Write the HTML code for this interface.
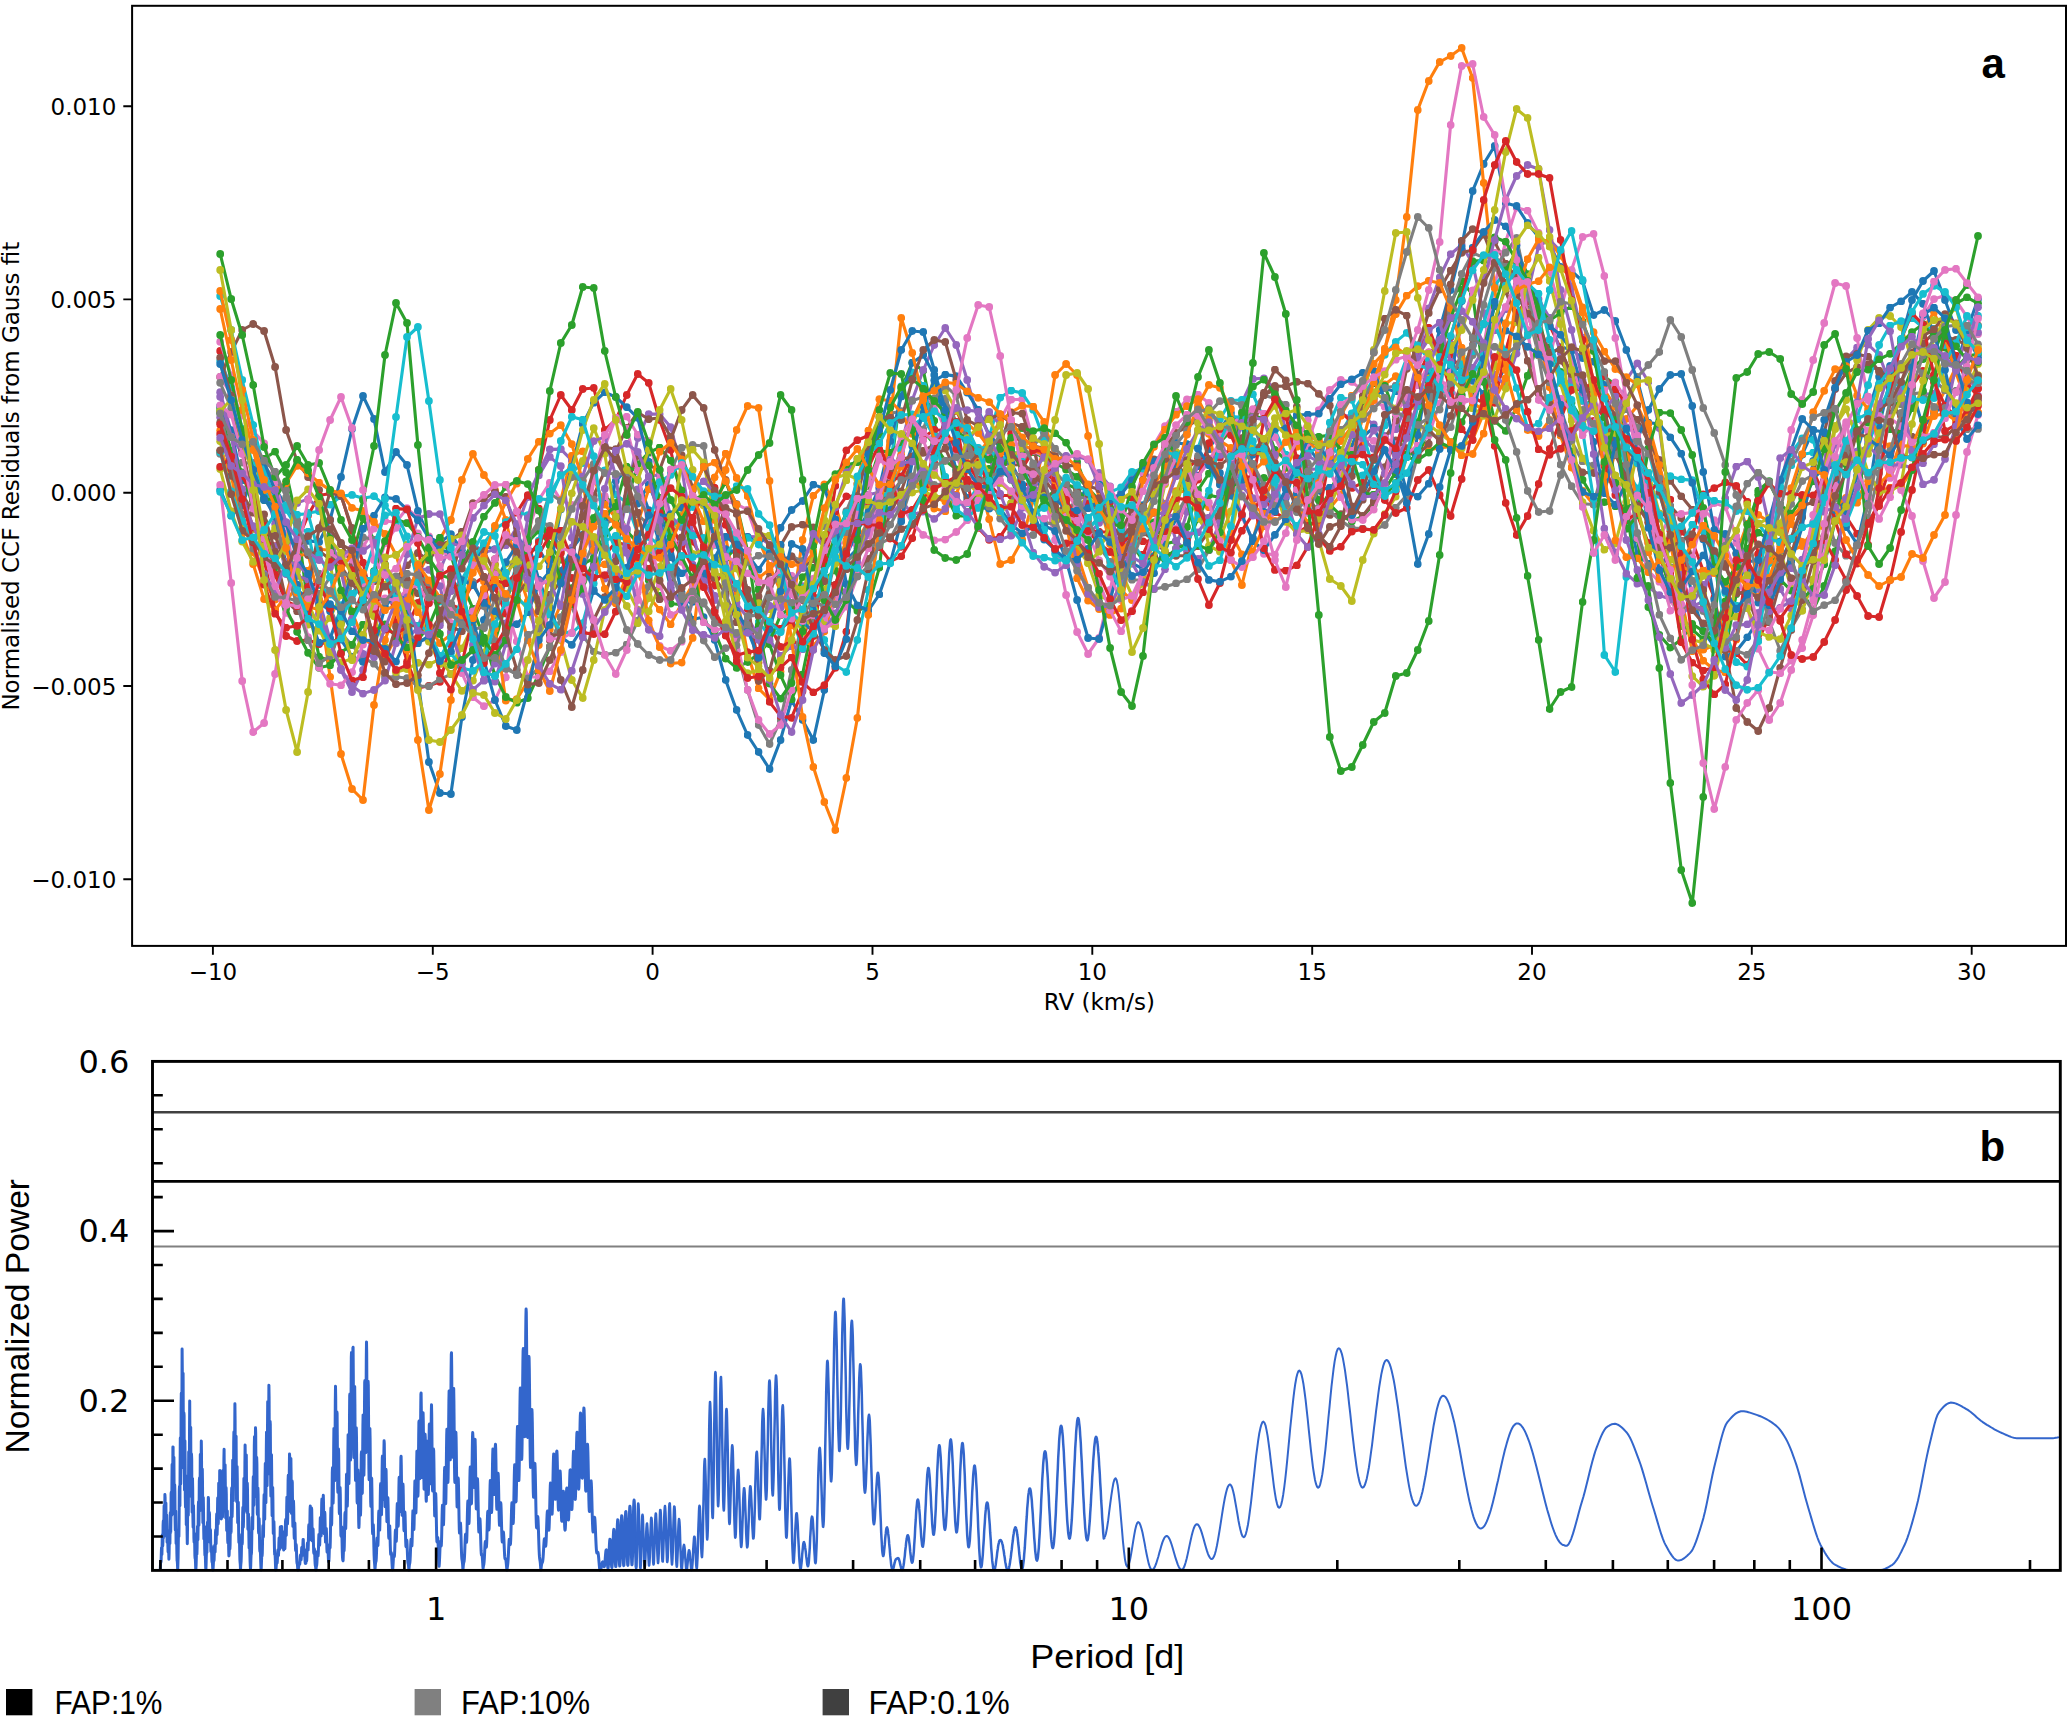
<!DOCTYPE html>
<html lang="en"><head><meta charset="utf-8"><title>CCF residuals and periodogram</title>
<style>html,body{margin:0;padding:0;background:#fff;}body{width:2069px;height:1719px;overflow:hidden;}svg{display:block;}.dj{font-family:"DejaVu Sans","Liberation Sans",sans-serif;font-size:23px;fill:#000;}  .tb{font-family:"Liberation Sans","DejaVu Sans",sans-serif;font-size:33.5px;fill:#000;}.bd{font-family:"Liberation Sans","DejaVu Sans",sans-serif;font-weight:bold;font-size:42px;fill:#000;}</style></head><body>
<svg width="2069" height="1719" viewBox="0 0 2069 1719">
<rect x="0" y="0" width="2069" height="1719" fill="#ffffff"/>
<defs>
<marker id="m0" markerUnits="userSpaceOnUse" markerWidth="8" markerHeight="8" refX="4" refY="4"><circle cx="4" cy="4" r="3.9" fill="#1f77b4"/></marker>
<marker id="m1" markerUnits="userSpaceOnUse" markerWidth="8" markerHeight="8" refX="4" refY="4"><circle cx="4" cy="4" r="3.9" fill="#ff7f0e"/></marker>
<marker id="m2" markerUnits="userSpaceOnUse" markerWidth="8" markerHeight="8" refX="4" refY="4"><circle cx="4" cy="4" r="3.9" fill="#2ca02c"/></marker>
<marker id="m3" markerUnits="userSpaceOnUse" markerWidth="8" markerHeight="8" refX="4" refY="4"><circle cx="4" cy="4" r="3.9" fill="#d62728"/></marker>
<marker id="m4" markerUnits="userSpaceOnUse" markerWidth="8" markerHeight="8" refX="4" refY="4"><circle cx="4" cy="4" r="3.9" fill="#9467bd"/></marker>
<marker id="m5" markerUnits="userSpaceOnUse" markerWidth="8" markerHeight="8" refX="4" refY="4"><circle cx="4" cy="4" r="3.9" fill="#8c564b"/></marker>
<marker id="m6" markerUnits="userSpaceOnUse" markerWidth="8" markerHeight="8" refX="4" refY="4"><circle cx="4" cy="4" r="3.9" fill="#e377c2"/></marker>
<marker id="m7" markerUnits="userSpaceOnUse" markerWidth="8" markerHeight="8" refX="4" refY="4"><circle cx="4" cy="4" r="3.9" fill="#7f7f7f"/></marker>
<marker id="m8" markerUnits="userSpaceOnUse" markerWidth="8" markerHeight="8" refX="4" refY="4"><circle cx="4" cy="4" r="3.9" fill="#bcbd22"/></marker>
<marker id="m9" markerUnits="userSpaceOnUse" markerWidth="8" markerHeight="8" refX="4" refY="4"><circle cx="4" cy="4" r="3.9" fill="#17becf"/></marker>
</defs>
<g fill="none" stroke-width="3.1" stroke-linejoin="round" stroke-linecap="round">
<polyline points="220.2,412.0 231.2,431.5 242.2,480.4 253.2,485.2 264.1,497.4 275.1,488.0 286.1,506.2 297.1,529.3 308.1,540.9 319.1,542.0 330.1,520.0 341.0,477.0 352.0,429.0 363.0,396.0 374.0,419.0 385.0,472.0 396.0,452.0 407.0,465.0 417.9,511.0 428.9,537.4 439.9,542.7 450.9,534.1 461.9,550.3 472.9,564.4 483.9,546.1 494.9,549.2 505.8,543.3 516.8,536.0 527.8,550.4 538.8,549.1 549.8,567.3 560.8,570.9 571.8,549.0 582.7,534.8 593.7,522.7 604.7,523.1 615.7,518.8 626.7,503.7 637.7,503.5 648.7,484.5 659.6,511.2 670.6,544.0 681.6,592.9 692.6,619.5 703.6,617.1 714.6,640.0 725.6,680.0 736.5,710.0 747.5,735.0 758.5,752.0 769.5,769.0 780.5,740.0 791.5,700.0 802.5,720.0 813.4,740.0 824.4,690.0 835.4,620.0 846.4,560.0 857.4,548.7 868.4,526.5 879.4,516.6 890.3,509.9 901.3,477.6 912.3,446.0 923.3,412.9 934.3,400.1 945.3,403.3 956.3,427.5 967.2,447.4 978.2,466.7 989.2,478.6 1000.2,467.4 1011.2,449.0 1022.2,461.8 1033.2,476.5 1044.2,493.0 1055.1,512.7 1066.1,523.6 1077.1,504.3 1088.1,484.9 1099.1,478.7 1110.1,491.9 1121.1,507.8 1132.0,507.9 1143.0,505.2 1154.0,494.3 1165.0,474.9 1176.0,466.6 1187.0,475.7 1198.0,466.2 1208.9,449.4 1219.9,430.4 1230.9,413.0 1241.9,426.4 1252.9,466.2 1263.9,495.5 1274.9,506.2 1285.8,497.7 1296.8,462.1 1307.8,446.4 1318.8,461.7 1329.8,460.7 1340.8,456.5 1351.8,446.7 1362.7,415.1 1373.7,398.2 1384.7,388.4 1395.7,391.4 1406.7,393.1 1417.7,405.6 1428.7,396.8 1439.6,376.5 1450.6,367.1 1461.6,369.1 1472.6,380.9 1483.6,393.9 1494.6,388.6 1505.6,365.7 1516.5,347.9 1527.5,335.6 1538.5,325.0 1549.5,355.1 1560.5,347.1 1571.5,349.4 1582.5,358.1 1593.5,361.7 1604.4,385.0 1615.4,439.7 1626.4,505.8 1637.4,555.1 1648.4,563.6 1659.4,573.8 1670.4,546.2 1681.3,545.1 1692.3,595.9 1703.3,631.0 1714.3,646.6 1725.3,625.7 1736.3,587.1 1747.3,562.0 1758.2,560.0 1769.2,562.6 1780.2,562.9 1791.2,538.9 1802.2,508.5 1813.2,478.5 1824.2,468.1 1835.1,467.0 1846.1,472.4 1857.1,451.7 1868.1,412.3 1879.1,376.8 1890.1,365.9 1901.1,383.4 1912.0,388.4 1923.0,427.9 1934.0,412.8 1945.0,405.2 1956.0,366.5 1967.0,330.6 1978.0,299.0" stroke="#1f77b4" marker-start="url(#m0)" marker-mid="url(#m0)" marker-end="url(#m0)"/>
<polyline points="220.2,430.5 231.2,466.1 242.2,514.9 253.2,552.2 264.1,581.0 275.1,599.6 286.1,601.0 297.1,586.2 308.1,570.5 319.1,549.3 330.1,550.3 341.0,561.6 352.0,612.3 363.0,638.7 374.0,645.8 385.0,657.6 396.0,637.2 407.0,621.8 417.9,574.9 428.9,553.4 439.9,539.1 450.9,520.0 461.9,480.0 472.9,454.0 483.9,475.0 494.9,490.0 505.8,520.0 516.8,568.1 527.8,601.4 538.8,620.5 549.8,629.5 560.8,604.5 571.8,600.4 582.7,580.7 593.7,567.1 604.7,564.3 615.7,571.8 626.7,587.1 637.7,573.2 648.7,596.7 659.6,609.5 670.6,624.4 681.6,603.5 692.6,584.7 703.6,561.8 714.6,530.7 725.6,536.9 736.5,594.5 747.5,653.2 758.5,688.3 769.5,699.4 780.5,671.6 791.5,612.4 802.5,539.9 813.4,495.7 824.4,484.4 835.4,505.6 846.4,540.1 857.4,539.2 868.4,522.3 879.4,498.6 890.3,488.3 901.3,466.6 912.3,480.3 923.3,487.1 934.3,508.5 945.3,511.4 956.3,494.5 967.2,462.7 978.2,478.6 989.2,519.2 1000.2,564.0 1011.2,560.0 1022.2,540.0 1033.2,500.0 1044.2,440.0 1055.1,375.0 1066.1,364.0 1077.1,375.0 1088.1,436.0 1099.1,500.0 1110.1,544.1 1121.1,590.4 1132.0,600.1 1143.0,577.5 1154.0,539.0 1165.0,511.9 1176.0,491.1 1187.0,491.7 1198.0,499.1 1208.9,507.3 1219.9,520.0 1230.9,560.0 1241.9,585.0 1252.9,540.0 1263.9,500.0 1274.9,476.1 1285.8,484.7 1296.8,503.2 1307.8,523.0 1318.8,525.7 1329.8,508.3 1340.8,494.7 1351.8,458.5 1362.7,417.3 1373.7,395.9 1384.7,384.4 1395.7,376.2 1406.7,406.6 1417.7,435.3 1428.7,450.1 1439.6,447.7 1450.6,446.8 1461.6,446.7 1472.6,439.7 1483.6,413.4 1494.6,379.7 1505.6,351.3 1516.5,317.7 1527.5,311.3 1538.5,333.2 1549.5,387.2 1560.5,435.7 1571.5,467.6 1582.5,490.7 1593.5,504.7 1604.4,491.6 1615.4,451.4 1626.4,418.9 1637.4,405.7 1648.4,429.2 1659.4,474.2 1670.4,543.2 1681.3,597.7 1692.3,651.3 1703.3,649.7 1714.3,645.2 1725.3,611.1 1736.3,553.8 1747.3,523.8 1758.2,514.9 1769.2,521.7 1780.2,530.3 1791.2,550.6 1802.2,546.0 1813.2,529.9 1824.2,526.8 1835.1,520.8 1846.1,498.8 1857.1,502.7 1868.1,487.8 1879.1,490.9 1890.1,487.6 1901.1,487.0 1912.0,469.7 1923.0,443.6 1934.0,411.2 1945.0,390.4 1956.0,366.8 1967.0,373.7 1978.0,377.8" stroke="#ff7f0e" marker-start="url(#m1)" marker-mid="url(#m1)" marker-end="url(#m1)"/>
<polyline points="220.2,408.8 231.2,470.8 242.2,515.3 253.2,501.6 264.1,458.7 275.1,451.6 286.1,472.3 297.1,521.6 308.1,606.9 319.1,656.7 330.1,660.9 341.0,623.2 352.0,557.0 363.0,517.8 374.0,540.2 385.0,564.4 396.0,586.0 407.0,610.2 417.9,571.1 428.9,548.2 439.9,537.6 450.9,554.7 461.9,591.9 472.9,632.5 483.9,643.0 494.9,641.6 505.8,604.3 516.8,566.6 527.8,542.3 538.8,530.7 549.8,544.9 560.8,559.6 571.8,567.1 582.7,550.8 593.7,518.0 604.7,497.8 615.7,503.0 626.7,531.0 637.7,542.9 648.7,580.1 659.6,595.6 670.6,603.5 681.6,604.8 692.6,593.3 703.6,572.9 714.6,563.0 725.6,558.2 736.5,547.8 747.5,557.7 758.5,589.4 769.5,644.2 780.5,675.1 791.5,699.4 802.5,674.5 813.4,621.8 824.4,578.8 835.4,570.6 846.4,601.4 857.4,610.8 868.4,605.9 879.4,567.6 890.3,471.7 901.3,388.8 912.3,362.5 923.3,370.7 934.3,420.8 945.3,494.2 956.3,515.7 967.2,516.3 978.2,489.1 989.2,468.8 1000.2,468.4 1011.2,479.7 1022.2,504.7 1033.2,515.1 1044.2,500.8 1055.1,489.7 1066.1,483.9 1077.1,489.0 1088.1,502.8 1099.1,507.4 1110.1,519.2 1121.1,516.0 1132.0,513.4 1143.0,521.1 1154.0,522.3 1165.0,544.0 1176.0,541.3 1187.0,527.0 1198.0,490.1 1208.9,473.5 1219.9,442.5 1230.9,430.8 1241.9,419.5 1252.9,415.1 1263.9,419.3 1274.9,450.0 1285.8,460.2 1296.8,487.1 1307.8,499.0 1318.8,511.0 1329.8,491.8 1340.8,469.3 1351.8,435.0 1362.7,403.9 1373.7,383.3 1384.7,385.8 1395.7,415.4 1406.7,450.9 1417.7,457.4 1428.7,428.6 1439.6,368.3 1450.6,303.2 1461.6,281.1 1472.6,294.6 1483.6,374.7 1494.6,420.8 1505.6,430.9 1516.5,406.9 1527.5,375.8 1538.5,340.5 1549.5,347.1 1560.5,372.0 1571.5,402.7 1582.5,420.4 1593.5,388.7 1604.4,376.7 1615.4,384.6 1626.4,453.6 1637.4,538.7 1648.4,607.0 1659.4,634.9 1670.4,647.5 1681.3,639.5 1692.3,624.0 1703.3,631.1 1714.3,642.9 1725.3,648.9 1736.3,594.1 1747.3,535.6 1758.2,490.7 1769.2,481.2 1780.2,504.7 1791.2,559.1 1802.2,592.2 1813.2,610.0 1824.2,586.0 1835.1,551.3 1846.1,510.9 1857.1,470.4 1868.1,445.3 1879.1,439.5 1890.1,413.9 1901.1,397.5 1912.0,367.9 1923.0,359.0 1934.0,352.3 1945.0,347.6 1956.0,368.0 1967.0,356.3 1978.0,353.9" stroke="#2ca02c" marker-start="url(#m2)" marker-mid="url(#m2)" marker-end="url(#m2)"/>
<polyline points="220.2,351.0 231.2,400.0 242.2,450.0 253.2,500.0 264.1,560.0 275.1,610.0 286.1,636.0 297.1,641.0 308.1,640.0 319.1,644.0 330.1,642.0 341.0,639.0 352.0,620.0 363.0,590.0 374.0,573.4 385.0,570.6 396.0,622.6 407.0,661.7 417.9,688.1 428.9,685.8 439.9,681.8 450.9,643.9 461.9,601.6 472.9,584.5 483.9,576.8 494.9,587.8 505.8,613.5 516.8,601.4 527.8,543.2 538.8,470.0 549.8,420.0 560.8,395.0 571.8,410.0 582.7,389.0 593.7,388.0 604.7,430.0 615.7,420.0 626.7,395.0 637.7,374.0 648.7,383.0 659.6,420.0 670.6,450.0 681.6,498.0 692.6,541.5 703.6,560.4 714.6,585.5 725.6,568.0 736.5,588.3 747.5,595.9 758.5,609.6 769.5,624.5 780.5,646.9 791.5,641.3 802.5,645.2 813.4,596.6 824.4,564.6 835.4,511.6 846.4,496.4 857.4,496.4 868.4,503.1 879.4,547.3 890.3,561.3 901.3,556.3 912.3,538.2 923.3,502.7 934.3,463.0 945.3,427.7 956.3,410.7 967.2,433.4 978.2,463.1 989.2,484.6 1000.2,495.5 1011.2,495.5 1022.2,486.0 1033.2,481.7 1044.2,472.2 1055.1,480.4 1066.1,488.2 1077.1,501.7 1088.1,530.9 1099.1,543.4 1110.1,552.0 1121.1,559.8 1132.0,549.7 1143.0,554.5 1154.0,530.5 1165.0,520.4 1176.0,500.5 1187.0,469.3 1198.0,458.3 1208.9,458.5 1219.9,457.7 1230.9,448.6 1241.9,477.3 1252.9,476.7 1263.9,499.1 1274.9,512.4 1285.8,518.8 1296.8,533.6 1307.8,526.0 1318.8,519.6 1329.8,492.3 1340.8,479.9 1351.8,487.9 1362.7,482.8 1373.7,485.3 1384.7,483.6 1395.7,460.8 1406.7,417.7 1417.7,377.9 1428.7,352.3 1439.6,346.3 1450.6,355.6 1461.6,369.4 1472.6,396.8 1483.6,403.2 1494.6,402.8 1505.6,351.3 1516.5,312.4 1527.5,301.4 1538.5,312.5 1549.5,325.2 1560.5,348.2 1571.5,377.4 1582.5,376.0 1593.5,404.2 1604.4,417.2 1615.4,451.5 1626.4,473.2 1637.4,515.1 1648.4,543.0 1659.4,557.4 1670.4,531.3 1681.3,531.8 1692.3,541.5 1703.3,570.9 1714.3,597.7 1725.3,650.1 1736.3,653.2 1747.3,664.9 1758.2,640.7 1769.2,616.8 1780.2,556.3 1791.2,517.5 1802.2,509.9 1813.2,471.1 1824.2,494.9 1835.1,489.5 1846.1,516.5 1857.1,533.7 1868.1,523.9 1879.1,502.2 1890.1,465.4 1901.1,416.0 1912.0,385.5 1923.0,371.0 1934.0,382.2 1945.0,405.6 1956.0,416.9 1967.0,415.5 1978.0,388.4" stroke="#d62728" marker-start="url(#m3)" marker-mid="url(#m3)" marker-end="url(#m3)"/>
<polyline points="220.2,417.2 231.2,435.8 242.2,453.6 253.2,462.8 264.1,487.8 275.1,523.7 286.1,574.1 297.1,575.9 308.1,579.8 319.1,600.0 330.1,640.0 341.0,670.0 352.0,692.0 363.0,670.0 374.0,630.0 385.0,599.9 396.0,604.2 407.0,639.6 417.9,626.9 428.9,598.4 439.9,570.3 450.9,543.9 461.9,545.8 472.9,543.4 483.9,552.6 494.9,549.6 505.8,545.3 516.8,527.3 527.8,497.0 538.8,472.1 549.8,449.4 560.8,449.1 571.8,460.3 582.7,507.2 593.7,564.3 604.7,578.6 615.7,556.2 626.7,497.5 637.7,437.9 648.7,414.1 659.6,414.1 670.6,427.1 681.6,467.5 692.6,534.0 703.6,572.4 714.6,595.8 725.6,595.5 736.5,549.4 747.5,536.8 758.5,536.5 769.5,544.4 780.5,562.2 791.5,607.0 802.5,586.1 813.4,584.2 824.4,540.6 835.4,507.5 846.4,472.3 857.4,459.0 868.4,461.2 879.4,488.9 890.3,486.8 901.3,445.7 912.3,400.0 923.3,370.0 934.3,345.0 945.3,328.0 956.3,345.0 967.2,380.0 978.2,420.0 989.2,455.6 1000.2,493.7 1011.2,522.0 1022.2,506.2 1033.2,486.4 1044.2,474.7 1055.1,486.7 1066.1,500.2 1077.1,519.5 1088.1,535.3 1099.1,522.8 1110.1,499.9 1121.1,493.0 1132.0,475.6 1143.0,466.2 1154.0,486.6 1165.0,503.9 1176.0,540.8 1187.0,551.6 1198.0,559.0 1208.9,549.9 1219.9,521.7 1230.9,465.8 1241.9,402.6 1252.9,378.9 1263.9,378.3 1274.9,389.1 1285.8,430.2 1296.8,460.7 1307.8,476.7 1318.8,476.8 1329.8,441.2 1340.8,415.2 1351.8,416.3 1362.7,416.9 1373.7,424.3 1384.7,436.0 1395.7,429.3 1406.7,404.7 1417.7,358.5 1428.7,308.4 1439.6,277.5 1450.6,254.2 1461.6,244.8 1472.6,263.3 1483.6,313.0 1494.6,374.6 1505.6,385.9 1516.5,353.6 1527.5,294.1 1538.5,246.5 1549.5,239.5 1560.5,251.2 1571.5,286.6 1582.5,337.5 1593.5,401.6 1604.4,439.6 1615.4,425.6 1626.4,379.9 1637.4,363.3 1648.4,382.0 1659.4,428.0 1670.4,507.7 1681.3,575.7 1692.3,606.2 1703.3,601.6 1714.3,536.7 1725.3,498.3 1736.3,466.6 1747.3,461.5 1758.2,477.1 1769.2,525.7 1780.2,589.0 1791.2,608.3 1802.2,587.0 1813.2,537.7 1824.2,464.4 1835.1,388.9 1846.1,359.3 1857.1,347.5 1868.1,344.5 1879.1,355.0 1890.1,384.0 1901.1,393.2 1912.0,404.6 1923.0,394.2 1934.0,393.5 1945.0,364.0 1956.0,367.4 1967.0,372.2 1978.0,395.6" stroke="#9467bd" marker-start="url(#m4)" marker-mid="url(#m4)" marker-end="url(#m4)"/>
<polyline points="220.2,377.0 231.2,352.0 242.2,330.0 253.2,324.0 264.1,331.0 275.1,367.0 286.1,430.0 297.1,461.0 308.1,477.0 319.1,490.0 330.1,520.0 341.0,543.0 352.0,565.5 363.0,578.0 374.0,581.4 385.0,584.6 396.0,578.6 407.0,565.4 417.9,552.9 428.9,560.3 439.9,544.9 450.9,540.7 461.9,531.6 472.9,547.1 483.9,551.2 494.9,573.2 505.8,582.1 516.8,595.2 527.8,580.8 538.8,607.6 549.8,594.6 560.8,581.6 571.8,556.3 582.7,516.4 593.7,495.5 604.7,471.1 615.7,451.7 626.7,427.9 637.7,412.4 648.7,419.2 659.6,417.9 670.6,436.8 681.6,455.1 692.6,487.5 703.6,546.2 714.6,577.9 725.6,593.2 736.5,622.3 747.5,620.8 758.5,596.4 769.5,572.7 780.5,545.8 791.5,526.9 802.5,524.7 813.4,527.4 824.4,543.1 835.4,560.8 846.4,569.4 857.4,571.5 868.4,559.0 879.4,542.7 890.3,513.5 901.3,491.3 912.3,459.0 923.3,450.7 934.3,444.8 945.3,441.5 956.3,446.9 967.2,453.6 978.2,465.4 989.2,456.9 1000.2,464.2 1011.2,464.5 1022.2,465.2 1033.2,480.6 1044.2,479.0 1055.1,493.8 1066.1,506.3 1077.1,517.6 1088.1,508.1 1099.1,514.3 1110.1,518.9 1121.1,528.4 1132.0,530.9 1143.0,532.5 1154.0,540.0 1165.0,552.1 1176.0,555.8 1187.0,555.6 1198.0,546.3 1208.9,531.3 1219.9,508.5 1230.9,468.8 1241.9,438.2 1252.9,410.6 1263.9,394.6 1274.9,390.0 1285.8,412.9 1296.8,433.0 1307.8,464.8 1318.8,489.6 1329.8,514.9 1340.8,514.1 1351.8,520.1 1362.7,499.7 1373.7,482.2 1384.7,438.0 1395.7,420.6 1406.7,368.8 1417.7,345.3 1428.7,312.9 1439.6,289.5 1450.6,270.5 1461.6,252.8 1472.6,250.1 1483.6,234.7 1494.6,241.6 1505.6,263.6 1516.5,277.3 1527.5,309.2 1538.5,334.3 1549.5,358.1 1560.5,360.5 1571.5,377.9 1582.5,383.4 1593.5,391.2 1604.4,396.2 1615.4,415.6 1626.4,408.6 1637.4,419.5 1648.4,442.0 1659.4,459.9 1670.4,480.9 1681.3,496.3 1692.3,509.6 1703.3,528.9 1714.3,556.6 1725.3,566.9 1736.3,591.4 1747.3,596.2 1758.2,625.2 1769.2,622.4 1780.2,581.9 1791.2,554.7 1802.2,517.0 1813.2,472.5 1824.2,432.6 1835.1,388.8 1846.1,373.1 1857.1,366.9 1868.1,364.3 1879.1,370.6 1890.1,393.8 1901.1,421.4 1912.0,436.7 1923.0,441.2 1934.0,436.4 1945.0,437.5 1956.0,426.6 1967.0,417.5 1978.0,400.6" stroke="#8c564b" marker-start="url(#m5)" marker-mid="url(#m5)" marker-end="url(#m5)"/>
<polyline points="220.2,341.7 231.2,375.4 242.2,430.0 253.2,484.6 264.1,550.4 275.1,592.4 286.1,612.8 297.1,626.7 308.1,618.8 319.1,614.0 330.1,590.8 341.0,560.9 352.0,548.3 363.0,546.9 374.0,528.6 385.0,521.0 396.0,522.3 407.0,508.2 417.9,518.2 428.9,536.4 439.9,566.1 450.9,623.2 461.9,673.2 472.9,697.2 483.9,706.2 494.9,700.1 505.8,677.3 516.8,586.6 527.8,531.2 538.8,499.8 549.8,482.8 560.8,500.4 571.8,505.0 582.7,502.0 593.7,502.0 604.7,496.0 615.7,512.5 626.7,528.5 637.7,592.3 648.7,624.0 659.6,646.0 670.6,650.8 681.6,641.7 692.6,601.4 703.6,554.9 714.6,511.7 725.6,501.0 736.5,504.0 747.5,509.8 758.5,541.9 769.5,555.7 780.5,573.6 791.5,575.7 802.5,597.0 813.4,578.7 824.4,553.2 835.4,543.3 846.4,542.6 857.4,546.2 868.4,535.1 879.4,521.6 890.3,481.0 901.3,450.1 912.3,421.9 923.3,398.0 934.3,403.9 945.3,429.8 956.3,456.1 967.2,480.0 978.2,477.7 989.2,450.5 1000.2,420.2 1011.2,399.6 1022.2,399.4 1033.2,442.0 1044.2,494.6 1055.1,540.0 1066.1,595.0 1077.1,632.0 1088.1,654.0 1099.1,638.0 1110.1,590.0 1121.1,540.0 1132.0,510.5 1143.0,472.9 1154.0,444.7 1165.0,426.2 1176.0,411.7 1187.0,399.3 1198.0,394.6 1208.9,403.0 1219.9,434.0 1230.9,471.7 1241.9,517.1 1252.9,540.2 1263.9,553.8 1274.9,554.6 1285.8,533.1 1296.8,492.8 1307.8,442.8 1318.8,410.2 1329.8,390.0 1340.8,380.0 1351.8,381.9 1362.7,390.4 1373.7,400.8 1384.7,406.9 1395.7,414.0 1406.7,397.1 1417.7,385.2 1428.7,364.7 1439.6,380.0 1450.6,387.0 1461.6,403.4 1472.6,399.5 1483.6,346.6 1494.6,284.8 1505.6,241.9 1516.5,207.6 1527.5,210.7 1538.5,232.9 1549.5,271.3 1560.5,310.3 1571.5,359.8 1582.5,401.4 1593.5,426.7 1604.4,454.3 1615.4,478.6 1626.4,502.2 1637.4,538.2 1648.4,571.0 1659.4,581.7 1670.4,600.1 1681.3,619.4 1692.3,590.4 1703.3,573.2 1714.3,556.3 1725.3,549.2 1736.3,542.8 1747.3,579.7 1758.2,568.4 1769.2,552.6 1780.2,493.7 1791.2,430.0 1802.2,400.0 1813.2,360.0 1824.2,323.0 1835.1,283.0 1846.1,286.0 1857.1,338.0 1868.1,400.0 1879.1,450.0 1890.1,477.9 1901.1,455.3 1912.0,369.8 1923.0,317.0 1934.0,299.1 1945.0,295.6 1956.0,300.4 1967.0,316.9 1978.0,334.1" stroke="#e377c2" marker-start="url(#m6)" marker-mid="url(#m6)" marker-end="url(#m6)"/>
<polyline points="220.2,453.8 231.2,469.2 242.2,462.5 253.2,463.5 264.1,464.7 275.1,481.8 286.1,490.2 297.1,520.0 308.1,552.5 319.1,573.6 330.1,608.2 341.0,633.0 352.0,645.3 363.0,657.6 374.0,663.7 385.0,677.0 396.0,676.7 407.0,678.2 417.9,686.2 428.9,686.3 439.9,679.1 450.9,674.3 461.9,661.1 472.9,650.5 483.9,628.2 494.9,615.5 505.8,580.0 516.8,549.8 527.8,538.8 538.8,521.0 549.8,526.0 560.8,550.5 571.8,606.4 582.7,635.0 593.7,651.5 604.7,654.5 615.7,652.7 626.7,644.5 637.7,620.8 648.7,586.5 659.6,523.1 670.6,471.4 681.6,447.7 692.6,445.0 703.6,446.0 714.6,515.0 725.6,587.9 736.5,650.0 747.5,690.0 758.5,725.0 769.5,744.0 780.5,720.0 791.5,670.0 802.5,620.0 813.4,623.0 824.4,606.3 835.4,559.0 846.4,511.1 857.4,484.0 868.4,449.6 879.4,423.6 890.3,413.6 901.3,411.1 912.3,400.9 923.3,396.8 934.3,399.2 945.3,398.8 956.3,422.0 967.2,437.7 978.2,470.6 989.2,495.2 1000.2,518.5 1011.2,532.6 1022.2,533.5 1033.2,535.0 1044.2,522.6 1055.1,524.1 1066.1,516.2 1077.1,496.4 1088.1,499.0 1099.1,512.9 1110.1,530.7 1121.1,562.2 1132.0,579.7 1143.0,580.3 1154.0,589.3 1165.0,586.8 1176.0,583.4 1187.0,579.4 1198.0,569.4 1208.9,550.3 1219.9,533.6 1230.9,484.9 1241.9,448.3 1252.9,410.1 1263.9,395.3 1274.9,398.4 1285.8,404.7 1296.8,438.5 1307.8,463.4 1318.8,508.0 1329.8,511.3 1340.8,520.6 1351.8,528.1 1362.7,528.5 1373.7,530.2 1384.7,525.0 1395.7,507.5 1406.7,495.4 1417.7,455.3 1428.7,411.6 1439.6,346.8 1450.6,307.1 1461.6,274.0 1472.6,252.9 1483.6,257.5 1494.6,256.8 1505.6,266.7 1516.5,282.5 1527.5,310.9 1538.5,354.8 1549.5,382.4 1560.5,408.4 1571.5,441.0 1582.5,461.4 1593.5,465.3 1604.4,440.7 1615.4,420.0 1626.4,400.0 1637.4,377.0 1648.4,365.0 1659.4,352.0 1670.4,320.0 1681.3,337.0 1692.3,370.0 1703.3,408.0 1714.3,433.0 1725.3,465.0 1736.3,495.0 1747.3,530.0 1758.2,583.6 1769.2,621.2 1780.2,650.7 1791.2,628.1 1802.2,609.5 1813.2,581.2 1824.2,541.6 1835.1,498.8 1846.1,443.5 1857.1,436.9 1868.1,416.7 1879.1,407.2 1890.1,390.6 1901.1,404.3 1912.0,393.9 1923.0,392.5 1934.0,406.9 1945.0,408.0 1956.0,419.0 1967.0,429.4 1978.0,428.9" stroke="#7f7f7f" marker-start="url(#m7)" marker-mid="url(#m7)" marker-end="url(#m7)"/>
<polyline points="220.2,441.2 231.2,491.4 242.2,528.2 253.2,529.3 264.1,539.3 275.1,528.1 286.1,570.3 297.1,598.4 308.1,624.6 319.1,630.7 330.1,617.9 341.0,595.2 352.0,575.3 363.0,576.0 374.0,616.2 385.0,646.8 396.0,672.2 407.0,669.1 417.9,662.8 428.9,664.5 439.9,659.1 450.9,673.9 461.9,690.8 472.9,680.5 483.9,652.9 494.9,613.0 505.8,563.6 516.8,560.0 527.8,588.4 538.8,608.1 549.8,610.0 560.8,640.0 571.8,680.0 582.7,698.0 593.7,660.0 604.7,610.0 615.7,588.3 626.7,606.0 637.7,623.3 648.7,598.1 659.6,566.8 670.6,532.3 681.6,514.9 692.6,553.9 703.6,549.9 714.6,572.8 725.6,577.3 736.5,568.5 747.5,597.2 758.5,603.2 769.5,609.4 780.5,601.5 791.5,609.8 802.5,632.9 813.4,613.1 824.4,589.5 835.4,563.7 846.4,542.5 857.4,503.0 868.4,508.5 879.4,494.9 890.3,478.2 901.3,450.6 912.3,423.7 923.3,401.2 934.3,385.5 945.3,390.5 956.3,410.6 967.2,427.1 978.2,454.9 989.2,472.7 1000.2,483.1 1011.2,492.4 1022.2,491.4 1033.2,492.0 1044.2,497.9 1055.1,520.5 1066.1,513.9 1077.1,506.8 1088.1,497.5 1099.1,506.6 1110.1,528.4 1121.1,571.5 1132.0,595.7 1143.0,583.9 1154.0,533.4 1165.0,484.2 1176.0,452.0 1187.0,451.1 1198.0,499.7 1208.9,545.9 1219.9,551.5 1230.9,534.3 1241.9,486.1 1252.9,448.6 1263.9,441.2 1274.9,490.2 1285.8,521.9 1296.8,532.1 1307.8,530.2 1318.8,540.0 1329.8,579.0 1340.8,586.0 1351.8,601.0 1362.7,560.0 1373.7,533.5 1384.7,514.2 1395.7,496.6 1406.7,456.7 1417.7,429.0 1428.7,424.7 1439.6,432.9 1450.6,441.7 1461.6,448.6 1472.6,427.0 1483.6,398.2 1494.6,366.2 1505.6,323.2 1516.5,322.3 1527.5,312.4 1538.5,347.6 1549.5,352.2 1560.5,383.2 1571.5,420.2 1582.5,458.4 1593.5,472.2 1604.4,481.6 1615.4,480.1 1626.4,488.5 1637.4,507.8 1648.4,519.2 1659.4,552.6 1670.4,559.8 1681.3,567.4 1692.3,580.6 1703.3,594.4 1714.3,634.0 1725.3,637.2 1736.3,583.0 1747.3,558.6 1758.2,523.6 1769.2,518.2 1780.2,550.5 1791.2,588.5 1802.2,610.9 1813.2,579.4 1824.2,485.0 1835.1,429.1 1846.1,400.0 1857.1,360.0 1868.1,330.0 1879.1,318.0 1890.1,316.0 1901.1,327.0 1912.0,360.0 1923.0,348.8 1934.0,350.6 1945.0,381.1 1956.0,408.2 1967.0,388.2 1978.0,363.9" stroke="#bcbd22" marker-start="url(#m8)" marker-mid="url(#m8)" marker-end="url(#m8)"/>
<polyline points="220.2,360.7 231.2,388.2 242.2,428.6 253.2,465.7 264.1,489.4 275.1,513.9 286.1,534.0 297.1,531.9 308.1,513.0 319.1,511.2 330.1,504.5 341.0,496.4 352.0,494.9 363.0,498.3 374.0,496.2 385.0,505.6 396.0,519.9 407.0,548.1 417.9,565.7 428.9,589.0 439.9,601.5 450.9,590.1 461.9,579.6 472.9,559.4 483.9,543.2 494.9,529.0 505.8,522.1 516.8,511.6 527.8,515.2 538.8,498.9 549.8,499.7 560.8,474.4 571.8,472.5 582.7,463.1 593.7,467.0 604.7,470.4 615.7,494.7 626.7,502.5 637.7,533.4 648.7,537.0 659.6,544.9 670.6,527.4 681.6,517.0 692.6,507.0 703.6,500.2 714.6,503.4 725.6,514.6 736.5,546.8 747.5,591.8 758.5,622.3 769.5,635.5 780.5,630.8 791.5,602.9 802.5,587.7 813.4,610.0 824.4,640.0 835.4,665.0 846.4,672.0 857.4,640.0 868.4,590.0 879.4,537.5 890.3,465.7 901.3,386.4 912.3,372.4 923.3,385.7 934.3,429.5 945.3,476.8 956.3,504.6 967.2,503.3 978.2,486.1 989.2,437.4 1000.2,397.5 1011.2,390.5 1022.2,393.0 1033.2,409.7 1044.2,440.1 1055.1,474.8 1066.1,506.3 1077.1,535.1 1088.1,529.2 1099.1,518.0 1110.1,492.1 1121.1,487.4 1132.0,471.9 1143.0,468.5 1154.0,462.0 1165.0,463.7 1176.0,457.7 1187.0,444.2 1198.0,448.3 1208.9,416.3 1219.9,419.2 1230.9,400.8 1241.9,399.8 1252.9,394.4 1263.9,418.9 1274.9,430.0 1285.8,454.6 1296.8,479.1 1307.8,475.3 1318.8,477.4 1329.8,452.4 1340.8,434.3 1351.8,413.4 1362.7,396.5 1373.7,378.8 1384.7,354.8 1395.7,341.9 1406.7,332.9 1417.7,345.4 1428.7,359.3 1439.6,366.7 1450.6,375.9 1461.6,372.5 1472.6,345.3 1483.6,324.0 1494.6,286.2 1505.6,271.0 1516.5,264.2 1527.5,291.5 1538.5,330.2 1549.5,356.4 1560.5,376.2 1571.5,385.4 1582.5,400.8 1593.5,406.3 1604.4,427.5 1615.4,429.7 1626.4,470.0 1637.4,488.4 1648.4,489.0 1659.4,481.9 1670.4,476.2 1681.3,479.4 1692.3,480.1 1703.3,512.0 1714.3,551.9 1725.3,592.9 1736.3,605.6 1747.3,604.2 1758.2,575.8 1769.2,526.4 1780.2,487.3 1791.2,465.3 1802.2,454.5 1813.2,452.5 1824.2,466.9 1835.1,461.9 1846.1,449.4 1857.1,417.3 1868.1,385.2 1879.1,345.0 1890.1,325.5 1901.1,321.1 1912.0,318.4 1923.0,327.6 1934.0,328.8 1945.0,345.0 1956.0,345.4 1967.0,327.4 1978.0,315.7" stroke="#17becf" marker-start="url(#m9)" marker-mid="url(#m9)" marker-end="url(#m9)"/>
<polyline points="220.2,489.7 231.2,515.7 242.2,505.3 253.2,475.0 264.1,498.0 275.1,516.5 286.1,563.9 297.1,590.4 308.1,597.5 319.1,601.8 330.1,611.2 341.0,639.6 352.0,656.5 363.0,661.8 374.0,647.7 385.0,607.1 396.0,592.3 407.0,600.0 417.9,680.0 428.9,762.0 439.9,793.0 450.9,794.0 461.9,717.0 472.9,660.0 483.9,620.0 494.9,583.6 505.8,562.2 516.8,545.1 527.8,541.4 538.8,579.7 549.8,607.8 560.8,636.8 571.8,644.8 582.7,627.3 593.7,589.7 604.7,530.6 615.7,481.0 626.7,469.9 637.7,479.4 648.7,510.1 659.6,542.6 670.6,587.7 681.6,602.2 692.6,601.8 703.6,577.3 714.6,559.3 725.6,549.1 736.5,552.4 747.5,536.9 758.5,542.9 769.5,536.0 780.5,544.6 791.5,581.4 802.5,621.7 813.4,631.9 824.4,616.6 835.4,589.6 846.4,555.5 857.4,530.8 868.4,512.2 879.4,487.6 890.3,441.1 901.3,396.7 912.3,362.7 923.3,354.9 934.3,374.9 945.3,427.8 956.3,470.5 967.2,497.8 978.2,507.5 989.2,508.6 1000.2,508.2 1011.2,524.5 1022.2,533.3 1033.2,525.9 1044.2,525.7 1055.1,531.0 1066.1,560.0 1077.1,600.0 1088.1,638.0 1099.1,639.0 1110.1,600.0 1121.1,560.0 1132.0,563.5 1143.0,568.6 1154.0,573.2 1165.0,545.0 1176.0,518.7 1187.0,497.8 1198.0,475.5 1208.9,459.4 1219.9,472.9 1230.9,495.5 1241.9,514.9 1252.9,541.3 1263.9,550.2 1274.9,534.8 1285.8,519.4 1296.8,493.8 1307.8,497.8 1318.8,490.6 1329.8,487.5 1340.8,482.3 1351.8,462.3 1362.7,436.8 1373.7,427.7 1384.7,450.4 1395.7,474.3 1406.7,492.0 1417.7,434.9 1428.7,370.9 1439.6,330.0 1450.6,290.0 1461.6,247.0 1472.6,191.0 1483.6,164.0 1494.6,146.0 1505.6,203.0 1516.5,206.0 1527.5,223.0 1538.5,237.0 1549.5,244.0 1560.5,267.0 1571.5,271.0 1582.5,281.0 1593.5,315.0 1604.4,310.0 1615.4,321.0 1626.4,350.0 1637.4,380.0 1648.4,422.6 1659.4,424.0 1670.4,437.4 1681.3,453.7 1692.3,482.8 1703.3,539.4 1714.3,599.8 1725.3,656.5 1736.3,651.3 1747.3,637.3 1758.2,619.9 1769.2,589.6 1780.2,541.5 1791.2,492.7 1802.2,454.5 1813.2,430.1 1824.2,432.2 1835.1,465.9 1846.1,527.0 1857.1,544.1 1868.1,495.9 1879.1,426.5 1890.1,380.0 1901.1,340.0 1912.0,300.0 1923.0,281.0 1934.0,271.0 1945.0,300.0 1956.0,330.0 1967.0,335.3 1978.0,357.5" stroke="#1f77b4" marker-start="url(#m0)" marker-mid="url(#m0)" marker-end="url(#m0)"/>
<polyline points="220.2,451.4 231.2,474.4 242.2,533.0 253.2,564.2 264.1,599.1 275.1,610.3 286.1,595.9 297.1,555.8 308.1,554.0 319.1,600.0 330.1,677.0 341.0,754.0 352.0,789.0 363.0,800.0 374.0,705.0 385.0,640.0 396.0,610.0 407.0,650.0 417.9,740.0 428.9,810.0 439.9,774.0 450.9,700.0 461.9,620.0 472.9,560.0 483.9,581.4 494.9,629.0 505.8,700.5 516.8,699.1 527.8,681.4 538.8,645.1 549.8,559.6 560.8,500.1 571.8,455.8 582.7,451.4 593.7,478.2 604.7,504.5 615.7,517.7 626.7,542.5 637.7,559.8 648.7,620.3 659.6,647.2 670.6,663.5 681.6,662.5 692.6,637.9 703.6,553.1 714.6,477.3 725.6,453.6 736.5,478.0 747.5,496.2 758.5,539.4 769.5,565.5 780.5,591.1 791.5,625.3 802.5,639.8 813.4,646.1 824.4,631.5 835.4,594.6 846.4,533.7 857.4,483.7 868.4,430.5 879.4,399.2 890.3,400.7 901.3,412.5 912.3,433.8 923.3,468.5 934.3,497.5 945.3,501.4 956.3,482.1 967.2,470.3 978.2,454.5 989.2,439.1 1000.2,420.9 1011.2,412.2 1022.2,405.8 1033.2,406.5 1044.2,421.9 1055.1,458.6 1066.1,523.5 1077.1,578.4 1088.1,600.6 1099.1,609.0 1110.1,606.5 1121.1,583.7 1132.0,540.2 1143.0,508.5 1154.0,485.1 1165.0,467.7 1176.0,434.6 1187.0,419.8 1198.0,408.0 1208.9,433.7 1219.9,483.8 1230.9,533.1 1241.9,554.4 1252.9,551.5 1263.9,526.4 1274.9,505.2 1285.8,467.7 1296.8,446.7 1307.8,439.5 1318.8,453.0 1329.8,461.4 1340.8,474.1 1351.8,471.8 1362.7,441.6 1373.7,400.0 1384.7,350.0 1395.7,300.0 1406.7,217.0 1417.7,110.0 1428.7,81.0 1439.6,62.0 1450.6,56.0 1461.6,48.0 1472.6,78.0 1483.6,183.0 1494.6,288.0 1505.6,370.0 1516.5,410.0 1527.5,430.0 1538.5,436.0 1549.5,420.0 1560.5,426.8 1571.5,433.9 1582.5,424.8 1593.5,395.2 1604.4,390.0 1615.4,406.5 1626.4,441.1 1637.4,508.2 1648.4,552.3 1659.4,579.1 1670.4,589.9 1681.3,622.1 1692.3,637.4 1703.3,660.7 1714.3,669.7 1725.3,672.4 1736.3,639.6 1747.3,594.8 1758.2,554.6 1769.2,530.7 1780.2,525.1 1791.2,524.0 1802.2,542.0 1813.2,554.5 1824.2,539.1 1835.1,506.5 1846.1,497.8 1857.1,498.2 1868.1,481.3 1879.1,483.9 1890.1,473.0 1901.1,440.5 1912.0,362.8 1923.0,328.7 1934.0,312.3 1945.0,337.7 1956.0,372.7 1967.0,404.6 1978.0,412.3" stroke="#ff7f0e" marker-start="url(#m1)" marker-mid="url(#m1)" marker-end="url(#m1)"/>
<polyline points="220.2,412.8 231.2,450.9 242.2,472.4 253.2,507.1 264.1,521.9 275.1,566.5 286.1,608.5 297.1,631.8 308.1,652.8 319.1,667.8 330.1,665.3 341.0,652.6 352.0,644.6 363.0,624.5 374.0,631.2 385.0,624.3 396.0,637.0 407.0,647.4 417.9,639.7 428.9,626.2 439.9,599.8 450.9,590.7 461.9,582.9 472.9,608.7 483.9,637.5 494.9,675.4 505.8,697.0 516.8,702.7 527.8,698.1 538.8,674.0 549.8,647.0 560.8,617.7 571.8,588.2 582.7,564.3 593.7,558.1 604.7,534.6 615.7,523.8 626.7,502.1 637.7,464.1 648.7,452.7 659.6,447.5 670.6,460.5 681.6,490.4 692.6,566.1 703.6,621.5 714.6,631.2 725.6,658.6 736.5,667.9 747.5,662.0 758.5,653.9 769.5,641.5 780.5,615.3 791.5,607.1 802.5,577.1 813.4,567.7 824.4,565.9 835.4,535.8 846.4,513.1 857.4,502.1 868.4,485.8 879.4,450.4 890.3,452.5 901.3,442.8 912.3,427.7 923.3,430.6 934.3,444.6 945.3,460.8 956.3,469.3 967.2,482.5 978.2,490.2 989.2,485.3 1000.2,471.7 1011.2,453.8 1022.2,452.2 1033.2,452.0 1044.2,457.7 1055.1,463.0 1066.1,469.5 1077.1,476.8 1088.1,488.3 1099.1,500.1 1110.1,501.5 1121.1,527.7 1132.0,543.8 1143.0,560.7 1154.0,558.7 1165.0,559.2 1176.0,548.6 1187.0,544.1 1198.0,518.7 1208.9,495.2 1219.9,497.5 1230.9,487.1 1241.9,480.1 1252.9,480.1 1263.9,478.0 1274.9,481.0 1285.8,467.6 1296.8,478.3 1307.8,477.1 1318.8,500.0 1329.8,504.6 1340.8,515.5 1351.8,521.4 1362.7,516.1 1373.7,504.5 1384.7,490.0 1395.7,472.1 1406.7,457.2 1417.7,459.9 1428.7,452.6 1439.6,442.7 1450.6,447.2 1461.6,422.1 1472.6,402.0 1483.6,349.5 1494.6,306.4 1505.6,270.4 1516.5,251.1 1527.5,274.1 1538.5,315.1 1549.5,364.0 1560.5,419.4 1571.5,451.8 1582.5,479.8 1593.5,498.2 1604.4,502.1 1615.4,506.3 1626.4,506.3 1637.4,504.4 1648.4,519.5 1659.4,555.2 1670.4,589.0 1681.3,626.2 1692.3,629.6 1703.3,639.1 1714.3,628.5 1725.3,601.3 1736.3,567.5 1747.3,548.6 1758.2,532.7 1769.2,539.1 1780.2,579.7 1791.2,590.6 1802.2,598.6 1813.2,588.9 1824.2,564.4 1835.1,521.8 1846.1,464.3 1857.1,431.9 1868.1,422.6 1879.1,413.4 1890.1,429.3 1901.1,433.3 1912.0,408.4 1923.0,391.0 1934.0,354.0 1945.0,323.3 1956.0,303.4 1967.0,297.3 1978.0,303.3" stroke="#2ca02c" marker-start="url(#m2)" marker-mid="url(#m2)" marker-end="url(#m2)"/>
<polyline points="220.2,434.1 231.2,469.0 242.2,494.5 253.2,527.7 264.1,539.2 275.1,546.2 286.1,544.1 297.1,541.2 308.1,515.3 319.1,495.4 330.1,493.4 341.0,494.5 352.0,530.7 363.0,562.6 374.0,608.7 385.0,629.5 396.0,633.6 407.0,626.9 417.9,602.9 428.9,584.6 439.9,599.6 450.9,604.5 461.9,609.4 472.9,620.8 483.9,599.4 494.9,564.4 505.8,524.9 516.8,512.6 527.8,495.1 538.8,508.5 549.8,552.3 560.8,577.3 571.8,578.0 582.7,577.1 593.7,566.9 604.7,555.3 615.7,542.3 626.7,545.1 637.7,557.1 648.7,568.9 659.6,552.4 670.6,548.9 681.6,540.3 692.6,517.6 703.6,493.5 714.6,487.7 725.6,524.9 736.5,552.4 747.5,608.9 758.5,662.6 769.5,701.9 780.5,716.1 791.5,717.9 802.5,691.0 813.4,636.1 824.4,559.4 835.4,485.9 846.4,450.3 857.4,440.2 868.4,435.5 879.4,442.5 890.3,481.4 901.3,476.4 912.3,456.5 923.3,437.6 934.3,429.8 945.3,430.5 956.3,449.1 967.2,463.9 978.2,479.9 989.2,485.1 1000.2,458.8 1011.2,433.5 1022.2,442.5 1033.2,443.3 1044.2,456.3 1055.1,485.8 1066.1,499.1 1077.1,519.9 1088.1,503.7 1099.1,505.9 1110.1,501.6 1121.1,496.4 1132.0,497.7 1143.0,507.7 1154.0,512.2 1165.0,526.5 1176.0,529.7 1187.0,500.1 1198.0,479.5 1208.9,443.1 1219.9,428.9 1230.9,435.0 1241.9,460.7 1252.9,499.0 1263.9,548.3 1274.9,569.9 1285.8,570.5 1296.8,565.4 1307.8,546.8 1318.8,514.0 1329.8,456.8 1340.8,411.4 1351.8,422.6 1362.7,449.4 1373.7,480.0 1384.7,500.0 1395.7,513.0 1406.7,508.0 1417.7,480.0 1428.7,470.0 1439.6,495.0 1450.6,516.0 1461.6,479.0 1472.6,430.0 1483.6,400.0 1494.6,446.0 1505.6,503.0 1516.5,535.0 1527.5,516.0 1538.5,484.0 1549.5,449.0 1560.5,420.0 1571.5,390.0 1582.5,389.1 1593.5,382.2 1604.4,376.3 1615.4,389.6 1626.4,403.8 1637.4,451.2 1648.4,522.4 1659.4,568.8 1670.4,596.3 1681.3,587.8 1692.3,535.8 1703.3,494.3 1714.3,488.1 1725.3,482.4 1736.3,485.9 1747.3,501.8 1758.2,553.9 1769.2,604.2 1780.2,618.5 1791.2,603.0 1802.2,568.6 1813.2,544.0 1824.2,540.0 1835.1,560.0 1846.1,580.0 1857.1,596.0 1868.1,616.0 1879.1,617.0 1890.1,580.0 1901.1,532.0 1912.0,490.0 1923.0,438.4 1934.0,374.8 1945.0,337.3 1956.0,355.5 1967.0,383.0 1978.0,396.8" stroke="#d62728" marker-start="url(#m3)" marker-mid="url(#m3)" marker-end="url(#m3)"/>
<polyline points="220.2,392.2 231.2,431.9 242.2,499.0 253.2,526.1 264.1,551.3 275.1,546.3 286.1,534.3 297.1,502.9 308.1,499.1 319.1,507.7 330.1,535.3 341.0,571.5 352.0,619.1 363.0,653.9 374.0,657.1 385.0,628.6 396.0,599.8 407.0,554.1 417.9,518.7 428.9,514.0 439.9,514.1 450.9,542.0 461.9,597.5 472.9,644.7 483.9,680.7 494.9,681.5 505.8,643.7 516.8,583.8 527.8,518.2 538.8,475.4 549.8,456.9 560.8,466.1 571.8,537.6 582.7,594.1 593.7,628.0 604.7,612.0 615.7,596.4 626.7,528.8 637.7,489.4 648.7,476.7 659.6,474.6 670.6,515.9 681.6,527.1 692.6,564.6 703.6,581.1 714.6,600.0 725.6,608.6 736.5,603.0 747.5,617.9 758.5,635.7 769.5,639.9 780.5,655.7 791.5,646.3 802.5,649.4 813.4,627.6 824.4,614.3 835.4,593.1 846.4,553.9 857.4,517.6 868.4,494.8 879.4,492.3 890.3,488.5 901.3,499.8 912.3,514.6 923.3,511.7 934.3,518.9 945.3,508.8 956.3,481.8 967.2,442.5 978.2,426.2 989.2,411.9 1000.2,425.3 1011.2,469.9 1022.2,516.1 1033.2,552.6 1044.2,566.8 1055.1,572.5 1066.1,565.3 1077.1,524.7 1088.1,490.4 1099.1,472.9 1110.1,486.4 1121.1,527.0 1132.0,563.1 1143.0,581.9 1154.0,588.6 1165.0,569.3 1176.0,548.8 1187.0,511.7 1198.0,462.2 1208.9,458.9 1219.9,454.9 1230.9,457.4 1241.9,486.1 1252.9,498.1 1263.9,504.5 1274.9,491.1 1285.8,477.0 1296.8,481.6 1307.8,469.5 1318.8,468.9 1329.8,462.5 1340.8,450.6 1351.8,456.1 1362.7,449.2 1373.7,430.5 1384.7,425.1 1395.7,386.0 1406.7,366.5 1417.7,356.2 1428.7,339.2 1439.6,350.4 1450.6,344.0 1461.6,361.5 1472.6,367.6 1483.6,349.4 1494.6,330.4 1505.6,309.3 1516.5,281.5 1527.5,284.6 1538.5,299.1 1549.5,317.7 1560.5,352.4 1571.5,379.9 1582.5,392.1 1593.5,404.3 1604.4,409.3 1615.4,396.5 1626.4,427.2 1637.4,434.3 1648.4,488.1 1659.4,551.0 1670.4,583.8 1681.3,614.6 1692.3,604.6 1703.3,584.5 1714.3,571.9 1725.3,539.1 1736.3,537.9 1747.3,561.2 1758.2,588.9 1769.2,611.1 1780.2,607.8 1791.2,601.1 1802.2,559.6 1813.2,522.4 1824.2,483.8 1835.1,444.5 1846.1,446.9 1857.1,451.6 1868.1,445.9 1879.1,456.9 1890.1,465.4 1901.1,464.5 1912.0,467.9 1923.0,463.3 1934.0,444.3 1945.0,415.5 1956.0,366.3 1967.0,337.5 1978.0,332.4" stroke="#9467bd" marker-start="url(#m4)" marker-mid="url(#m4)" marker-end="url(#m4)"/>
<polyline points="220.2,422.4 231.2,475.8 242.2,493.7 253.2,512.7 264.1,514.4 275.1,551.8 286.1,600.7 297.1,611.3 308.1,591.0 319.1,527.9 330.1,492.2 341.0,495.9 352.0,527.9 363.0,600.6 374.0,651.1 385.0,661.5 396.0,626.8 407.0,625.4 417.9,626.0 428.9,634.6 439.9,616.5 450.9,581.6 461.9,535.4 472.9,503.1 483.9,499.3 494.9,491.4 505.8,496.8 516.8,533.6 527.8,570.3 538.8,600.0 549.8,640.0 560.8,680.0 571.8,707.0 582.7,670.0 593.7,620.0 604.7,597.1 615.7,561.3 626.7,483.4 637.7,455.9 648.7,465.3 659.6,470.0 670.6,440.0 681.6,410.0 692.6,395.0 703.6,408.0 714.6,450.0 725.6,480.0 736.5,513.9 747.5,598.6 758.5,681.0 769.5,670.6 780.5,630.6 791.5,613.2 802.5,600.0 813.4,630.0 824.4,650.0 835.4,660.0 846.4,656.0 857.4,620.0 868.4,570.0 879.4,510.9 890.3,473.9 901.3,459.8 912.3,456.3 923.3,452.9 934.3,456.4 945.3,448.5 956.3,472.4 967.2,501.4 978.2,503.5 989.2,483.9 1000.2,443.7 1011.2,412.7 1022.2,413.6 1033.2,446.5 1044.2,491.0 1055.1,514.5 1066.1,502.4 1077.1,489.7 1088.1,486.2 1099.1,489.3 1110.1,509.9 1121.1,531.6 1132.0,508.9 1143.0,480.0 1154.0,459.3 1165.0,458.9 1176.0,461.6 1187.0,477.9 1198.0,505.1 1208.9,522.9 1219.9,515.6 1230.9,490.7 1241.9,452.3 1252.9,426.3 1263.9,395.3 1274.9,386.0 1285.8,386.3 1296.8,381.8 1307.8,383.6 1318.8,393.9 1329.8,405.5 1340.8,456.3 1351.8,506.3 1362.7,516.0 1373.7,501.5 1384.7,467.1 1395.7,440.4 1406.7,448.1 1417.7,454.9 1428.7,443.8 1439.6,350.9 1450.6,284.3 1461.6,240.8 1472.6,229.1 1483.6,233.4 1494.6,262.7 1505.6,291.3 1516.5,318.4 1527.5,360.9 1538.5,393.7 1549.5,404.0 1560.5,433.5 1571.5,457.4 1582.5,472.4 1593.5,473.0 1604.4,474.8 1615.4,447.3 1626.4,447.9 1637.4,463.1 1648.4,514.0 1659.4,518.7 1670.4,506.4 1681.3,517.9 1692.3,560.0 1703.3,590.0 1714.3,620.0 1725.3,650.0 1736.3,708.0 1747.3,722.0 1758.2,731.0 1769.2,708.0 1780.2,668.0 1791.2,630.0 1802.2,600.0 1813.2,560.8 1824.2,481.8 1835.1,380.9 1846.1,356.4 1857.1,354.0 1868.1,356.7 1879.1,371.7 1890.1,377.7 1901.1,369.6 1912.0,362.3 1923.0,343.6 1934.0,332.7 1945.0,336.2 1956.0,340.0 1967.0,344.9 1978.0,325.5" stroke="#8c564b" marker-start="url(#m5)" marker-mid="url(#m5)" marker-end="url(#m5)"/>
<polyline points="220.2,376.8 231.2,394.6 242.2,415.6 253.2,431.2 264.1,443.4 275.1,480.9 286.1,523.7 297.1,594.0 308.1,637.1 319.1,667.5 330.1,683.8 341.0,685.3 352.0,672.2 363.0,644.6 374.0,578.0 385.0,543.2 396.0,527.8 407.0,522.6 417.9,533.3 428.9,545.0 439.9,552.5 450.9,554.2 461.9,555.3 472.9,565.1 483.9,566.2 494.9,574.2 505.8,605.3 516.8,641.3 527.8,676.8 538.8,677.2 549.8,671.3 560.8,652.1 571.8,601.3 582.7,552.9 593.7,481.2 604.7,446.6 615.7,418.2 626.7,416.7 637.7,434.5 648.7,441.1 659.6,479.4 670.6,526.7 681.6,561.9 692.6,590.7 703.6,622.4 714.6,629.6 725.6,628.7 736.5,640.0 747.5,690.0 758.5,720.0 769.5,734.0 780.5,725.0 791.5,690.0 802.5,640.0 813.4,632.5 824.4,621.2 835.4,604.2 846.4,560.8 857.4,510.9 868.4,482.9 879.4,456.3 890.3,476.3 901.3,504.2 912.3,523.1 923.3,534.9 934.3,540.4 945.3,539.5 956.3,532.0 967.2,520.4 978.2,500.3 989.2,489.7 1000.2,474.7 1011.2,465.3 1022.2,456.1 1033.2,450.8 1044.2,456.5 1055.1,478.4 1066.1,492.0 1077.1,508.0 1088.1,533.2 1099.1,560.3 1110.1,576.6 1121.1,599.9 1132.0,595.8 1143.0,572.5 1154.0,555.6 1165.0,536.9 1176.0,528.5 1187.0,499.5 1198.0,476.5 1208.9,461.3 1219.9,441.4 1230.9,425.3 1241.9,414.9 1252.9,409.2 1263.9,413.5 1274.9,437.3 1285.8,458.9 1296.8,489.4 1307.8,513.1 1318.8,509.1 1329.8,497.1 1340.8,474.8 1351.8,450.7 1362.7,437.3 1373.7,440.9 1384.7,437.6 1395.7,444.1 1406.7,453.8 1417.7,445.5 1428.7,435.4 1439.6,403.3 1450.6,372.7 1461.6,326.2 1472.6,290.4 1483.6,276.7 1494.6,252.5 1505.6,251.3 1516.5,244.1 1527.5,315.2 1538.5,344.8 1549.5,360.0 1560.5,310.0 1571.5,270.0 1582.5,237.0 1593.5,234.0 1604.4,276.0 1615.4,338.0 1626.4,400.0 1637.4,461.0 1648.4,504.8 1659.4,537.5 1670.4,515.7 1681.3,514.0 1692.3,512.4 1703.3,509.5 1714.3,520.2 1725.3,545.1 1736.3,572.8 1747.3,606.8 1758.2,648.7 1769.2,671.7 1780.2,673.3 1791.2,660.5 1802.2,648.2 1813.2,615.2 1824.2,556.3 1835.1,485.8 1846.1,425.5 1857.1,418.9 1868.1,430.9 1879.1,450.0 1890.1,470.0 1901.1,490.0 1912.0,516.0 1923.0,561.0 1934.0,598.0 1945.0,582.0 1956.0,515.0 1967.0,452.0 1978.0,415.0" stroke="#e377c2" marker-start="url(#m6)" marker-mid="url(#m6)" marker-end="url(#m6)"/>
<polyline points="220.2,382.8 231.2,408.2 242.2,440.1 253.2,448.4 264.1,476.0 275.1,510.8 286.1,571.2 297.1,604.4 308.1,640.3 319.1,663.4 330.1,656.0 341.0,630.6 352.0,581.8 363.0,537.3 374.0,539.6 385.0,568.5 396.0,586.6 407.0,633.5 417.9,640.6 428.9,639.2 439.9,622.1 450.9,604.1 461.9,580.1 472.9,582.0 483.9,606.1 494.9,641.1 505.8,666.3 516.8,675.2 527.8,678.4 538.8,668.0 549.8,646.8 560.8,617.2 571.8,596.7 582.7,567.6 593.7,542.6 604.7,525.1 615.7,517.1 626.7,509.2 637.7,514.7 648.7,524.8 659.6,531.7 670.6,572.9 681.6,594.7 692.6,623.4 703.6,640.5 714.6,657.2 725.6,648.1 736.5,645.3 747.5,616.1 758.5,615.1 769.5,586.9 780.5,576.6 791.5,556.4 802.5,560.9 813.4,538.5 824.4,526.0 835.4,534.4 846.4,532.3 857.4,540.6 868.4,546.9 879.4,543.8 890.3,538.3 901.3,518.2 912.3,483.5 923.3,429.3 934.3,398.3 945.3,385.7 956.3,395.8 967.2,442.9 978.2,481.1 989.2,506.7 1000.2,511.1 1011.2,503.1 1022.2,467.7 1033.2,446.3 1044.2,433.2 1055.1,448.5 1066.1,459.6 1077.1,493.6 1088.1,521.4 1099.1,542.0 1110.1,538.2 1121.1,546.7 1132.0,524.5 1143.0,531.7 1154.0,527.2 1165.0,531.3 1176.0,515.4 1187.0,496.0 1198.0,455.7 1208.9,413.6 1219.9,401.1 1230.9,401.5 1241.9,405.0 1252.9,423.4 1263.9,454.3 1274.9,496.8 1285.8,510.8 1296.8,509.1 1307.8,510.7 1318.8,489.4 1329.8,462.3 1340.8,430.0 1351.8,418.9 1362.7,399.8 1373.7,381.1 1384.7,388.0 1395.7,385.9 1406.7,408.6 1417.7,422.8 1428.7,432.9 1439.6,438.5 1450.6,427.1 1461.6,394.4 1472.6,355.0 1483.6,304.9 1494.6,267.8 1505.6,252.7 1516.5,238.0 1527.5,288.1 1538.5,355.4 1549.5,420.7 1560.5,464.7 1571.5,486.2 1582.5,503.7 1593.5,504.5 1604.4,464.4 1615.4,420.4 1626.4,409.3 1637.4,427.8 1648.4,480.4 1659.4,532.7 1670.4,567.4 1681.3,607.0 1692.3,606.9 1703.3,611.1 1714.3,634.9 1725.3,647.8 1736.3,650.7 1747.3,654.7 1758.2,639.7 1769.2,602.4 1780.2,550.5 1791.2,504.1 1802.2,481.1 1813.2,475.0 1824.2,510.5 1835.1,543.0 1846.1,555.7 1857.1,545.2 1868.1,517.8 1879.1,473.1 1890.1,416.0 1901.1,382.2 1912.0,361.2 1923.0,373.4 1934.0,379.9 1945.0,390.3 1956.0,390.7 1967.0,381.3 1978.0,382.4" stroke="#7f7f7f" marker-start="url(#m7)" marker-mid="url(#m7)" marker-end="url(#m7)"/>
<polyline points="220.2,469.1 231.2,511.2 242.2,541.5 253.2,561.8 264.1,546.1 275.1,560.3 286.1,550.9 297.1,570.6 308.1,602.9 319.1,628.3 330.1,652.3 341.0,662.4 352.0,658.8 363.0,635.0 374.0,601.9 385.0,584.7 396.0,578.0 407.0,590.2 417.9,608.3 428.9,641.5 439.9,663.9 450.9,663.6 461.9,648.3 472.9,625.2 483.9,590.6 494.9,565.2 505.8,580.7 516.8,596.1 527.8,609.5 538.8,636.8 549.8,611.6 560.8,551.7 571.8,493.3 582.7,461.0 593.7,428.1 604.7,453.7 615.7,516.7 626.7,588.2 637.7,609.7 648.7,611.4 659.6,586.2 670.6,529.5 681.6,462.8 692.6,449.5 703.6,462.4 714.6,516.6 725.6,605.6 736.5,660.0 747.5,673.2 758.5,669.9 769.5,620.7 780.5,581.3 791.5,584.2 802.5,589.3 813.4,602.1 824.4,625.2 835.4,626.2 846.4,602.5 857.4,564.4 868.4,518.4 879.4,493.9 890.3,493.6 901.3,494.5 912.3,492.5 923.3,489.8 934.3,489.5 945.3,482.8 956.3,485.5 967.2,482.7 978.2,493.1 989.2,503.2 1000.2,512.4 1011.2,503.1 1022.2,500.6 1033.2,495.4 1044.2,495.8 1055.1,507.0 1066.1,515.2 1077.1,548.0 1088.1,562.9 1099.1,595.3 1110.1,601.2 1121.1,597.5 1132.0,559.0 1143.0,524.6 1154.0,494.7 1165.0,473.4 1176.0,473.1 1187.0,485.5 1198.0,518.1 1208.9,533.8 1219.9,538.1 1230.9,511.3 1241.9,472.1 1252.9,431.8 1263.9,420.2 1274.9,405.8 1285.8,435.0 1296.8,466.0 1307.8,509.9 1318.8,518.8 1329.8,505.5 1340.8,482.2 1351.8,434.1 1362.7,409.1 1373.7,392.1 1384.7,399.8 1395.7,408.4 1406.7,410.2 1417.7,406.3 1428.7,378.4 1439.6,364.1 1450.6,345.6 1461.6,355.2 1472.6,408.3 1483.6,415.8 1494.6,418.8 1505.6,388.5 1516.5,341.1 1527.5,277.1 1538.5,257.5 1549.5,280.9 1560.5,324.1 1571.5,433.4 1582.5,502.1 1593.5,530.6 1604.4,549.7 1615.4,543.6 1626.4,501.7 1637.4,452.2 1648.4,472.5 1659.4,513.3 1670.4,568.3 1681.3,611.8 1692.3,639.7 1703.3,642.8 1714.3,649.7 1725.3,621.0 1736.3,616.7 1747.3,608.3 1758.2,632.3 1769.2,636.9 1780.2,639.1 1791.2,615.5 1802.2,590.6 1813.2,530.3 1824.2,470.3 1835.1,426.0 1846.1,409.1 1857.1,438.5 1868.1,472.6 1879.1,491.9 1890.1,491.9 1901.1,483.6 1912.0,424.1 1923.0,380.5 1934.0,338.1 1945.0,319.8 1956.0,307.5 1967.0,346.3 1978.0,375.2" stroke="#bcbd22" marker-start="url(#m8)" marker-mid="url(#m8)" marker-end="url(#m8)"/>
<polyline points="220.2,296.0 231.2,330.0 242.2,380.0 253.2,425.0 264.1,470.0 275.1,499.5 286.1,509.9 297.1,528.0 308.1,531.6 319.1,585.1 330.1,594.6 341.0,605.1 352.0,593.8 363.0,578.2 374.0,578.9 385.0,575.0 396.0,599.0 407.0,618.9 417.9,625.9 428.9,630.0 439.9,655.6 450.9,653.3 461.9,667.9 472.9,670.8 483.9,660.9 494.9,624.2 505.8,602.6 516.8,563.1 527.8,558.7 538.8,584.1 549.8,614.7 560.8,631.4 571.8,633.1 582.7,623.1 593.7,583.5 604.7,541.1 615.7,535.8 626.7,540.4 637.7,547.9 648.7,553.3 659.6,545.6 670.6,537.8 681.6,521.6 692.6,535.7 703.6,537.9 714.6,544.9 725.6,555.5 736.5,538.4 747.5,537.9 758.5,544.5 769.5,552.1 780.5,572.4 791.5,613.2 802.5,622.6 813.4,610.5 824.4,577.1 835.4,541.2 846.4,512.7 857.4,506.8 868.4,519.9 879.4,498.8 890.3,490.5 901.3,449.7 912.3,425.1 923.3,418.4 934.3,436.3 945.3,479.8 956.3,509.4 967.2,517.6 978.2,507.8 989.2,489.8 1000.2,462.2 1011.2,450.4 1022.2,461.7 1033.2,498.2 1044.2,529.8 1055.1,553.7 1066.1,560.5 1077.1,540.4 1088.1,528.8 1099.1,517.1 1110.1,510.7 1121.1,529.1 1132.0,542.3 1143.0,557.8 1154.0,566.5 1165.0,565.0 1176.0,553.3 1187.0,546.6 1198.0,513.9 1208.9,490.6 1219.9,441.9 1230.9,416.5 1241.9,417.4 1252.9,441.2 1263.9,461.0 1274.9,475.7 1285.8,487.7 1296.8,472.5 1307.8,453.4 1318.8,446.7 1329.8,443.2 1340.8,457.3 1351.8,472.2 1362.7,475.3 1373.7,460.4 1384.7,425.4 1395.7,387.5 1406.7,358.0 1417.7,365.3 1428.7,368.6 1439.6,390.4 1450.6,393.0 1461.6,364.3 1472.6,351.3 1483.6,323.8 1494.6,323.6 1505.6,352.2 1516.5,388.1 1527.5,427.6 1538.5,423.5 1549.5,397.6 1560.5,380.0 1571.5,400.0 1582.5,430.0 1593.5,499.0 1604.4,655.0 1615.4,672.0 1626.4,577.0 1637.4,494.0 1648.4,450.0 1659.4,494.9 1670.4,525.5 1681.3,544.4 1692.3,524.5 1703.3,530.9 1714.3,562.1 1725.3,631.0 1736.3,662.2 1747.3,666.6 1758.2,641.3 1769.2,563.2 1780.2,487.2 1791.2,453.0 1802.2,438.4 1813.2,439.8 1824.2,481.2 1835.1,517.8 1846.1,523.1 1857.1,495.4 1868.1,444.6 1879.1,415.4 1890.1,383.8 1901.1,386.0 1912.0,398.9 1923.0,400.0 1934.0,398.0 1945.0,361.9 1956.0,343.2 1967.0,315.9 1978.0,326.3" stroke="#17becf" marker-start="url(#m9)" marker-mid="url(#m9)" marker-end="url(#m9)"/>
<polyline points="220.2,405.9 231.2,430.2 242.2,444.9 253.2,445.6 264.1,461.7 275.1,491.1 286.1,541.5 297.1,584.7 308.1,615.3 319.1,642.6 330.1,638.4 341.0,608.4 352.0,573.5 363.0,528.7 374.0,515.6 385.0,497.4 396.0,498.9 407.0,509.6 417.9,520.2 428.9,538.1 439.9,549.9 450.9,552.6 461.9,580.4 472.9,585.0 483.9,602.9 494.9,611.2 505.8,625.6 516.8,624.2 527.8,612.4 538.8,584.1 549.8,571.6 560.8,509.4 571.8,466.6 582.7,424.1 593.7,402.7 604.7,392.3 615.7,397.0 626.7,407.2 637.7,417.9 648.7,461.7 659.6,519.4 670.6,557.3 681.6,573.3 692.6,567.1 703.6,571.2 714.6,558.1 725.6,536.8 736.5,544.4 747.5,554.3 758.5,569.7 769.5,553.7 780.5,527.8 791.5,510.0 802.5,501.0 813.4,484.6 824.4,488.5 835.4,519.4 846.4,584.2 857.4,605.3 868.4,610.5 879.4,594.3 890.3,562.7 901.3,521.4 912.3,461.4 923.3,405.6 934.3,380.4 945.3,374.6 956.3,376.1 967.2,392.5 978.2,409.8 989.2,435.4 1000.2,446.7 1011.2,463.0 1022.2,484.4 1033.2,498.3 1044.2,497.3 1055.1,499.2 1066.1,508.9 1077.1,510.4 1088.1,508.1 1099.1,501.6 1110.1,499.8 1121.1,494.5 1132.0,480.4 1143.0,465.7 1154.0,461.3 1165.0,452.1 1176.0,442.8 1187.0,444.4 1198.0,448.6 1208.9,465.3 1219.9,484.6 1230.9,482.1 1241.9,479.7 1252.9,454.6 1263.9,448.4 1274.9,428.9 1285.8,428.4 1296.8,414.8 1307.8,414.5 1318.8,413.6 1329.8,398.6 1340.8,384.3 1351.8,379.4 1362.7,372.8 1373.7,370.8 1384.7,399.1 1395.7,452.5 1406.7,491.3 1417.7,496.6 1428.7,483.7 1439.6,449.1 1450.6,387.5 1461.6,301.2 1472.6,247.7 1483.6,231.9 1494.6,220.0 1505.6,226.4 1516.5,245.5 1527.5,283.8 1538.5,302.4 1549.5,326.2 1560.5,334.8 1571.5,350.4 1582.5,389.9 1593.5,441.8 1604.4,493.2 1615.4,504.8 1626.4,482.8 1637.4,440.0 1648.4,410.0 1659.4,389.0 1670.4,375.0 1681.3,374.0 1692.3,406.0 1703.3,472.0 1714.3,530.0 1725.3,534.0 1736.3,553.4 1747.3,568.3 1758.2,602.5 1769.2,605.3 1780.2,579.4 1791.2,561.4 1802.2,527.1 1813.2,460.9 1824.2,419.7 1835.1,387.6 1846.1,362.0 1857.1,355.0 1868.1,330.5 1879.1,323.4 1890.1,307.5 1901.1,301.4 1912.0,291.9 1923.0,303.8 1934.0,334.3 1945.0,369.7 1956.0,418.7 1967.0,439.0 1978.0,425.4" stroke="#1f77b4" marker-start="url(#m0)" marker-mid="url(#m0)" marker-end="url(#m0)"/>
<polyline points="220.2,309.0 231.2,360.0 242.2,410.0 253.2,450.0 264.1,490.0 275.1,489.8 286.1,483.3 297.1,465.8 308.1,473.2 319.1,482.6 330.1,490.1 341.0,493.4 352.0,507.9 363.0,511.0 374.0,522.0 385.0,534.0 396.0,554.8 407.0,591.5 417.9,612.4 428.9,627.0 439.9,643.1 450.9,634.5 461.9,616.0 472.9,572.8 483.9,556.7 494.9,525.8 505.8,502.0 516.8,483.5 527.8,458.9 538.8,441.7 549.8,433.6 560.8,425.2 571.8,444.2 582.7,480.6 593.7,550.3 604.7,588.8 615.7,603.5 626.7,575.8 637.7,522.9 648.7,489.3 659.6,451.7 670.6,442.8 681.6,459.4 692.6,496.1 703.6,521.3 714.6,520.0 725.6,470.0 736.5,430.0 747.5,406.0 758.5,408.0 769.5,481.0 780.5,560.0 791.5,640.0 802.5,717.0 813.4,767.0 824.4,802.0 835.4,830.0 846.4,778.0 857.4,718.0 868.4,615.0 879.4,520.0 890.3,420.0 901.3,318.0 912.3,353.0 923.3,400.0 934.3,440.0 945.3,440.2 956.3,437.8 967.2,423.6 978.2,433.1 989.2,447.5 1000.2,453.2 1011.2,444.5 1022.2,444.6 1033.2,450.0 1044.2,454.8 1055.1,480.4 1066.1,513.2 1077.1,553.5 1088.1,587.6 1099.1,606.0 1110.1,614.9 1121.1,608.6 1132.0,543.1 1143.0,480.3 1154.0,446.8 1165.0,429.5 1176.0,414.7 1187.0,406.2 1198.0,399.1 1208.9,420.0 1219.9,440.7 1230.9,447.9 1241.9,460.1 1252.9,471.3 1263.9,461.5 1274.9,456.2 1285.8,442.1 1296.8,431.4 1307.8,437.6 1318.8,439.3 1329.8,448.1 1340.8,441.1 1351.8,426.5 1362.7,417.4 1373.7,382.4 1384.7,348.7 1395.7,314.2 1406.7,295.6 1417.7,286.2 1428.7,280.8 1439.6,282.9 1450.6,308.5 1461.6,347.6 1472.6,402.6 1483.6,410.5 1494.6,399.8 1505.6,378.3 1516.5,293.6 1527.5,259.2 1538.5,239.5 1549.5,241.2 1560.5,255.6 1571.5,276.0 1582.5,307.4 1593.5,332.2 1604.4,351.5 1615.4,369.1 1626.4,377.2 1637.4,384.4 1648.4,423.8 1659.4,464.9 1670.4,508.5 1681.3,566.5 1692.3,571.6 1703.3,570.5 1714.3,573.1 1725.3,586.8 1736.3,565.3 1747.3,590.9 1758.2,597.0 1769.2,577.8 1780.2,546.5 1791.2,488.1 1802.2,454.1 1813.2,412.2 1824.2,390.8 1835.1,369.2 1846.1,366.2 1857.1,395.6 1868.1,409.1 1879.1,439.9 1890.1,446.1 1901.1,445.9 1912.0,446.0 1923.0,419.7 1934.0,416.1 1945.0,413.3 1956.0,420.8 1967.0,416.2 1978.0,412.4" stroke="#ff7f0e" marker-start="url(#m1)" marker-mid="url(#m1)" marker-end="url(#m1)"/>
<polyline points="220.2,335.0 231.2,380.0 242.2,430.0 253.2,470.0 264.1,500.0 275.1,498.5 286.1,481.3 297.1,459.7 308.1,470.3 319.1,497.0 330.1,538.4 341.0,590.4 352.0,611.4 363.0,605.3 374.0,571.1 385.0,541.1 396.0,519.2 407.0,523.1 417.9,536.9 428.9,557.8 439.9,574.9 450.9,578.5 461.9,562.5 472.9,542.0 483.9,516.5 494.9,502.9 505.8,486.9 516.8,480.9 527.8,484.1 538.8,510.6 549.8,545.0 560.8,580.3 571.8,604.3 582.7,588.7 593.7,559.9 604.7,515.1 615.7,506.5 626.7,466.6 637.7,471.1 648.7,465.3 659.6,497.7 670.6,537.4 681.6,556.8 692.6,578.2 703.6,551.7 714.6,501.1 725.6,482.2 736.5,504.4 747.5,550.5 758.5,626.0 769.5,683.6 780.5,698.5 791.5,683.0 802.5,631.3 813.4,540.6 824.4,486.9 835.4,474.1 846.4,464.9 857.4,462.2 868.4,457.0 879.4,434.6 890.3,407.6 901.3,387.1 912.3,378.9 923.3,388.7 934.3,401.0 945.3,413.1 956.3,431.2 967.2,439.0 978.2,451.0 989.2,459.6 1000.2,448.9 1011.2,437.6 1022.2,428.0 1033.2,431.2 1044.2,428.2 1055.1,433.3 1066.1,442.6 1077.1,461.7 1088.1,491.8 1099.1,503.7 1110.1,525.3 1121.1,525.3 1132.0,486.7 1143.0,462.7 1154.0,444.4 1165.0,437.7 1176.0,455.1 1187.0,498.9 1198.0,545.2 1208.9,549.7 1219.9,532.3 1230.9,471.4 1241.9,412.5 1252.9,386.5 1263.9,379.6 1274.9,394.2 1285.8,410.6 1296.8,425.3 1307.8,433.7 1318.8,436.8 1329.8,435.1 1340.8,450.2 1351.8,454.7 1362.7,492.8 1373.7,494.5 1384.7,495.4 1395.7,482.9 1406.7,454.3 1417.7,422.3 1428.7,381.2 1439.6,355.7 1450.6,318.3 1461.6,289.6 1472.6,261.1 1483.6,260.6 1494.6,237.3 1505.6,241.7 1516.5,260.7 1527.5,281.0 1538.5,307.1 1549.5,320.6 1560.5,312.9 1571.5,306.4 1582.5,321.5 1593.5,351.1 1604.4,417.3 1615.4,482.8 1626.4,528.9 1637.4,515.3 1648.4,448.4 1659.4,412.5 1670.4,413.1 1681.3,430.0 1692.3,455.0 1703.3,507.9 1714.3,567.1 1725.3,581.9 1736.3,566.9 1747.3,524.6 1758.2,494.5 1769.2,482.8 1780.2,504.5 1791.2,513.8 1802.2,498.4 1813.2,481.4 1824.2,449.2 1835.1,411.2 1846.1,392.9 1857.1,372.0 1868.1,369.5 1879.1,359.4 1890.1,353.8 1901.1,343.3 1912.0,332.1 1923.0,324.2 1934.0,336.5 1945.0,335.5 1956.0,346.3 1967.0,359.9 1978.0,362.0" stroke="#2ca02c" marker-start="url(#m2)" marker-mid="url(#m2)" marker-end="url(#m2)"/>
<polyline points="220.2,466.8 231.2,457.5 242.2,476.4 253.2,494.9 264.1,525.8 275.1,574.6 286.1,601.2 297.1,606.2 308.1,587.0 319.1,582.5 330.1,608.4 341.0,653.7 352.0,680.3 363.0,677.3 374.0,630.5 385.0,565.3 396.0,508.6 407.0,509.4 417.9,543.1 428.9,624.6 439.9,673.0 450.9,689.5 461.9,663.5 472.9,617.4 483.9,594.0 494.9,580.2 505.8,583.4 516.8,572.9 527.8,562.4 538.8,554.3 549.8,535.5 560.8,553.2 571.8,598.4 582.7,632.6 593.7,634.1 604.7,634.2 615.7,611.6 626.7,582.0 637.7,540.4 648.7,512.9 659.6,512.9 670.6,523.7 681.6,545.8 692.6,567.7 703.6,587.2 714.6,610.2 725.6,631.4 736.5,661.2 747.5,678.0 758.5,676.5 769.5,673.1 780.5,667.4 791.5,657.5 802.5,682.1 813.4,692.4 824.4,685.2 835.4,667.9 846.4,631.6 857.4,538.1 868.4,467.7 879.4,443.2 890.3,475.6 901.3,514.3 912.3,509.8 923.3,491.8 934.3,450.9 945.3,420.0 956.3,422.0 967.2,482.4 978.2,527.9 989.2,539.8 1000.2,536.5 1011.2,520.5 1022.2,468.9 1033.2,450.1 1044.2,451.7 1055.1,478.6 1066.1,499.8 1077.1,533.3 1088.1,531.0 1099.1,531.7 1110.1,532.3 1121.1,542.9 1132.0,535.5 1143.0,541.4 1154.0,540.9 1165.0,531.1 1176.0,530.1 1187.0,540.0 1198.0,579.0 1208.9,605.0 1219.9,583.0 1230.9,540.0 1241.9,514.4 1252.9,482.1 1263.9,418.7 1274.9,399.3 1285.8,416.5 1296.8,458.1 1307.8,502.3 1318.8,537.5 1329.8,550.9 1340.8,546.7 1351.8,531.5 1362.7,529.2 1373.7,529.9 1384.7,515.0 1395.7,491.3 1406.7,432.8 1417.7,361.2 1428.7,327.8 1439.6,356.4 1450.6,388.7 1461.6,429.4 1472.6,440.0 1483.6,397.9 1494.6,357.0 1505.6,357.2 1516.5,370.1 1527.5,411.7 1538.5,449.3 1549.5,454.8 1560.5,448.8 1571.5,430.9 1582.5,416.7 1593.5,421.0 1604.4,465.8 1615.4,494.9 1626.4,520.0 1637.4,513.2 1648.4,493.0 1659.4,481.8 1670.4,499.7 1681.3,554.8 1692.3,639.6 1703.3,679.2 1714.3,694.4 1725.3,684.3 1736.3,638.0 1747.3,565.6 1758.2,500.8 1769.2,483.5 1780.2,493.7 1791.2,493.9 1802.2,495.0 1813.2,495.4 1824.2,481.1 1835.1,520.5 1846.1,554.2 1857.1,563.6 1868.1,544.8 1879.1,488.1 1890.1,401.1 1901.1,339.3 1912.0,313.1 1923.0,324.8 1934.0,375.3 1945.0,431.0 1956.0,424.5 1967.0,409.9 1978.0,388.6" stroke="#d62728" marker-start="url(#m3)" marker-mid="url(#m3)" marker-end="url(#m3)"/>
<polyline points="220.2,396.8 231.2,436.5 242.2,489.2 253.2,544.7 264.1,574.0 275.1,591.9 286.1,561.8 297.1,564.1 308.1,574.8 319.1,613.3 330.1,643.4 341.0,669.0 352.0,686.0 363.0,693.6 374.0,690.0 385.0,680.5 396.0,643.3 407.0,594.3 417.9,568.9 428.9,569.8 439.9,586.1 450.9,632.0 461.9,662.9 472.9,689.8 483.9,680.2 494.9,663.5 505.8,623.3 516.8,585.6 527.8,571.0 538.8,581.1 549.8,582.6 560.8,606.0 571.8,547.7 582.7,476.5 593.7,441.1 604.7,436.9 615.7,475.9 626.7,553.0 637.7,610.9 648.7,629.8 659.6,636.2 670.6,587.5 681.6,542.4 692.6,489.9 703.6,481.3 714.6,491.9 725.6,556.2 736.5,614.7 747.5,632.2 758.5,640.0 769.5,680.0 780.5,715.0 791.5,732.0 802.5,700.0 813.4,650.0 824.4,629.3 835.4,613.4 846.4,591.6 857.4,561.6 868.4,533.1 879.4,485.4 890.3,459.8 901.3,463.2 912.3,461.5 923.3,469.1 934.3,486.2 945.3,482.6 956.3,495.9 967.2,511.7 978.2,527.0 989.2,538.7 1000.2,539.4 1011.2,535.7 1022.2,507.8 1033.2,471.2 1044.2,457.0 1055.1,473.2 1066.1,508.2 1077.1,564.8 1088.1,593.9 1099.1,607.4 1110.1,605.8 1121.1,583.8 1132.0,543.6 1143.0,516.4 1154.0,513.3 1165.0,513.5 1176.0,516.9 1187.0,534.6 1198.0,532.4 1208.9,517.5 1219.9,493.0 1230.9,460.8 1241.9,423.0 1252.9,417.7 1263.9,419.5 1274.9,454.8 1285.8,496.2 1296.8,534.1 1307.8,547.1 1318.8,534.2 1329.8,499.2 1340.8,463.0 1351.8,434.7 1362.7,438.3 1373.7,448.9 1384.7,473.9 1395.7,455.0 1406.7,407.4 1417.7,360.2 1428.7,330.5 1439.6,322.5 1450.6,361.7 1461.6,386.3 1472.6,345.2 1483.6,280.0 1494.6,240.0 1505.6,200.0 1516.5,176.0 1527.5,165.0 1538.5,169.0 1549.5,230.0 1560.5,290.0 1571.5,330.0 1582.5,380.8 1593.5,454.1 1604.4,528.5 1615.4,552.4 1626.4,573.7 1637.4,583.7 1648.4,587.0 1659.4,595.2 1670.4,599.4 1681.3,593.9 1692.3,605.7 1703.3,608.6 1714.3,623.2 1725.3,647.8 1736.3,625.1 1747.3,624.4 1758.2,612.9 1769.2,592.3 1780.2,572.5 1791.2,568.2 1802.2,579.0 1813.2,596.1 1824.2,595.1 1835.1,565.3 1846.1,499.2 1857.1,402.3 1868.1,338.9 1879.1,320.4 1890.1,331.3 1901.1,393.5 1912.0,451.1 1923.0,484.4 1934.0,479.8 1945.0,458.9 1956.0,426.3 1967.0,348.1 1978.0,307.2" stroke="#9467bd" marker-start="url(#m4)" marker-mid="url(#m4)" marker-end="url(#m4)"/>
<polyline points="220.2,357.6 231.2,395.7 242.2,450.5 253.2,498.5 264.1,531.9 275.1,535.8 286.1,564.9 297.1,544.9 308.1,555.0 319.1,550.6 330.1,559.6 341.0,566.0 352.0,583.1 363.0,598.4 374.0,596.3 385.0,586.5 396.0,577.4 407.0,580.0 417.9,593.3 428.9,592.2 439.9,610.4 450.9,627.0 461.9,631.3 472.9,615.7 483.9,589.6 494.9,559.2 505.8,540.8 516.8,551.9 527.8,570.5 538.8,611.3 549.8,635.7 560.8,634.2 571.8,592.9 582.7,535.8 593.7,471.2 604.7,447.0 615.7,449.2 626.7,480.7 637.7,534.1 648.7,577.3 659.6,599.3 670.6,596.8 681.6,537.3 692.6,489.9 703.6,466.8 714.6,490.7 725.6,513.8 736.5,556.4 747.5,589.8 758.5,615.6 769.5,594.1 780.5,560.5 791.5,556.3 802.5,567.9 813.4,559.4 824.4,581.2 835.4,584.8 846.4,551.2 857.4,496.0 868.4,449.8 879.4,416.9 890.3,417.5 901.3,420.0 912.3,380.0 923.3,350.0 934.3,340.0 945.3,342.0 956.3,380.0 967.2,420.0 978.2,425.9 989.2,418.8 1000.2,414.4 1011.2,423.5 1022.2,426.7 1033.2,446.1 1044.2,448.2 1055.1,456.1 1066.1,465.6 1077.1,465.6 1088.1,494.2 1099.1,498.1 1110.1,521.4 1121.1,538.3 1132.0,525.7 1143.0,507.1 1154.0,478.0 1165.0,447.7 1176.0,433.0 1187.0,427.0 1198.0,419.3 1208.9,460.0 1219.9,479.9 1230.9,483.1 1241.9,459.3 1252.9,419.6 1263.9,392.7 1274.9,369.6 1285.8,380.4 1296.8,406.7 1307.8,477.9 1318.8,535.6 1329.8,546.5 1340.8,526.2 1351.8,476.1 1362.7,396.3 1373.7,352.5 1384.7,318.7 1395.7,309.8 1406.7,315.6 1417.7,374.5 1428.7,429.5 1439.6,441.1 1450.6,415.9 1461.6,382.6 1472.6,338.3 1483.6,282.9 1494.6,262.6 1505.6,282.7 1516.5,294.4 1527.5,313.6 1538.5,324.3 1549.5,352.3 1560.5,349.6 1571.5,374.1 1582.5,375.1 1593.5,411.5 1604.4,409.5 1615.4,455.2 1626.4,476.3 1637.4,505.6 1648.4,522.6 1659.4,547.1 1670.4,547.6 1681.3,540.8 1692.3,534.2 1703.3,538.3 1714.3,550.9 1725.3,564.0 1736.3,593.4 1747.3,591.9 1758.2,597.5 1769.2,580.5 1780.2,566.5 1791.2,538.3 1802.2,505.8 1813.2,502.2 1824.2,500.4 1835.1,478.0 1846.1,454.7 1857.1,433.9 1868.1,437.1 1879.1,408.3 1890.1,402.6 1901.1,382.1 1912.0,352.3 1923.0,335.9 1934.0,329.4 1945.0,314.2 1956.0,323.4 1967.0,347.9 1978.0,375.7" stroke="#8c564b" marker-start="url(#m5)" marker-mid="url(#m5)" marker-end="url(#m5)"/>
<polyline points="220.2,405.3 231.2,414.6 242.2,453.7 253.2,508.6 264.1,538.4 275.1,586.3 286.1,604.9 297.1,605.4 308.1,598.1 319.1,582.8 330.1,552.5 341.0,561.8 352.0,559.7 363.0,586.0 374.0,606.7 385.0,598.4 396.0,600.5 407.0,589.7 417.9,584.6 428.9,603.2 439.9,597.9 450.9,609.9 461.9,615.2 472.9,611.3 483.9,595.3 494.9,559.1 505.8,535.0 516.8,540.6 527.8,562.6 538.8,585.3 549.8,638.8 560.8,638.8 571.8,633.0 582.7,558.1 593.7,474.6 604.7,435.0 615.7,417.5 626.7,428.7 637.7,470.8 648.7,529.4 659.6,584.3 670.6,614.8 681.6,609.7 692.6,592.1 703.6,565.9 714.6,544.0 725.6,557.0 736.5,561.4 747.5,573.3 758.5,581.5 769.5,581.0 780.5,570.0 791.5,594.0 802.5,621.0 813.4,615.3 824.4,628.9 835.4,621.3 846.4,606.5 857.4,576.0 868.4,548.4 879.4,496.9 890.3,462.0 901.3,436.1 912.3,419.1 923.3,440.1 934.3,470.7 945.3,489.0 956.3,501.8 967.2,502.7 978.2,490.5 989.2,490.1 1000.2,480.6 1011.2,491.2 1022.2,506.1 1033.2,517.2 1044.2,518.5 1055.1,514.1 1066.1,516.8 1077.1,520.5 1088.1,558.8 1099.1,582.4 1110.1,610.4 1121.1,631.4 1132.0,610.8 1143.0,572.0 1154.0,525.6 1165.0,481.9 1176.0,458.0 1187.0,466.3 1198.0,494.4 1208.9,502.6 1219.9,541.1 1230.9,559.9 1241.9,567.0 1252.9,557.2 1263.9,541.4 1274.9,507.7 1285.8,462.4 1296.8,441.3 1307.8,420.3 1318.8,448.3 1329.8,470.1 1340.8,497.4 1351.8,519.5 1362.7,520.0 1373.7,509.6 1384.7,484.9 1395.7,412.8 1406.7,358.5 1417.7,330.0 1428.7,290.0 1439.6,242.0 1450.6,125.0 1461.6,66.0 1472.6,64.0 1483.6,117.0 1494.6,135.0 1505.6,200.0 1516.5,260.0 1527.5,330.0 1538.5,400.0 1549.5,410.0 1560.5,398.5 1571.5,410.9 1582.5,435.3 1593.5,423.6 1604.4,390.8 1615.4,382.3 1626.4,400.2 1637.4,435.6 1648.4,505.2 1659.4,568.8 1670.4,610.7 1681.3,604.2 1692.3,557.9 1703.3,513.9 1714.3,503.1 1725.3,506.9 1736.3,536.3 1747.3,577.8 1758.2,627.1 1769.2,630.3 1780.2,608.8 1791.2,581.7 1802.2,569.8 1813.2,515.0 1824.2,471.5 1835.1,440.9 1846.1,425.3 1857.1,403.8 1868.1,396.5 1879.1,416.1 1890.1,418.2 1901.1,426.2 1912.0,442.3 1923.0,437.2 1934.0,432.6 1945.0,418.4 1956.0,392.2 1967.0,367.0 1978.0,318.5" stroke="#e377c2" marker-start="url(#m6)" marker-mid="url(#m6)" marker-end="url(#m6)"/>
<polyline points="220.2,412.3 231.2,462.3 242.2,515.0 253.2,548.5 264.1,575.5 275.1,596.9 286.1,597.8 297.1,601.1 308.1,591.7 319.1,593.8 330.1,577.0 341.0,573.2 352.0,576.3 363.0,590.7 374.0,577.9 385.0,572.6 396.0,576.4 407.0,585.0 417.9,576.2 428.9,582.6 439.9,597.6 450.9,603.3 461.9,619.3 472.9,629.5 483.9,626.8 494.9,599.3 505.8,598.2 516.8,570.4 527.8,538.3 538.8,526.5 549.8,493.3 560.8,501.1 571.8,477.2 582.7,480.7 593.7,463.9 604.7,473.0 615.7,474.0 626.7,474.1 637.7,496.4 648.7,516.7 659.6,531.4 670.6,570.7 681.6,599.1 692.6,591.4 703.6,603.7 714.6,616.4 725.6,583.1 736.5,588.2 747.5,561.9 758.5,555.6 769.5,556.3 780.5,565.6 791.5,580.3 802.5,615.0 813.4,600.4 824.4,606.9 835.4,587.9 846.4,562.1 857.4,552.2 868.4,516.1 879.4,503.4 890.3,495.6 901.3,480.0 912.3,476.4 923.3,480.6 934.3,485.0 945.3,483.5 956.3,484.4 967.2,488.4 978.2,484.5 989.2,475.7 1000.2,473.2 1011.2,470.1 1022.2,477.1 1033.2,466.1 1044.2,474.7 1055.1,471.9 1066.1,483.7 1077.1,502.1 1088.1,518.3 1099.1,546.5 1110.1,561.8 1121.1,575.9 1132.0,561.1 1143.0,531.2 1154.0,501.2 1165.0,478.1 1176.0,444.8 1187.0,430.8 1198.0,412.4 1208.9,408.3 1219.9,425.6 1230.9,428.4 1241.9,449.0 1252.9,463.8 1263.9,485.4 1274.9,506.0 1285.8,504.0 1296.8,512.2 1307.8,495.4 1318.8,476.3 1329.8,452.2 1340.8,430.1 1351.8,421.8 1362.7,418.9 1373.7,408.5 1384.7,397.7 1395.7,411.3 1406.7,418.1 1417.7,424.9 1428.7,417.8 1439.6,409.6 1450.6,383.1 1461.6,352.2 1472.6,345.9 1483.6,364.3 1494.6,400.0 1505.6,420.0 1516.5,452.0 1527.5,491.0 1538.5,512.0 1549.5,511.0 1560.5,475.0 1571.5,440.0 1582.5,410.0 1593.5,423.6 1604.4,435.6 1615.4,454.7 1626.4,439.8 1637.4,441.5 1648.4,453.5 1659.4,478.5 1670.4,506.1 1681.3,541.4 1692.3,580.9 1703.3,603.3 1714.3,626.0 1725.3,641.8 1736.3,637.1 1747.3,599.6 1758.2,575.4 1769.2,549.1 1780.2,510.6 1791.2,462.0 1802.2,440.6 1813.2,417.4 1824.2,412.8 1835.1,408.5 1846.1,448.0 1857.1,468.4 1868.1,475.9 1879.1,465.4 1890.1,451.1 1901.1,413.0 1912.0,388.6 1923.0,355.3 1934.0,338.8 1945.0,326.5 1956.0,325.2 1967.0,325.5 1978.0,344.3" stroke="#7f7f7f" marker-start="url(#m7)" marker-mid="url(#m7)" marker-end="url(#m7)"/>
<polyline points="220.2,411.3 231.2,399.5 242.2,442.3 253.2,473.9 264.1,532.1 275.1,564.2 286.1,541.5 297.1,500.4 308.1,489.4 319.1,503.7 330.1,563.2 341.0,624.5 352.0,660.2 363.0,635.2 374.0,600.9 385.0,557.4 396.0,554.9 407.0,544.9 417.9,563.9 428.9,552.5 439.9,552.3 450.9,538.8 461.9,535.4 472.9,554.3 483.9,561.0 494.9,580.4 505.8,572.8 516.8,561.6 527.8,564.8 538.8,566.4 549.8,552.1 560.8,508.8 571.8,470.0 582.7,430.0 593.7,400.0 604.7,384.0 615.7,420.0 626.7,470.0 637.7,480.0 648.7,450.0 659.6,410.0 670.6,389.0 681.6,420.0 692.6,470.0 703.6,505.4 714.6,571.0 725.6,621.5 736.5,598.3 747.5,554.5 758.5,533.0 769.5,535.7 780.5,551.4 791.5,583.3 802.5,595.6 813.4,551.2 824.4,520.2 835.4,477.8 846.4,474.5 857.4,479.0 868.4,500.5 879.4,505.6 890.3,502.1 901.3,495.3 912.3,483.2 923.3,491.0 934.3,496.6 945.3,496.4 956.3,478.9 967.2,438.1 978.2,427.1 989.2,419.3 1000.2,440.1 1011.2,458.3 1022.2,448.0 1033.2,438.1 1044.2,444.0 1055.1,466.1 1066.1,508.5 1077.1,543.8 1088.1,562.9 1099.1,551.7 1110.1,524.7 1121.1,499.6 1132.0,491.8 1143.0,508.9 1154.0,536.9 1165.0,550.9 1176.0,507.2 1187.0,468.9 1198.0,422.8 1208.9,410.2 1219.9,414.4 1230.9,422.1 1241.9,454.6 1252.9,451.9 1263.9,454.9 1274.9,418.2 1285.8,413.5 1296.8,409.6 1307.8,426.2 1318.8,446.0 1329.8,467.9 1340.8,452.7 1351.8,424.9 1362.7,400.0 1373.7,350.0 1384.7,291.0 1395.7,233.0 1406.7,232.0 1417.7,298.0 1428.7,340.0 1439.6,360.0 1450.6,350.0 1461.6,330.0 1472.6,300.0 1483.6,270.0 1494.6,210.0 1505.6,152.0 1516.5,109.0 1527.5,118.0 1538.5,169.0 1549.5,237.0 1560.5,304.0 1571.5,370.0 1582.5,420.0 1593.5,411.4 1604.4,434.6 1615.4,433.0 1626.4,403.3 1637.4,381.7 1648.4,380.1 1659.4,422.9 1670.4,511.2 1681.3,619.0 1692.3,676.1 1703.3,686.7 1714.3,675.8 1725.3,634.7 1736.3,583.4 1747.3,575.2 1758.2,584.9 1769.2,552.5 1780.2,523.3 1791.2,497.8 1802.2,467.2 1813.2,462.4 1824.2,440.6 1835.1,460.4 1846.1,462.1 1857.1,454.8 1868.1,453.7 1879.1,433.1 1890.1,422.0 1901.1,398.4 1912.0,375.7 1923.0,329.8 1934.0,320.2 1945.0,317.9 1956.0,324.0 1967.0,343.3 1978.0,348.2" stroke="#bcbd22" marker-start="url(#m8)" marker-mid="url(#m8)" marker-end="url(#m8)"/>
<polyline points="220.2,452.3 231.2,491.2 242.2,521.1 253.2,537.9 264.1,530.0 275.1,514.0 286.1,505.2 297.1,514.6 308.1,513.7 319.1,554.7 330.1,577.3 341.0,616.6 352.0,600.5 363.0,579.5 374.0,544.3 385.0,515.3 396.0,512.6 407.0,536.3 417.9,582.4 428.9,633.1 439.9,658.0 450.9,637.8 461.9,594.9 472.9,551.8 483.9,532.0 494.9,535.9 505.8,573.0 516.8,598.0 527.8,607.1 538.8,540.6 549.8,491.3 560.8,441.0 571.8,416.8 582.7,419.7 593.7,456.2 604.7,531.5 615.7,585.2 626.7,596.3 637.7,573.8 648.7,527.6 659.6,482.1 670.6,474.9 681.6,462.9 692.6,476.7 703.6,491.1 714.6,496.3 725.6,495.3 736.5,486.1 747.5,489.0 758.5,513.9 769.5,525.2 780.5,565.7 791.5,615.7 802.5,648.6 813.4,633.8 824.4,609.5 835.4,550.7 846.4,526.4 857.4,476.3 868.4,454.7 879.4,443.3 890.3,423.0 901.3,415.0 912.3,414.3 923.3,416.8 934.3,411.2 945.3,419.5 956.3,434.6 967.2,439.9 978.2,447.8 989.2,447.7 1000.2,464.0 1011.2,473.8 1022.2,500.8 1033.2,513.3 1044.2,508.1 1055.1,497.3 1066.1,477.6 1077.1,484.9 1088.1,492.4 1099.1,534.1 1110.1,566.3 1121.1,591.9 1132.0,557.8 1143.0,507.9 1154.0,470.5 1165.0,451.8 1176.0,455.2 1187.0,494.5 1198.0,542.7 1208.9,565.9 1219.9,560.4 1230.9,526.2 1241.9,467.1 1252.9,429.5 1263.9,439.9 1274.9,482.5 1285.8,513.0 1296.8,525.8 1307.8,508.4 1318.8,467.4 1329.8,422.5 1340.8,397.6 1351.8,399.8 1362.7,433.2 1373.7,469.4 1384.7,496.0 1395.7,489.5 1406.7,457.3 1417.7,406.0 1428.7,379.8 1439.6,357.0 1450.6,364.7 1461.6,380.2 1472.6,374.9 1483.6,355.8 1494.6,322.7 1505.6,285.5 1516.5,270.0 1527.5,283.3 1538.5,293.6 1549.5,339.7 1560.5,374.0 1571.5,410.5 1582.5,425.6 1593.5,431.2 1604.4,430.2 1615.4,421.6 1626.4,429.7 1637.4,463.1 1648.4,479.9 1659.4,515.0 1670.4,528.1 1681.3,526.3 1692.3,513.0 1703.3,495.7 1714.3,500.7 1725.3,502.7 1736.3,511.1 1747.3,511.3 1758.2,523.3 1769.2,538.7 1780.2,542.4 1791.2,538.8 1802.2,527.4 1813.2,524.1 1824.2,502.5 1835.1,472.5 1846.1,440.9 1857.1,419.2 1868.1,413.3 1879.1,384.0 1890.1,369.3 1901.1,338.9 1912.0,311.7 1923.0,293.9 1934.0,285.8 1945.0,292.0 1956.0,307.3 1967.0,340.3 1978.0,352.1" stroke="#17becf" marker-start="url(#m9)" marker-mid="url(#m9)" marker-end="url(#m9)"/>
<polyline points="220.2,364.0 231.2,400.0 242.2,440.0 253.2,470.0 264.1,500.0 275.1,506.5 286.1,523.3 297.1,557.4 308.1,574.0 319.1,604.6 330.1,604.2 341.0,611.1 352.0,631.4 363.0,640.1 374.0,640.8 385.0,648.9 396.0,661.6 407.0,637.4 417.9,643.4 428.9,635.8 439.9,661.1 450.9,651.3 461.9,624.3 472.9,620.0 483.9,660.0 494.9,700.0 505.8,726.0 516.8,730.0 527.8,690.0 538.8,640.0 549.8,624.9 560.8,583.0 571.8,551.1 582.7,561.1 593.7,591.1 604.7,599.9 615.7,587.8 626.7,567.8 637.7,539.4 648.7,515.1 659.6,516.7 670.6,514.2 681.6,507.7 692.6,499.4 703.6,502.7 714.6,538.3 725.6,570.6 736.5,610.7 747.5,630.0 758.5,657.8 769.5,629.2 780.5,591.3 791.5,544.0 802.5,549.0 813.4,603.9 824.4,653.2 835.4,666.3 846.4,639.1 857.4,531.6 868.4,454.2 879.4,430.0 890.3,390.0 901.3,350.0 912.3,331.0 923.3,332.0 934.3,370.0 945.3,410.0 956.3,442.8 967.2,469.0 978.2,486.1 989.2,487.3 1000.2,471.7 1011.2,477.2 1022.2,487.9 1033.2,512.4 1044.2,539.6 1055.1,549.9 1066.1,559.4 1077.1,559.6 1088.1,548.8 1099.1,533.1 1110.1,542.1 1121.1,556.1 1132.0,576.0 1143.0,572.2 1154.0,556.3 1165.0,524.7 1176.0,516.5 1187.0,542.7 1198.0,562.6 1208.9,579.9 1219.9,581.7 1230.9,576.6 1241.9,561.1 1252.9,538.2 1263.9,511.8 1274.9,511.5 1285.8,489.0 1296.8,465.8 1307.8,439.5 1318.8,445.9 1329.8,460.8 1340.8,481.4 1351.8,515.1 1362.7,495.7 1373.7,471.3 1384.7,450.0 1395.7,470.0 1406.7,503.0 1417.7,564.0 1428.7,534.0 1439.6,487.0 1450.6,450.0 1461.6,445.9 1472.6,421.8 1483.6,358.9 1494.6,301.8 1505.6,330.5 1516.5,336.4 1527.5,346.8 1538.5,354.3 1549.5,364.1 1560.5,404.6 1571.5,457.6 1582.5,492.0 1593.5,496.5 1604.4,492.2 1615.4,443.8 1626.4,428.5 1637.4,458.3 1648.4,527.7 1659.4,570.0 1670.4,592.1 1681.3,588.0 1692.3,571.4 1703.3,555.3 1714.3,569.5 1725.3,591.0 1736.3,609.0 1747.3,594.7 1758.2,560.0 1769.2,520.0 1780.2,480.0 1791.2,450.0 1802.2,419.0 1813.2,430.0 1824.2,470.0 1835.1,510.0 1846.1,512.1 1857.1,475.8 1868.1,438.6 1879.1,447.0 1890.1,455.3 1901.1,436.7 1912.0,367.4 1923.0,314.7 1934.0,307.6 1945.0,318.1 1956.0,364.3 1967.0,402.4 1978.0,414.1" stroke="#1f77b4" marker-start="url(#m0)" marker-mid="url(#m0)" marker-end="url(#m0)"/>
<polyline points="220.2,291.0 231.2,340.0 242.2,390.0 253.2,440.0 264.1,480.0 275.1,506.6 286.1,548.1 297.1,592.7 308.1,606.8 319.1,609.8 330.1,593.2 341.0,568.1 352.0,554.4 363.0,572.8 374.0,598.9 385.0,610.3 396.0,604.9 407.0,600.8 417.9,564.7 428.9,580.4 439.9,597.9 450.9,614.7 461.9,615.3 472.9,618.3 483.9,588.6 494.9,579.5 505.8,594.0 516.8,600.0 527.8,640.0 538.8,670.0 549.8,691.0 560.8,650.0 571.8,600.0 582.7,553.5 593.7,526.5 604.7,513.5 615.7,524.9 626.7,538.9 637.7,548.9 648.7,556.9 659.6,557.8 670.6,544.6 681.6,517.0 692.6,489.3 703.6,466.8 714.6,462.5 725.6,481.1 736.5,504.5 747.5,555.7 758.5,577.9 769.5,569.4 780.5,556.8 791.5,564.2 802.5,566.0 813.4,552.8 824.4,508.1 835.4,480.0 846.4,462.4 857.4,448.9 868.4,469.2 879.4,484.6 890.3,484.3 901.3,455.2 912.3,419.8 923.3,396.3 934.3,390.8 945.3,382.3 956.3,383.7 967.2,391.4 978.2,397.8 989.2,402.1 1000.2,414.2 1011.2,421.7 1022.2,437.4 1033.2,446.2 1044.2,449.6 1055.1,459.0 1066.1,457.0 1077.1,467.1 1088.1,484.3 1099.1,508.9 1110.1,525.6 1121.1,550.4 1132.0,538.7 1143.0,528.6 1154.0,512.5 1165.0,506.2 1176.0,472.3 1187.0,434.5 1198.0,405.2 1208.9,384.9 1219.9,387.8 1230.9,409.0 1241.9,466.4 1252.9,505.7 1263.9,513.6 1274.9,521.0 1285.8,514.1 1296.8,499.7 1307.8,504.7 1318.8,482.9 1329.8,456.4 1340.8,415.7 1351.8,395.5 1362.7,383.6 1373.7,363.9 1384.7,352.1 1395.7,347.4 1406.7,354.8 1417.7,377.8 1428.7,405.3 1439.6,425.1 1450.6,442.4 1461.6,455.3 1472.6,454.0 1483.6,433.5 1494.6,386.2 1505.6,323.8 1516.5,290.1 1527.5,284.2 1538.5,281.2 1549.5,267.4 1560.5,268.4 1571.5,276.3 1582.5,312.4 1593.5,385.6 1604.4,475.6 1615.4,540.4 1626.4,557.2 1637.4,558.3 1648.4,572.3 1659.4,560.3 1670.4,570.5 1681.3,560.1 1692.3,544.5 1703.3,525.5 1714.3,535.8 1725.3,556.0 1736.3,575.5 1747.3,586.3 1758.2,584.2 1769.2,560.5 1780.2,549.8 1791.2,517.9 1802.2,505.3 1813.2,470.3 1824.2,474.9 1835.1,507.5 1846.1,540.0 1857.1,560.0 1868.1,575.0 1879.1,586.0 1890.1,580.0 1901.1,577.0 1912.0,554.0 1923.0,558.0 1934.0,535.0 1945.0,515.0 1956.0,440.0 1967.0,380.0 1978.0,350.0" stroke="#ff7f0e" marker-start="url(#m1)" marker-mid="url(#m1)" marker-end="url(#m1)"/>
<polyline points="220.2,254.0 231.2,299.0 242.2,335.0 253.2,385.0 264.1,447.0 275.1,477.0 286.1,465.0 297.1,446.0 308.1,465.0 319.1,463.0 330.1,490.0 341.0,520.0 352.0,540.0 363.0,500.0 374.0,446.0 385.0,355.0 396.0,303.0 407.0,323.0 417.9,445.0 428.9,548.0 439.9,634.0 450.9,665.0 461.9,660.0 472.9,650.0 483.9,640.0 494.9,655.0 505.8,640.0 516.8,600.0 527.8,540.0 538.8,470.0 549.8,391.0 560.8,343.0 571.8,325.0 582.7,287.0 593.7,288.0 604.7,351.0 615.7,397.0 626.7,435.0 637.7,412.0 648.7,443.0 659.6,470.0 670.6,500.0 681.6,520.0 692.6,500.0 703.6,495.0 714.6,505.0 725.6,495.0 736.5,490.0 747.5,470.0 758.5,455.0 769.5,443.0 780.5,395.0 791.5,410.0 802.5,480.0 813.4,546.0 824.4,600.0 835.4,620.0 846.4,600.0 857.4,540.0 868.4,470.0 879.4,410.0 890.3,373.0 901.3,374.0 912.3,430.0 923.3,500.0 934.3,550.0 945.3,558.0 956.3,560.0 967.2,554.0 978.2,526.0 989.2,480.0 1000.2,440.0 1011.2,450.0 1022.2,470.0 1033.2,490.0 1044.2,500.0 1055.1,510.0 1066.1,520.0 1077.1,530.0 1088.1,540.0 1099.1,590.0 1110.1,648.0 1121.1,692.0 1132.0,706.0 1143.0,656.0 1154.0,558.0 1165.0,444.0 1176.0,396.0 1187.0,422.0 1198.0,377.0 1208.9,350.0 1219.9,383.0 1230.9,420.0 1241.9,450.0 1252.9,363.0 1263.9,253.0 1274.9,277.0 1285.8,314.0 1296.8,400.0 1307.8,500.0 1318.8,615.0 1329.8,737.0 1340.8,771.0 1351.8,767.0 1362.7,745.0 1373.7,722.0 1384.7,713.0 1395.7,676.0 1406.7,673.0 1417.7,650.0 1428.7,621.0 1439.6,555.0 1450.6,473.0 1461.6,396.0 1472.6,374.0 1483.6,382.0 1494.6,440.0 1505.6,460.0 1516.5,518.0 1527.5,576.0 1538.5,640.0 1549.5,709.0 1560.5,692.0 1571.5,687.0 1582.5,602.0 1593.5,540.0 1604.4,462.0 1615.4,420.0 1626.4,510.0 1637.4,578.0 1648.4,586.0 1659.4,668.0 1670.4,783.0 1681.3,870.0 1692.3,903.0 1703.3,797.0 1714.3,634.0 1725.3,472.0 1736.3,378.0 1747.3,372.0 1758.2,354.0 1769.2,352.0 1780.2,359.0 1791.2,394.0 1802.2,404.0 1813.2,392.0 1824.2,345.0 1835.1,334.0 1846.1,369.0 1857.1,430.0 1868.1,546.0 1879.1,564.0 1890.1,548.0 1901.1,510.0 1912.0,470.0 1923.0,420.0 1934.0,380.0 1945.0,330.0 1956.0,300.0 1967.0,285.0 1978.0,236.0" stroke="#2ca02c" marker-start="url(#m2)" marker-mid="url(#m2)" marker-end="url(#m2)"/>
<polyline points="220.2,424.4 231.2,456.5 242.2,499.1 253.2,542.4 264.1,584.5 275.1,613.7 286.1,627.7 297.1,625.8 308.1,617.9 319.1,581.3 330.1,561.9 341.0,560.5 352.0,570.2 363.0,600.8 374.0,638.1 385.0,653.8 396.0,669.9 407.0,665.1 417.9,637.3 428.9,603.1 439.9,575.7 450.9,569.2 461.9,611.6 472.9,636.8 483.9,663.2 494.9,646.5 505.8,628.7 516.8,578.1 527.8,557.6 538.8,542.1 549.8,530.4 560.8,530.6 571.8,559.0 582.7,568.6 593.7,577.7 604.7,575.1 615.7,579.4 626.7,581.1 637.7,549.3 648.7,534.7 659.6,502.3 670.6,488.1 681.6,496.6 692.6,522.2 703.6,547.1 714.6,612.4 725.6,635.7 736.5,655.4 747.5,652.1 758.5,650.6 769.5,622.7 780.5,628.7 791.5,620.2 802.5,641.7 813.4,626.4 824.4,609.8 835.4,585.1 846.4,553.8 857.4,522.9 868.4,524.7 879.4,525.3 890.3,538.5 901.3,546.8 912.3,524.9 923.3,509.9 934.3,488.6 945.3,482.6 956.3,476.5 967.2,479.6 978.2,486.2 989.2,497.9 1000.2,508.0 1011.2,506.7 1022.2,525.1 1033.2,527.3 1044.2,537.8 1055.1,548.9 1066.1,543.4 1077.1,541.6 1088.1,553.4 1099.1,573.6 1110.1,599.1 1121.1,620.2 1132.0,611.3 1143.0,592.4 1154.0,558.4 1165.0,519.0 1176.0,498.4 1187.0,499.5 1198.0,507.9 1208.9,529.3 1219.9,547.2 1230.9,552.6 1241.9,530.7 1252.9,514.1 1263.9,490.2 1274.9,470.2 1285.8,481.8 1296.8,482.8 1307.8,510.9 1318.8,512.7 1329.8,493.4 1340.8,486.2 1351.8,458.1 1362.7,454.5 1373.7,457.3 1384.7,440.0 1395.7,448.4 1406.7,411.7 1417.7,401.3 1428.7,386.0 1439.6,364.8 1450.6,336.9 1461.6,300.0 1472.6,250.0 1483.6,200.0 1494.6,165.0 1505.6,141.0 1516.5,162.0 1527.5,174.0 1538.5,174.0 1549.5,178.0 1560.5,240.0 1571.5,300.0 1582.5,340.0 1593.5,380.0 1604.4,409.6 1615.4,423.9 1626.4,438.9 1637.4,451.0 1648.4,476.4 1659.4,534.4 1670.4,574.2 1681.3,642.2 1692.3,662.7 1703.3,670.5 1714.3,667.4 1725.3,617.8 1736.3,560.2 1747.3,560.5 1758.2,580.0 1769.2,602.0 1780.2,621.0 1791.2,655.0 1802.2,659.0 1813.2,657.0 1824.2,642.0 1835.1,620.0 1846.1,590.0 1857.1,560.0 1868.1,522.8 1879.1,506.0 1890.1,488.3 1901.1,483.0 1912.0,467.3 1923.0,453.9 1934.0,441.1 1945.0,439.5 1956.0,440.9 1967.0,427.1 1978.0,405.8" stroke="#d62728" marker-start="url(#m3)" marker-mid="url(#m3)" marker-end="url(#m3)"/>
<polyline points="220.2,437.7 231.2,465.9 242.2,473.4 253.2,484.4 264.1,486.9 275.1,490.2 286.1,522.1 297.1,539.4 308.1,552.3 319.1,560.0 330.1,567.1 341.0,555.9 352.0,548.3 363.0,550.9 374.0,542.8 385.0,570.1 396.0,588.6 407.0,606.4 417.9,630.7 428.9,634.6 439.9,625.4 450.9,590.9 461.9,554.9 472.9,517.9 483.9,505.5 494.9,494.3 505.8,500.3 516.8,524.2 527.8,580.0 538.8,665.9 549.8,683.8 560.8,689.7 571.8,670.7 582.7,637.4 593.7,566.7 604.7,488.8 615.7,450.5 626.7,443.8 637.7,452.0 648.7,476.7 659.6,520.2 670.6,584.6 681.6,609.9 692.6,630.2 703.6,634.7 714.6,637.9 725.6,628.9 736.5,634.4 747.5,632.8 758.5,630.9 769.5,605.7 780.5,607.7 791.5,583.3 802.5,567.5 813.4,533.8 824.4,547.6 835.4,530.9 846.4,523.7 857.4,523.3 868.4,521.5 879.4,512.7 890.3,514.8 901.3,503.5 912.3,482.9 923.3,465.7 934.3,441.4 945.3,425.5 956.3,408.0 967.2,410.1 978.2,411.5 989.2,436.2 1000.2,461.1 1011.2,479.6 1022.2,499.0 1033.2,495.0 1044.2,480.4 1055.1,468.1 1066.1,455.8 1077.1,456.6 1088.1,459.7 1099.1,486.3 1110.1,511.3 1121.1,558.7 1132.0,556.9 1143.0,563.5 1154.0,541.3 1165.0,507.1 1176.0,476.3 1187.0,449.0 1198.0,430.6 1208.9,422.2 1219.9,441.1 1230.9,465.2 1241.9,495.4 1252.9,515.5 1263.9,520.9 1274.9,494.6 1285.8,477.0 1296.8,462.6 1307.8,456.0 1318.8,461.8 1329.8,463.9 1340.8,465.2 1351.8,484.1 1362.7,497.0 1373.7,496.0 1384.7,482.9 1395.7,464.2 1406.7,438.0 1417.7,401.2 1428.7,365.1 1439.6,340.0 1450.6,317.9 1461.6,311.1 1472.6,321.8 1483.6,343.2 1494.6,390.0 1505.6,408.9 1516.5,418.6 1527.5,427.5 1538.5,431.3 1549.5,428.4 1560.5,417.6 1571.5,437.4 1582.5,417.9 1593.5,404.5 1604.4,439.2 1615.4,490.2 1626.4,540.0 1637.4,570.0 1648.4,600.0 1659.4,637.0 1670.4,674.0 1681.3,703.0 1692.3,695.0 1703.3,685.0 1714.3,660.0 1725.3,690.0 1736.3,700.0 1747.3,680.0 1758.2,624.9 1769.2,543.0 1780.2,458.2 1791.2,449.5 1802.2,465.6 1813.2,473.5 1824.2,511.7 1835.1,506.9 1846.1,518.9 1857.1,487.0 1868.1,441.5 1879.1,404.2 1890.1,368.4 1901.1,346.5 1912.0,336.6 1923.0,351.2 1934.0,347.8 1945.0,355.9 1956.0,370.6 1967.0,356.9 1978.0,360.9" stroke="#9467bd" marker-start="url(#m4)" marker-mid="url(#m4)" marker-end="url(#m4)"/>
<polyline points="220.2,450.3 231.2,494.2 242.2,530.7 253.2,541.1 264.1,557.3 275.1,565.2 286.1,568.8 297.1,547.7 308.1,536.1 319.1,528.7 330.1,529.1 341.0,544.4 352.0,550.3 363.0,599.0 374.0,638.8 385.0,672.7 396.0,684.2 407.0,683.1 417.9,675.3 428.9,653.1 439.9,618.8 450.9,575.4 461.9,568.6 472.9,548.3 483.9,576.9 494.9,597.7 505.8,632.9 516.8,669.7 527.8,684.5 538.8,683.1 549.8,660.1 560.8,632.2 571.8,558.8 582.7,505.8 593.7,470.6 604.7,447.5 615.7,459.7 626.7,480.2 637.7,512.5 648.7,557.7 659.6,580.5 670.6,597.1 681.6,588.0 692.6,579.6 703.6,561.3 714.6,536.6 725.6,508.0 736.5,513.1 747.5,511.2 758.5,529.0 769.5,545.3 780.5,564.4 791.5,584.5 802.5,619.4 813.4,613.6 824.4,610.4 835.4,592.4 846.4,566.9 857.4,557.1 868.4,544.0 879.4,533.0 890.3,537.2 901.3,529.1 912.3,524.3 923.3,508.4 934.3,504.4 945.3,491.6 956.3,474.9 967.2,466.5 978.2,453.8 989.2,447.2 1000.2,439.5 1011.2,454.8 1022.2,463.8 1033.2,471.6 1044.2,487.4 1055.1,506.2 1066.1,530.8 1077.1,539.8 1088.1,557.2 1099.1,562.8 1110.1,571.6 1121.1,564.6 1132.0,531.7 1143.0,506.7 1154.0,484.6 1165.0,479.9 1176.0,471.5 1187.0,460.1 1198.0,462.5 1208.9,460.8 1219.9,465.6 1230.9,456.3 1241.9,447.4 1252.9,452.2 1263.9,438.9 1274.9,463.2 1285.8,482.0 1296.8,508.8 1307.8,528.2 1318.8,544.1 1329.8,526.8 1340.8,522.5 1351.8,511.4 1362.7,489.0 1373.7,459.5 1384.7,414.8 1395.7,409.9 1406.7,389.8 1417.7,397.0 1428.7,389.5 1439.6,394.8 1450.6,405.4 1461.6,408.3 1472.6,418.8 1483.6,413.7 1494.6,420.6 1505.6,415.0 1516.5,404.0 1527.5,399.7 1538.5,388.7 1549.5,378.2 1560.5,359.2 1571.5,347.2 1582.5,351.3 1593.5,341.0 1604.4,361.1 1615.4,361.1 1626.4,382.7 1637.4,405.1 1648.4,441.8 1659.4,491.7 1670.4,534.9 1681.3,584.9 1692.3,610.2 1703.3,623.4 1714.3,630.8 1725.3,605.8 1736.3,579.9 1747.3,555.9 1758.2,544.4 1769.2,548.6 1780.2,558.2 1791.2,578.2 1802.2,574.8 1813.2,553.2 1824.2,536.3 1835.1,495.9 1846.1,472.4 1857.1,431.3 1868.1,418.9 1879.1,420.3 1890.1,421.9 1901.1,456.5 1912.0,457.5 1923.0,458.4 1934.0,454.6 1945.0,454.1 1956.0,432.6 1967.0,419.6 1978.0,398.0" stroke="#8c564b" marker-start="url(#m5)" marker-mid="url(#m5)" marker-end="url(#m5)"/>
<polyline points="220.2,485.0 231.2,583.0 242.2,681.0 253.2,732.0 264.1,723.0 275.1,674.0 286.1,603.0 297.1,558.0 308.1,500.0 319.1,450.0 330.1,420.0 341.0,397.0 352.0,428.0 363.0,490.0 374.0,560.0 385.0,575.1 396.0,568.6 407.0,546.8 417.9,537.8 428.9,539.7 439.9,557.6 450.9,556.7 461.9,541.4 472.9,505.7 483.9,494.8 494.9,485.0 505.8,484.5 516.8,511.3 527.8,548.7 538.8,586.6 549.8,578.4 560.8,547.6 571.8,552.1 582.7,580.0 593.7,620.0 604.7,655.0 615.7,674.0 626.7,650.0 637.7,600.0 648.7,547.4 659.6,503.5 670.6,469.3 681.6,464.9 692.6,495.9 703.6,501.6 714.6,510.2 725.6,514.1 736.5,532.9 747.5,550.8 758.5,582.2 769.5,582.9 780.5,614.8 791.5,618.7 802.5,597.9 813.4,586.7 824.4,550.4 835.4,524.3 846.4,523.4 857.4,498.5 868.4,495.4 879.4,459.7 890.3,466.4 901.3,457.1 912.3,419.2 923.3,432.4 934.3,441.2 945.3,440.0 956.3,390.0 967.2,338.0 978.2,305.0 989.2,307.0 1000.2,356.0 1011.2,420.0 1022.2,470.0 1033.2,474.2 1044.2,471.0 1055.1,463.7 1066.1,459.1 1077.1,453.8 1088.1,459.2 1099.1,477.0 1110.1,486.9 1121.1,509.5 1132.0,520.0 1143.0,491.3 1154.0,467.9 1165.0,443.9 1176.0,425.1 1187.0,414.6 1198.0,415.7 1208.9,431.7 1219.9,449.4 1230.9,457.4 1241.9,454.5 1252.9,479.7 1263.9,520.0 1274.9,560.0 1285.8,587.0 1296.8,540.0 1307.8,500.0 1318.8,485.0 1329.8,452.5 1340.8,404.7 1351.8,396.8 1362.7,386.0 1373.7,377.2 1384.7,371.1 1395.7,359.7 1406.7,356.1 1417.7,365.1 1428.7,352.3 1439.6,378.5 1450.6,402.0 1461.6,398.5 1472.6,400.5 1483.6,374.2 1494.6,325.7 1505.6,306.9 1516.5,280.9 1527.5,281.9 1538.5,328.0 1549.5,376.5 1560.5,420.0 1571.5,460.0 1582.5,507.0 1593.5,553.0 1604.4,535.0 1615.4,560.0 1626.4,516.6 1637.4,495.4 1648.4,508.6 1659.4,540.0 1670.4,570.0 1681.3,612.0 1692.3,685.0 1703.3,763.0 1714.3,809.0 1725.3,767.0 1736.3,720.0 1747.3,703.0 1758.2,690.0 1769.2,720.0 1780.2,703.0 1791.2,670.0 1802.2,640.0 1813.2,600.0 1824.2,523.7 1835.1,456.5 1846.1,422.1 1857.1,469.3 1868.1,496.5 1879.1,518.9 1890.1,497.3 1901.1,459.9 1912.0,384.8 1923.0,313.4 1934.0,281.5 1945.0,269.9 1956.0,268.7 1967.0,283.1 1978.0,297.3" stroke="#e377c2" marker-start="url(#m6)" marker-mid="url(#m6)" marker-end="url(#m6)"/>
<polyline points="220.2,413.4 231.2,437.4 242.2,444.3 253.2,441.7 264.1,460.6 275.1,471.6 286.1,497.5 297.1,524.5 308.1,552.1 319.1,580.6 330.1,590.9 341.0,607.3 352.0,599.8 363.0,609.5 374.0,594.6 385.0,601.6 396.0,587.7 407.0,573.6 417.9,574.9 428.9,597.6 439.9,598.5 450.9,614.5 461.9,624.3 472.9,635.2 483.9,658.0 494.9,658.0 505.8,668.9 516.8,674.2 527.8,634.6 538.8,628.5 549.8,599.8 560.8,536.9 571.8,508.9 582.7,488.7 593.7,499.4 604.7,548.5 615.7,600.0 626.7,630.0 637.7,644.0 648.7,655.0 659.6,660.0 670.6,660.0 681.6,640.0 692.6,600.0 703.6,602.2 714.6,623.2 725.6,627.3 736.5,632.8 747.5,624.8 758.5,635.5 769.5,597.6 780.5,598.9 791.5,602.6 802.5,599.6 813.4,603.3 824.4,594.7 835.4,604.3 846.4,597.4 857.4,576.6 868.4,566.2 879.4,545.6 890.3,524.7 901.3,505.1 912.3,485.9 923.3,474.6 934.3,466.0 945.3,460.6 956.3,457.2 967.2,455.6 978.2,450.4 989.2,450.4 1000.2,435.1 1011.2,426.7 1022.2,443.3 1033.2,463.3 1044.2,480.4 1055.1,516.7 1066.1,550.9 1077.1,570.6 1088.1,587.6 1099.1,602.8 1110.1,605.6 1121.1,598.1 1132.0,549.8 1143.0,507.8 1154.0,475.3 1165.0,454.4 1176.0,435.5 1187.0,418.4 1198.0,409.3 1208.9,427.2 1219.9,446.2 1230.9,466.4 1241.9,496.5 1252.9,508.1 1263.9,521.9 1274.9,522.0 1285.8,513.8 1296.8,501.8 1307.8,471.3 1318.8,457.0 1329.8,431.3 1340.8,412.0 1351.8,397.0 1362.7,380.8 1373.7,352.2 1384.7,330.0 1395.7,290.0 1406.7,252.0 1417.7,217.0 1428.7,228.0 1439.6,270.0 1450.6,300.0 1461.6,320.0 1472.6,338.1 1483.6,347.1 1494.6,346.8 1505.6,354.5 1516.5,346.2 1527.5,334.7 1538.5,323.1 1549.5,320.5 1560.5,301.7 1571.5,303.9 1582.5,324.5 1593.5,346.7 1604.4,372.0 1615.4,403.5 1626.4,464.7 1637.4,533.0 1648.4,565.5 1659.4,614.7 1670.4,638.3 1681.3,659.8 1692.3,650.1 1703.3,645.3 1714.3,604.8 1725.3,545.7 1736.3,506.3 1747.3,483.6 1758.2,472.5 1769.2,482.0 1780.2,504.7 1791.2,557.3 1802.2,594.6 1813.2,611.3 1824.2,605.1 1835.1,600.3 1846.1,582.1 1857.1,545.3 1868.1,505.0 1879.1,449.9 1890.1,400.5 1901.1,364.0 1912.0,344.2 1923.0,351.0 1934.0,351.8 1945.0,363.8 1956.0,364.9 1967.0,370.6 1978.0,383.4" stroke="#7f7f7f" marker-start="url(#m7)" marker-mid="url(#m7)" marker-end="url(#m7)"/>
<polyline points="220.2,270.0 231.2,330.0 242.2,400.0 253.2,490.0 264.1,580.0 275.1,650.0 286.1,710.0 297.1,752.0 308.1,692.0 319.1,607.0 330.1,540.0 341.0,552.7 352.0,575.5 363.0,594.8 374.0,578.0 385.0,565.2 396.0,582.9 407.0,620.0 417.9,690.0 428.9,740.0 439.9,742.0 450.9,730.0 461.9,715.0 472.9,693.0 483.9,695.0 494.9,713.0 505.8,719.0 516.8,700.0 527.8,660.0 538.8,620.8 549.8,577.7 560.8,544.9 571.8,521.8 582.7,526.8 593.7,536.9 604.7,555.3 615.7,568.9 626.7,576.2 637.7,570.8 648.7,548.6 659.6,544.4 670.6,516.5 681.6,500.1 692.6,502.1 703.6,502.1 714.6,515.6 725.6,570.5 736.5,614.6 747.5,657.6 758.5,666.4 769.5,678.0 780.5,660.4 791.5,640.3 802.5,610.1 813.4,584.4 824.4,534.7 835.4,504.6 846.4,480.4 857.4,458.6 868.4,442.2 879.4,416.9 890.3,430.3 901.3,433.9 912.3,443.4 923.3,463.8 934.3,475.1 945.3,483.5 956.3,483.1 967.2,465.4 978.2,464.8 989.2,441.3 1000.2,424.8 1011.2,467.7 1022.2,500.1 1033.2,520.0 1044.2,470.0 1055.1,420.0 1066.1,375.0 1077.1,373.0 1088.1,389.0 1099.1,444.0 1110.1,520.0 1121.1,590.0 1132.0,652.0 1143.0,628.0 1154.0,560.0 1165.0,520.0 1176.0,493.0 1187.0,463.7 1198.0,429.8 1208.9,430.4 1219.9,426.6 1230.9,420.5 1241.9,426.4 1252.9,430.2 1263.9,438.8 1274.9,423.9 1285.8,435.2 1296.8,436.8 1307.8,439.4 1318.8,445.3 1329.8,443.9 1340.8,432.6 1351.8,422.8 1362.7,414.1 1373.7,396.3 1384.7,374.6 1395.7,353.4 1406.7,350.9 1417.7,349.2 1428.7,353.6 1439.6,369.3 1450.6,377.0 1461.6,390.1 1472.6,389.2 1483.6,372.0 1494.6,319.7 1505.6,288.8 1516.5,241.4 1527.5,225.3 1538.5,234.1 1549.5,246.7 1560.5,269.0 1571.5,300.7 1582.5,348.2 1593.5,399.4 1604.4,447.7 1615.4,475.3 1626.4,485.0 1637.4,509.2 1648.4,547.5 1659.4,554.8 1670.4,578.6 1681.3,597.2 1692.3,596.0 1703.3,575.9 1714.3,571.6 1725.3,548.8 1736.3,530.5 1747.3,504.4 1758.2,523.5 1769.2,528.0 1780.2,532.3 1791.2,553.9 1802.2,565.7 1813.2,559.7 1824.2,560.2 1835.1,520.9 1846.1,506.5 1857.1,469.6 1868.1,438.6 1879.1,388.2 1890.1,378.4 1901.1,367.9 1912.0,354.8 1923.0,352.0 1934.0,358.6 1945.0,388.5 1956.0,403.1 1967.0,407.6 1978.0,403.3" stroke="#bcbd22" marker-start="url(#m8)" marker-mid="url(#m8)" marker-end="url(#m8)"/>
<polyline points="220.2,491.8 231.2,515.1 242.2,540.1 253.2,537.3 264.1,553.8 275.1,558.3 286.1,572.9 297.1,590.2 308.1,618.7 319.1,624.2 330.1,644.0 341.0,638.6 352.0,622.3 363.0,600.1 374.0,572.0 385.0,499.0 396.0,417.0 407.0,337.0 417.9,327.0 428.9,401.0 439.9,480.0 450.9,548.0 461.9,588.8 472.9,639.0 483.9,672.4 494.9,676.0 505.8,663.8 516.8,649.3 527.8,606.0 538.8,548.6 549.8,494.3 560.8,475.4 571.8,467.1 582.7,485.0 593.7,505.7 604.7,524.2 615.7,549.5 626.7,573.4 637.7,565.7 648.7,575.1 659.6,572.9 670.6,567.3 681.6,555.7 692.6,557.1 703.6,554.9 714.6,564.7 725.6,568.4 736.5,583.8 747.5,606.3 758.5,609.6 769.5,621.8 780.5,632.2 791.5,612.8 802.5,609.3 813.4,588.6 824.4,570.8 835.4,557.8 846.4,565.9 857.4,568.0 868.4,577.0 879.4,563.9 890.3,563.3 901.3,545.8 912.3,515.9 923.3,490.3 934.3,458.3 945.3,433.2 956.3,423.0 967.2,428.0 978.2,451.3 989.2,480.7 1000.2,511.3 1011.2,528.2 1022.2,542.7 1033.2,556.0 1044.2,557.5 1055.1,560.5 1066.1,559.9 1077.1,541.0 1088.1,517.7 1099.1,507.6 1110.1,496.4 1121.1,506.8 1132.0,505.1 1143.0,519.1 1154.0,547.6 1165.0,557.8 1176.0,566.5 1187.0,557.8 1198.0,543.2 1208.9,522.5 1219.9,503.0 1230.9,456.4 1241.9,448.9 1252.9,450.6 1263.9,448.7 1274.9,467.8 1285.8,460.4 1296.8,472.5 1307.8,478.7 1318.8,470.6 1329.8,473.8 1340.8,458.4 1351.8,461.5 1362.7,464.7 1373.7,484.3 1384.7,490.5 1395.7,483.2 1406.7,473.1 1417.7,450.7 1428.7,427.9 1439.6,386.9 1450.6,335.9 1461.6,300.6 1472.6,270.3 1483.6,255.1 1494.6,255.0 1505.6,274.1 1516.5,303.1 1527.5,335.2 1538.5,330.0 1549.5,290.0 1560.5,250.0 1571.5,231.0 1582.5,280.0 1593.5,340.0 1604.4,398.1 1615.4,426.9 1626.4,447.7 1637.4,457.5 1648.4,473.2 1659.4,487.8 1670.4,510.1 1681.3,546.0 1692.3,562.0 1703.3,602.0 1714.3,643.3 1725.3,669.2 1736.3,685.2 1747.3,689.8 1758.2,687.6 1769.2,672.5 1780.2,656.1 1791.2,628.3 1802.2,570.7 1813.2,543.5 1824.2,497.5 1835.1,465.0 1846.1,474.6 1857.1,460.2 1868.1,472.6 1879.1,463.0 1890.1,462.2 1901.1,457.9 1912.0,457.3 1923.0,440.1 1934.0,433.8 1945.0,413.4 1956.0,411.7 1967.0,394.5 1978.0,380.2" stroke="#17becf" marker-start="url(#m9)" marker-mid="url(#m9)" marker-end="url(#m9)"/>
</g>
<rect x="132.1" y="5.8" width="1933.9" height="940.1" fill="none" stroke="#000" stroke-width="2"/>
<path d="M212.9 945.9v8.8M432.8 945.9v8.8M652.6 945.9v8.8M872.5 945.9v8.8M1092.3 945.9v8.8M1312.2 945.9v8.8M1532.0 945.9v8.8M1751.8 945.9v8.8M1971.7 945.9v8.8M132.1 879.2h-8.8M132.1 686.0h-8.8M132.1 492.7h-8.8M132.1 299.4h-8.8M132.1 106.2h-8.8" stroke="#000" stroke-width="1.9" fill="none"/>
<g class="dj" text-anchor="middle">
<text x="212.9" y="979.8">−10</text>
<text x="432.8" y="979.8">−5</text>
<text x="652.6" y="979.8">0</text>
<text x="872.5" y="979.8">5</text>
<text x="1092.3" y="979.8">10</text>
<text x="1312.2" y="979.8">15</text>
<text x="1532.0" y="979.8">20</text>
<text x="1751.8" y="979.8">25</text>
<text x="1971.7" y="979.8">30</text>
<text x="1099.4" y="1010.2">RV (km/s)</text>
</g>
<g class="dj" text-anchor="end">
<text x="116.4" y="887.7">−0.010</text>
<text x="116.4" y="694.5">−0.005</text>
<text x="116.4" y="501.2">0.000</text>
<text x="116.4" y="307.9">0.005</text>
<text x="116.4" y="114.7">0.010</text>
</g>
<text class="dj" text-anchor="middle" transform="translate(19.2 476.2) rotate(-90)">Normalised CCF Residuals from Gauss fit</text>
<text class="bd" x="1981.6" y="78.4">a</text>
<path d="M160.1,1570.1 160.3,1568.3 160.5,1564.3 160.7,1561.3 160.9,1562.1 161.1,1561.1 161.3,1553.8 161.5,1547.9 161.7,1551.1 161.9,1554.4 162.1,1546.3 162.3,1535.1 162.5,1537.0 162.7,1546.0 162.9,1541.5 163.1,1525.1 163.3,1521.1 163.5,1534.0 163.7,1537.4 163.9,1519.3 164.1,1505.8 164.3,1517.4 164.5,1531.1 164.7,1517.7 164.9,1494.5 165.1,1497.7 165.3,1522.8 165.5,1525.1 165.7,1506.1 165.9,1503.1 166.1,1523.6 166.3,1536.1 166.5,1525.2 166.7,1515.0 166.9,1526.1 167.1,1542.2 167.3,1541.0 167.5,1530.7 167.7,1532.9 167.9,1546.2 168.1,1552.0 168.3,1546.5 168.5,1544.2 168.7,1551.8 168.9,1559.3 169.1,1553.4 169.3,1541.1 169.5,1536.7 169.7,1543.7 169.9,1543.6 170.1,1526.6 170.3,1512.8 170.5,1520.8 170.7,1532.4 170.9,1519.4 171.1,1493.8 171.3,1492.2 171.5,1513.2 171.7,1515.3 171.9,1485.0 172.1,1464.4 172.3,1483.3 172.5,1505.5 172.7,1485.6 172.9,1446.9 173.1,1447.1 173.3,1486.8 173.5,1498.4 173.7,1470.2 173.9,1457.3 174.1,1485.5 174.3,1513.9 174.5,1505.7 174.7,1484.9 174.9,1492.1 175.1,1519.7 175.3,1530.0 175.5,1516.9 175.7,1510.9 175.9,1526.6 176.1,1543.4 176.3,1543.3 176.5,1537.1 176.7,1541.9 176.9,1554.1 177.1,1560.6 177.3,1561.3 177.5,1564.7 177.7,1570.1 177.9,1564.2 178.1,1557.7 178.3,1542.7 178.5,1530.0 178.7,1532.6 178.9,1536.6 179.1,1519.0 179.3,1490.6 179.5,1486.4 179.7,1506.0 179.9,1505.8 180.1,1468.1 180.3,1437.9 180.5,1454.9 180.7,1484.0 180.9,1464.2 181.1,1408.9 181.3,1393.3 181.5,1434.9 181.7,1458.0 181.9,1409.3 182.1,1348.9 182.3,1368.4 182.5,1436.1 182.7,1445.7 182.9,1395.3 183.1,1373.3 183.3,1419.3 183.5,1467.9 183.7,1454.7 183.9,1412.9 184.1,1415.4 184.3,1463.1 184.5,1489.9 184.7,1466.6 184.9,1440.8 185.1,1458.8 185.3,1497.9 185.5,1507.1 185.7,1485.0 185.9,1475.7 186.1,1498.9 186.3,1524.7 186.5,1524.3 186.7,1510.9 186.9,1513.5 187.1,1533.1 187.3,1543.8 187.5,1529.3 187.7,1504.3 187.9,1496.7 188.1,1511.5 188.3,1515.3 188.5,1485.6 188.7,1452.1 188.9,1457.0 189.1,1485.8 189.3,1482.7 189.5,1435.2 189.7,1401.1 189.9,1433.5 190.1,1477.7 190.3,1471.3 190.5,1433.5 190.7,1427.3 190.9,1465.6 191.1,1496.4 191.3,1482.6 191.5,1454.0 191.7,1458.8 191.9,1493.4 192.1,1512.3 192.3,1496.8 192.5,1478.4 192.7,1489.4 192.9,1517.1 193.1,1527.2 193.3,1514.2 193.5,1505.4 193.7,1518.1 193.9,1537.6 194.1,1542.3 194.3,1534.8 194.5,1533.6 194.7,1544.5 194.9,1555.6 195.1,1558.4 195.3,1558.2 195.5,1562.2 195.7,1568.4 195.9,1568.7 196.1,1565.1 196.3,1558.1 196.5,1551.9 196.7,1552.2 196.9,1554.1 197.1,1547.4 197.3,1533.2 197.5,1526.5 197.7,1533.7 197.9,1539.8 198.1,1528.2 198.3,1507.4 198.5,1501.9 198.7,1516.4 198.9,1525.3 199.1,1508.0 199.3,1481.1 199.5,1478.0 199.7,1499.9 199.9,1510.7 200.1,1487.0 200.3,1454.6 200.5,1454.6 200.7,1483.8 200.9,1495.9 201.1,1467.1 201.3,1440.9 201.5,1453.7 201.7,1491.0 201.9,1506.6 202.1,1487.9 202.3,1469.1 202.5,1481.2 202.7,1510.7 202.9,1522.7 203.1,1509.5 203.3,1497.6 203.5,1508.0 203.7,1529.8 203.9,1538.9 204.1,1531.7 204.3,1526.3 204.5,1534.6 204.7,1548.7 204.9,1555.2 205.1,1554.0 205.3,1554.9 205.5,1561.3 205.7,1567.7 205.9,1569.4 206.1,1564.4 206.3,1556.5 206.5,1551.5 206.7,1552.6 206.9,1552.4 207.1,1541.8 207.3,1526.7 207.5,1522.3 207.7,1531.1 207.9,1535.5 208.1,1520.4 208.3,1497.5 208.5,1498.9 208.7,1520.0 208.9,1533.0 209.1,1525.4 209.3,1512.4 209.5,1514.5 209.7,1530.7 209.9,1542.3 210.1,1538.5 210.3,1529.4 210.5,1530.5 210.7,1542.1 210.9,1551.5 211.1,1550.8 211.3,1546.0 211.5,1547.0 211.7,1554.4 211.9,1560.9 212.1,1562.2 212.3,1561.8 212.5,1564.0 212.7,1567.9 212.9,1570.1 213.1,1568.4 213.3,1565.1 213.5,1561.1 213.7,1559.6 213.9,1560.9 214.1,1560.0 214.3,1553.7 214.5,1546.3 214.7,1545.3 214.9,1550.3 215.1,1551.9 215.3,1543.8 215.5,1532.3 215.7,1530.0 215.9,1538.2 216.1,1543.8 216.3,1535.5 216.5,1519.8 216.7,1514.0 216.9,1524.0 217.1,1534.7 217.3,1528.7 217.5,1509.2 217.7,1498.1 217.9,1507.8 218.1,1524.0 218.3,1522.7 218.5,1501.2 218.7,1483.3 218.9,1489.7 219.1,1510.6 219.3,1516.6 219.5,1495.9 219.7,1470.7 219.9,1470.6 220.1,1497.4 220.3,1514.6 220.5,1503.1 220.7,1480.4 220.9,1476.8 221.1,1498.0 221.3,1518.9 221.5,1516.1 221.7,1496.2 221.9,1486.3 222.1,1495.5 222.3,1514.7 222.5,1516.9 222.7,1494.3 222.9,1470.5 223.1,1472.4 223.3,1495.7 223.5,1508.6 223.7,1490.3 223.9,1458.5 224.1,1449.2 224.3,1475.4 224.5,1503.2 224.7,1500.4 224.9,1476.2 225.1,1464.7 225.3,1482.2 225.5,1509.7 225.7,1518.0 225.9,1502.8 226.1,1487.7 226.3,1494.0 226.5,1516.0 226.7,1530.5 226.9,1525.3 227.1,1512.3 227.3,1511.0 227.5,1525.1 227.7,1540.2 227.9,1542.8 228.1,1535.6 228.3,1531.9 228.5,1538.7 228.7,1550.0 228.9,1555.9 229.1,1555.0 229.3,1549.8 229.5,1543.7 229.7,1545.1 229.9,1548.9 230.1,1544.6 230.3,1530.2 230.5,1517.4 230.7,1518.3 230.9,1529.1 231.1,1532.4 231.3,1517.4 231.5,1495.3 231.7,1488.1 231.9,1501.8 232.1,1516.7 232.3,1509.4 232.5,1481.5 232.7,1460.3 232.9,1467.7 233.1,1492.3 233.3,1500.8 233.5,1476.5 233.7,1441.4 233.9,1432.1 234.1,1457.1 234.3,1483.9 234.5,1475.7 234.7,1435.1 234.9,1403.7 235.1,1420.0 235.3,1464.2 235.5,1485.5 235.7,1467.4 235.9,1438.2 236.1,1436.3 236.3,1466.6 236.5,1498.3 236.7,1501.7 236.9,1481.2 237.1,1466.6 237.3,1478.3 237.5,1505.7 237.7,1522.7 237.9,1517.4 238.1,1503.7 238.3,1502.3 238.5,1517.8 238.7,1536.0 238.9,1542.4 239.1,1537.7 239.3,1534.2 239.5,1540.1 239.7,1551.4 239.9,1559.6 240.1,1562.5 240.3,1564.7 240.5,1569.7 240.7,1566.0 240.9,1563.5 241.1,1561.7 241.3,1555.9 241.5,1545.9 241.7,1538.3 241.9,1539.0 242.1,1544.2 242.3,1542.8 242.5,1529.5 242.7,1512.8 242.9,1507.4 243.1,1517.0 243.3,1527.3 243.5,1521.1 243.7,1498.2 243.9,1478.4 244.1,1480.3 244.3,1499.2 244.5,1510.4 244.7,1495.2 244.9,1463.5 245.1,1445.1 245.3,1457.4 245.5,1484.2 245.7,1496.3 245.9,1478.8 246.1,1455.2 246.3,1454.9 246.5,1480.4 246.7,1507.6 246.9,1512.6 247.1,1496.9 247.3,1483.2 247.5,1489.4 247.7,1511.2 247.9,1528.9 248.1,1529.5 248.3,1519.1 248.5,1514.0 248.7,1522.6 248.9,1538.1 249.1,1548.0 249.3,1548.2 249.5,1544.9 249.7,1546.5 249.9,1553.8 250.1,1561.7 250.3,1566.3 250.5,1569.0 250.7,1566.5 250.9,1559.1 251.1,1554.6 251.3,1554.4 251.5,1552.6 251.7,1542.8 251.9,1527.6 252.1,1517.6 252.3,1520.4 252.5,1529.3 252.7,1528.9 252.9,1511.2 253.1,1487.1 253.3,1476.8 253.5,1488.2 253.7,1505.5 253.9,1504.5 254.1,1477.8 254.3,1445.7 254.5,1436.8 254.7,1457.3 254.9,1482.3 255.1,1479.4 255.3,1452.8 255.5,1427.7 255.7,1432.8 255.9,1464.9 256.1,1494.5 256.3,1496.7 256.5,1475.6 256.7,1457.5 256.9,1463.8 257.1,1490.1 257.3,1513.0 257.5,1514.6 257.7,1499.6 257.9,1487.9 258.1,1494.2 258.3,1514.2 258.5,1531.0 258.7,1533.0 258.9,1524.3 259.1,1518.6 259.3,1524.4 259.5,1538.0 259.7,1548.9 259.9,1551.5 260.1,1549.2 260.3,1549.3 260.5,1554.5 260.7,1561.7 260.9,1566.9 261.1,1569.9 261.3,1567.0 261.5,1561.2 261.7,1556.1 261.9,1554.9 262.1,1555.8 262.3,1553.1 262.5,1543.7 262.7,1531.6 262.9,1525.7 263.1,1529.8 263.3,1537.1 263.5,1535.9 263.7,1521.7 263.9,1503.0 264.1,1494.8 264.3,1503.0 264.5,1517.2 264.7,1519.2 264.9,1501.5 265.1,1475.8 265.3,1463.5 265.5,1474.3 265.7,1495.5 265.9,1502.7 266.1,1483.5 266.3,1450.8 266.5,1432.2 266.7,1443.3 266.9,1471.3 267.1,1485.8 267.3,1467.8 267.5,1428.7 267.7,1401.7 267.9,1410.0 268.1,1443.7 268.3,1467.7 268.5,1454.1 268.7,1411.7 268.9,1385.3 269.1,1396.8 269.3,1437.4 269.5,1472.2 269.7,1473.8 269.9,1446.8 270.1,1421.4 270.3,1424.3 270.5,1454.7 270.7,1487.1 270.9,1496.1 271.1,1479.4 271.3,1457.8 271.5,1454.8 271.7,1475.2 271.9,1502.5 272.1,1515.7 272.3,1508.4 272.5,1492.9 272.7,1487.6 272.9,1499.5 273.1,1519.7 273.3,1533.4 273.5,1533.3 273.7,1525.5 273.9,1521.5 274.1,1527.7 274.3,1540.4 274.5,1550.9 274.7,1554.6 274.9,1553.9 275.1,1554.6 275.3,1559.3 275.5,1565.6 275.7,1570.1 275.9,1569.4 276.1,1567.9 276.3,1565.4 276.5,1562.8 276.7,1561.7 276.9,1562.3 277.1,1563.0 277.3,1561.3 277.5,1556.7 277.7,1551.9 277.9,1550.1 278.1,1552.3 278.3,1555.6 278.5,1555.5 278.7,1550.1 278.9,1542.5 279.1,1538.1 279.3,1540.2 279.5,1546.1 279.7,1549.4 279.9,1545.3 280.1,1535.5 280.3,1527.1 280.5,1526.7 280.7,1533.9 280.9,1542.8 281.1,1544.0 281.3,1537.0 281.5,1528.6 281.7,1526.6 281.9,1533.0 282.1,1542.5 282.3,1547.5 282.5,1544.5 282.7,1536.8 282.9,1531.7 283.1,1534.0 283.3,1541.9 283.5,1549.0 283.7,1550.0 283.9,1544.8 284.1,1538.5 284.3,1537.1 284.5,1542.0 284.7,1546.5 284.9,1548.8 285.1,1543.6 285.3,1532.2 285.5,1521.7 285.7,1519.6 285.9,1526.5 286.1,1534.9 286.3,1535.1 286.5,1523.5 286.7,1506.9 286.9,1497.3 287.1,1501.5 287.3,1514.8 287.5,1524.0 287.7,1518.3 287.9,1499.2 288.1,1480.1 288.3,1475.3 288.5,1487.7 288.7,1505.5 288.9,1511.5 289.1,1497.4 289.3,1471.9 289.5,1453.9 289.7,1456.9 289.9,1477.4 290.1,1497.9 290.3,1501.0 290.5,1484.0 290.7,1463.7 290.9,1458.5 291.1,1473.7 291.3,1498.0 291.5,1513.5 291.7,1510.4 291.9,1494.3 292.1,1480.9 292.3,1482.4 292.5,1498.8 292.7,1517.9 292.9,1526.5 293.1,1520.7 293.3,1508.2 293.5,1501.1 293.7,1506.6 293.9,1521.1 294.1,1534.5 294.3,1538.5 294.5,1533.0 294.7,1525.1 294.9,1523.1 295.1,1529.7 295.3,1540.7 295.5,1548.9 295.7,1550.6 295.9,1547.4 296.1,1544.4 296.3,1545.8 296.5,1551.4 296.7,1557.9 296.9,1562.1 297.1,1563.4 297.3,1563.8 297.5,1565.4 297.7,1568.4 297.9,1570.0 298.1,1569.3 298.3,1568.9 298.5,1567.9 298.7,1566.2 298.9,1564.2 299.1,1563.0 299.3,1563.2 299.5,1564.1 299.7,1564.3 299.9,1562.6 300.1,1559.2 300.3,1556.1 300.5,1555.1 300.7,1556.7 300.9,1559.2 301.1,1559.8 301.3,1557.0 301.5,1551.9 301.7,1547.8 301.9,1547.3 302.1,1550.5 302.3,1554.4 302.5,1555.2 302.7,1551.2 302.9,1544.6 303.1,1539.6 303.3,1539.6 303.5,1546.1 303.7,1552.9 303.9,1555.4 304.1,1553.6 304.3,1550.5 304.5,1549.7 304.7,1552.5 304.9,1557.3 305.1,1561.5 305.3,1563.4 305.5,1563.2 305.7,1562.9 305.9,1563.1 306.1,1560.8 306.3,1560.5 306.5,1561.1 306.7,1560.4 306.9,1556.6 307.1,1550.4 307.3,1544.7 307.5,1542.9 307.7,1545.6 307.9,1549.6 308.1,1550.2 308.3,1544.7 308.5,1535.0 308.7,1526.5 308.9,1524.7 309.1,1530.0 309.3,1537.6 309.5,1540.1 309.7,1533.5 309.9,1520.4 310.1,1508.8 310.3,1506.0 310.5,1513.4 310.7,1524.6 310.9,1530.0 311.1,1526.8 311.3,1516.3 311.5,1508.1 311.7,1509.3 311.9,1519.7 312.1,1532.9 312.3,1541.0 312.5,1540.5 312.7,1534.3 312.9,1528.8 313.1,1529.2 313.3,1536.1 313.5,1545.4 313.7,1552.0 313.9,1553.4 314.1,1551.1 314.3,1548.8 314.5,1549.7 314.7,1553.8 314.9,1559.2 315.1,1563.4 315.3,1565.3 315.5,1566.2 315.7,1567.6 315.9,1570.1 316.1,1568.3 316.3,1566.7 316.5,1566.0 316.7,1565.2 316.9,1562.9 317.1,1558.7 317.3,1554.2 317.5,1551.6 317.7,1552.1 317.9,1554.5 318.1,1555.8 318.3,1553.3 318.5,1546.8 318.7,1539.1 318.9,1534.5 319.1,1535.5 319.3,1540.8 319.5,1545.5 319.7,1544.7 319.9,1537.0 320.1,1526.0 320.3,1517.9 320.5,1517.5 320.7,1524.5 320.9,1533.1 321.1,1536.0 321.3,1529.4 321.5,1515.8 321.7,1503.1 321.9,1499.0 322.1,1505.6 322.3,1517.7 322.5,1525.9 322.7,1522.9 322.9,1512.1 323.1,1499.9 323.3,1495.3 323.5,1502.1 323.7,1516.2 323.9,1529.2 324.1,1533.8 324.3,1528.6 324.5,1518.8 324.7,1512.2 324.9,1513.9 325.1,1523.3 325.3,1534.9 325.5,1542.1 325.7,1541.9 325.9,1536.1 326.1,1529.9 326.3,1528.5 326.5,1533.4 326.7,1541.8 326.9,1549.2 327.1,1552.2 327.3,1550.4 327.5,1546.7 327.7,1544.8 327.9,1546.6 328.1,1551.5 328.3,1557.0 328.5,1560.6 328.7,1561.6 328.9,1561.0 329.1,1556.8 329.3,1550.1 329.5,1546.1 329.7,1546.0 329.9,1548.0 330.1,1547.6 330.3,1541.2 330.5,1528.9 330.7,1515.7 330.9,1508.0 331.1,1509.4 331.3,1517.6 331.5,1525.0 331.7,1523.4 331.9,1509.8 332.1,1489.3 332.3,1472.2 332.5,1467.8 332.7,1477.6 332.9,1493.7 333.1,1503.2 333.3,1496.4 333.5,1473.8 333.7,1446.1 333.9,1428.6 334.1,1430.9 334.3,1450.1 334.5,1472.4 334.7,1480.7 334.9,1466.1 335.1,1433.9 335.3,1401.2 335.5,1386.3 335.7,1397.2 335.9,1430.7 336.1,1462.0 336.3,1471.6 336.5,1457.1 336.7,1431.0 336.9,1412.0 337.1,1413.4 337.3,1435.5 337.5,1465.9 337.7,1488.4 337.9,1492.3 338.1,1479.0 338.3,1459.9 338.5,1449.0 338.7,1454.4 338.9,1473.9 339.1,1497.2 339.3,1512.4 339.5,1513.7 339.7,1503.9 339.9,1492.1 340.1,1487.6 340.3,1494.5 340.5,1509.7 340.7,1525.6 340.9,1535.2 341.1,1536.1 341.3,1531.3 341.5,1526.7 341.7,1527.1 341.9,1533.5 342.1,1543.3 342.3,1552.1 342.5,1557.4 342.7,1559.4 342.9,1560.4 343.1,1560.8 343.3,1554.9 343.5,1550.8 343.7,1549.9 343.9,1551.0 344.1,1550.8 344.3,1546.1 344.5,1536.2 344.7,1524.0 344.9,1514.7 345.1,1512.6 345.3,1517.7 345.5,1525.4 345.7,1528.6 345.9,1522.0 346.1,1506.2 346.3,1487.4 346.5,1474.6 346.7,1474.1 346.9,1484.9 347.1,1499.3 347.3,1506.3 347.5,1498.6 347.7,1477.3 347.9,1451.8 348.1,1434.7 348.3,1434.7 348.5,1450.6 348.7,1471.7 348.9,1483.6 349.1,1476.2 349.3,1450.4 349.5,1418.0 349.7,1395.4 349.9,1394.1 350.1,1413.8 350.3,1441.9 350.5,1460.1 350.7,1455.0 350.9,1426.3 351.1,1387.0 351.3,1357.3 351.5,1352.4 351.7,1374.0 351.9,1408.7 352.1,1434.8 352.3,1434.8 352.5,1410.1 352.7,1374.3 352.9,1348.0 353.1,1347.3 353.3,1373.5 353.5,1413.3 353.7,1446.5 353.9,1457.6 354.1,1443.8 354.3,1415.9 354.5,1391.9 354.7,1386.6 354.9,1403.9 355.1,1435.5 355.3,1465.6 355.5,1480.4 355.7,1474.9 355.9,1455.6 356.1,1435.5 356.3,1427.7 356.5,1437.3 356.7,1460.3 356.9,1485.5 357.1,1501.6 357.3,1502.9 357.5,1491.9 357.7,1477.7 357.9,1469.9 358.1,1474.0 358.3,1488.9 358.5,1507.7 358.7,1522.3 358.9,1527.6 359.1,1524.1 359.3,1510.9 359.5,1496.1 359.7,1487.5 359.9,1489.0 360.1,1498.7 360.3,1510.2 360.5,1515.2 360.7,1508.6 360.9,1491.1 361.1,1469.7 361.3,1454.3 361.5,1451.8 361.7,1462.8 361.9,1480.4 362.1,1493.5 362.3,1492.9 362.5,1476.2 362.7,1449.8 362.9,1425.5 363.1,1414.9 363.3,1422.5 363.5,1443.6 363.7,1465.6 363.9,1475.2 364.1,1464.7 364.3,1437.1 364.5,1404.4 364.7,1382.1 364.9,1380.6 365.1,1399.9 365.3,1429.0 365.5,1451.1 365.7,1452.7 365.9,1430.2 366.1,1392.9 366.3,1357.9 366.5,1341.9 366.7,1352.8 366.9,1391.0 367.1,1429.4 367.3,1451.2 367.5,1448.4 367.7,1426.0 367.9,1398.2 368.1,1381.3 368.3,1385.2 368.5,1408.7 368.7,1441.4 368.9,1468.7 369.1,1479.7 369.3,1472.2 369.5,1453.3 369.7,1435.1 369.9,1428.6 370.1,1438.1 370.3,1459.8 370.5,1484.5 370.7,1501.9 370.9,1506.5 371.1,1499.3 371.3,1486.9 371.5,1478.0 371.7,1478.5 371.9,1489.2 372.1,1505.8 372.3,1521.8 372.5,1531.7 372.7,1533.8 372.9,1530.3 373.1,1525.8 373.3,1524.8 373.5,1529.1 373.7,1537.6 373.9,1547.2 374.1,1555.1 374.3,1559.9 374.5,1562.5 374.7,1564.8 374.9,1568.5 375.1,1568.5 375.3,1565.5 375.5,1563.2 375.7,1562.1 375.9,1561.8 376.1,1560.8 376.3,1558.0 376.5,1553.0 376.7,1546.6 376.9,1540.9 377.1,1538.1 377.3,1538.8 377.5,1542.1 377.7,1545.3 377.9,1545.5 378.1,1540.7 378.3,1531.6 378.5,1521.1 378.7,1513.2 378.9,1510.9 379.1,1514.8 379.3,1522.4 379.5,1529.0 379.7,1530.1 379.9,1523.3 380.1,1510.3 380.3,1495.7 380.5,1485.4 380.7,1483.6 380.9,1490.6 381.1,1502.4 381.3,1512.5 381.5,1514.7 381.7,1506.3 381.9,1489.5 382.1,1470.8 382.3,1457.9 382.5,1456.0 382.7,1465.6 382.9,1481.5 383.1,1495.4 383.3,1499.4 383.5,1490.1 383.7,1470.1 383.9,1450.7 384.1,1440.8 384.3,1443.9 384.5,1459.1 384.7,1480.0 384.9,1498.2 385.1,1506.7 385.3,1503.3 385.5,1491.3 385.7,1477.5 385.9,1469.2 386.1,1470.8 386.3,1482.0 386.5,1498.3 386.7,1513.4 386.9,1521.8 387.1,1521.2 387.3,1513.7 387.5,1504.0 387.7,1497.6 387.9,1498.1 388.1,1505.6 388.3,1517.5 388.5,1529.2 388.7,1536.7 388.9,1538.3 389.1,1534.9 389.3,1529.5 389.5,1525.7 389.7,1525.9 389.9,1530.6 390.1,1538.2 390.3,1546.1 390.5,1551.8 390.7,1554.4 390.9,1554.2 391.1,1553.0 391.3,1552.6 391.5,1554.0 391.7,1557.1 391.9,1561.2 392.1,1565.0 392.3,1567.8 392.5,1569.8 392.7,1569.3 392.9,1567.1 393.1,1564.0 393.3,1560.4 393.5,1557.2 393.7,1555.5 393.9,1555.3 394.1,1556.2 394.3,1556.6 394.5,1555.0 394.7,1550.7 394.9,1544.2 395.1,1537.1 395.3,1531.8 395.5,1530.0 395.7,1532.1 395.9,1536.5 396.1,1540.6 396.3,1541.3 396.5,1537.0 396.7,1528.1 396.9,1517.1 397.1,1507.8 397.3,1503.5 397.5,1505.6 397.7,1512.7 397.9,1521.1 398.1,1526.3 398.3,1524.7 398.5,1515.7 398.7,1501.7 398.9,1487.4 399.1,1478.1 399.3,1477.2 399.5,1484.6 399.7,1496.6 399.9,1507.5 400.1,1511.6 400.3,1505.9 400.5,1491.3 400.7,1472.6 400.9,1457.7 401.1,1456.2 401.3,1465.2 401.5,1481.4 401.7,1498.8 401.9,1511.4 402.1,1515.3 402.3,1510.3 402.5,1499.9 402.7,1489.4 402.9,1483.9 403.1,1486.1 403.3,1495.6 403.5,1508.9 403.7,1521.6 403.9,1529.4 404.1,1530.7 404.3,1526.4 404.5,1519.4 404.7,1513.6 404.9,1512.1 405.1,1515.9 405.3,1523.9 405.5,1533.4 405.7,1541.5 405.9,1546.1 406.1,1546.7 406.3,1544.4 406.5,1541.5 406.7,1539.9 406.9,1541.1 407.1,1544.9 407.3,1550.2 407.5,1555.6 407.7,1559.8 407.9,1562.3 408.1,1563.4 408.3,1564.2 408.5,1565.4 408.7,1567.5 408.9,1570.1 409.1,1567.6 409.3,1565.5 409.5,1564.2 409.7,1563.4 409.9,1562.2 410.1,1559.8 410.3,1555.6 410.5,1550.1 410.7,1544.7 410.9,1540.7 411.1,1539.3 411.3,1540.6 411.5,1543.5 411.7,1545.9 411.9,1545.8 412.1,1541.9 412.3,1534.2 412.5,1524.6 412.7,1515.9 412.9,1510.8 413.1,1510.8 413.3,1515.5 413.5,1522.5 413.7,1528.3 413.9,1529.4 414.1,1524.3 414.3,1513.4 414.5,1499.8 414.7,1487.7 414.9,1481.0 415.1,1481.9 415.3,1489.5 415.5,1500.5 415.7,1509.9 415.9,1513.0 416.1,1507.4 416.3,1493.9 416.5,1476.4 416.7,1460.4 416.9,1451.3 417.1,1452.0 417.3,1461.8 417.5,1476.6 417.7,1490.1 417.9,1496.3 418.1,1491.6 418.3,1476.5 418.5,1455.3 418.7,1434.9 418.9,1422.1 419.1,1421.1 419.3,1431.8 419.5,1449.9 419.7,1468.1 419.9,1478.7 420.1,1476.6 420.3,1461.5 420.5,1437.4 420.7,1412.3 420.9,1394.3 421.1,1392.9 421.3,1407.1 421.5,1430.5 421.7,1455.0 421.9,1472.5 422.1,1477.6 422.3,1469.3 422.5,1451.6 422.7,1431.4 422.9,1416.6 423.1,1412.7 423.3,1421.4 423.5,1439.9 423.7,1461.9 423.9,1480.3 424.1,1489.2 424.3,1486.5 424.5,1473.9 424.7,1456.8 424.9,1441.7 425.1,1434.3 425.3,1437.7 425.5,1450.7 425.7,1469.2 425.9,1487.1 426.1,1498.9 426.3,1501.3 426.5,1494.3 426.7,1478.3 426.9,1460.6 427.1,1446.7 427.3,1441.3 427.5,1445.9 427.7,1458.7 427.9,1475.0 428.1,1488.7 428.3,1494.4 428.5,1489.6 428.7,1475.2 428.9,1455.5 429.1,1436.7 429.3,1424.9 429.5,1423.9 429.7,1433.8 429.9,1451.0 430.1,1469.1 430.3,1481.7 430.5,1483.7 430.7,1473.8 430.9,1454.7 431.1,1432.3 431.3,1413.6 431.5,1404.8 431.7,1413.5 431.9,1432.9 432.1,1456.4 432.3,1477.1 432.5,1489.5 432.7,1491.0 432.9,1482.9 433.1,1469.4 433.3,1456.4 433.5,1449.1 433.7,1450.6 433.9,1460.8 434.1,1477.0 434.3,1494.4 434.5,1508.4 434.7,1515.9 434.9,1515.9 435.1,1510.2 435.3,1502.1 435.5,1495.6 435.7,1493.5 435.9,1497.3 436.1,1506.0 436.3,1517.4 436.5,1528.6 436.7,1537.1 436.9,1541.5 437.1,1542.1 437.3,1540.3 437.5,1538.1 437.7,1537.4 437.9,1539.2 438.1,1543.4 438.3,1549.3 438.5,1555.4 438.7,1560.6 438.9,1564.4 439.1,1566.3 439.3,1563.9 439.5,1560.4 439.7,1555.8 439.9,1550.6 440.1,1545.8 440.3,1542.6 440.5,1541.6 440.7,1542.6 440.9,1544.6 441.1,1546.1 441.3,1545.5 441.5,1541.5 441.7,1534.3 441.9,1524.9 442.1,1515.5 442.3,1508.3 442.5,1505.2 442.7,1506.8 442.9,1512.1 443.1,1518.8 443.3,1523.9 443.5,1524.7 443.7,1519.6 443.9,1509.0 444.1,1495.1 444.3,1481.3 444.5,1471.2 444.7,1467.5 444.9,1470.9 445.1,1480.1 445.3,1491.5 445.5,1500.7 445.7,1503.8 445.9,1498.7 446.1,1485.7 446.3,1467.5 446.5,1448.9 446.7,1434.9 446.9,1429.2 447.1,1433.3 447.3,1445.4 447.5,1461.3 447.7,1475.4 447.9,1482.4 448.1,1479.0 448.3,1464.9 448.5,1443.3 448.7,1419.8 448.9,1400.6 449.1,1391.1 449.3,1393.7 449.5,1407.2 449.7,1427.1 449.9,1446.7 450.1,1459.2 450.3,1459.8 450.5,1447.0 450.7,1423.5 450.9,1395.3 451.1,1369.9 451.3,1354.4 451.5,1352.8 451.7,1367.6 451.9,1395.7 452.1,1424.7 452.3,1447.0 452.5,1457.2 452.7,1453.9 452.9,1439.4 453.1,1419.1 453.3,1400.1 453.5,1388.6 453.7,1388.6 453.9,1400.3 454.1,1420.8 454.3,1444.7 454.5,1465.9 454.7,1479.3 454.9,1482.4 455.1,1475.6 455.3,1462.3 455.5,1447.5 455.7,1436.2 455.9,1432.3 456.1,1437.5 456.3,1450.5 456.5,1468.1 456.7,1485.9 456.9,1499.8 457.1,1507.0 457.3,1506.8 457.5,1500.6 457.7,1491.3 457.9,1482.8 458.1,1478.0 458.3,1479.0 458.5,1485.8 458.7,1496.8 458.9,1509.6 459.1,1521.2 459.3,1529.4 459.5,1533.1 459.7,1532.6 459.9,1529.4 460.1,1525.5 460.3,1522.9 460.5,1523.1 460.7,1526.4 460.9,1532.3 461.1,1539.5 461.3,1546.7 461.5,1552.6 461.7,1556.7 461.9,1559.0 462.1,1560.3 462.3,1561.5 462.5,1563.2 462.7,1566.0 462.9,1569.6 463.1,1568.1 463.3,1565.6 463.5,1563.8 463.7,1562.7 463.9,1562.1 464.1,1561.3 464.3,1559.6 464.5,1556.7 464.7,1552.4 464.9,1547.1 465.1,1541.6 465.3,1537.2 465.5,1534.5 465.7,1534.2 465.9,1535.9 466.1,1538.8 466.3,1541.4 466.5,1542.4 466.7,1540.5 466.9,1535.4 467.1,1527.6 467.3,1518.3 467.5,1509.6 467.7,1503.4 467.9,1500.9 468.1,1502.6 468.3,1507.7 468.5,1514.5 468.7,1520.5 468.9,1523.5 469.1,1521.6 469.3,1514.7 469.5,1503.6 469.7,1490.5 469.9,1478.3 470.1,1469.8 470.3,1466.9 470.5,1470.1 470.7,1478.3 470.9,1488.8 471.1,1498.5 471.3,1504.0 471.5,1503.1 471.7,1495.2 471.9,1481.4 472.1,1464.6 472.3,1448.6 472.5,1437.0 472.7,1432.5 472.9,1436.1 473.1,1446.4 473.3,1460.5 473.5,1474.3 473.7,1483.5 473.9,1487.5 474.1,1483.8 474.3,1473.4 474.5,1460.0 474.7,1447.6 474.9,1440.0 475.1,1439.4 475.3,1446.3 475.5,1459.2 475.7,1475.2 475.9,1490.8 476.1,1502.8 476.3,1509.0 476.5,1508.8 476.7,1503.4 476.9,1494.9 477.1,1486.3 477.3,1480.3 477.5,1478.8 477.7,1482.6 477.9,1490.9 478.1,1502.0 478.3,1513.5 478.5,1523.3 478.7,1529.7 478.9,1532.1 479.1,1530.7 479.3,1527.0 479.5,1522.7 479.7,1519.5 479.9,1518.6 480.1,1520.7 480.3,1525.5 480.5,1532.1 480.7,1539.3 480.9,1545.8 481.1,1550.7 481.3,1553.8 481.5,1555.1 481.7,1555.3 481.9,1555.3 482.1,1555.8 482.3,1557.3 482.5,1559.8 482.7,1563.0 482.9,1566.5 483.1,1568.3 483.3,1566.8 483.5,1565.7 483.7,1564.9 483.9,1563.7 484.1,1561.9 484.3,1559.1 484.5,1555.4 484.7,1551.2 484.9,1547.1 485.1,1543.7 485.3,1541.8 485.5,1541.4 485.7,1542.6 485.9,1544.6 486.1,1546.5 486.3,1547.3 486.5,1546.2 486.7,1542.7 486.9,1537.0 487.1,1529.8 487.3,1522.4 487.5,1516.1 487.7,1512.2 487.9,1511.3 488.1,1513.4 488.3,1517.9 488.5,1523.2 488.7,1527.8 488.9,1529.9 489.1,1528.5 489.3,1523.1 489.5,1514.4 489.7,1503.9 489.9,1493.4 490.1,1485.1 490.3,1480.6 490.5,1480.8 490.7,1485.4 490.9,1493.1 491.1,1501.7 491.3,1508.9 491.5,1512.5 491.7,1510.9 491.9,1503.9 492.1,1492.5 492.3,1478.6 492.5,1465.1 492.7,1454.5 492.9,1449.1 493.1,1449.9 493.3,1456.4 493.5,1467.0 493.7,1479.0 493.9,1489.1 494.1,1494.6 494.3,1493.7 494.5,1487.8 494.7,1477.6 494.9,1465.2 495.1,1453.8 495.3,1446.1 495.5,1444.2 495.7,1448.6 495.9,1458.5 496.1,1471.9 496.3,1486.2 496.5,1498.5 496.7,1506.6 496.9,1509.3 497.1,1506.6 497.3,1499.7 497.5,1490.7 497.7,1481.8 497.9,1475.5 498.1,1473.3 498.3,1475.9 498.5,1482.8 498.7,1492.8 498.9,1504.0 499.1,1514.1 499.3,1521.6 499.5,1525.3 499.7,1524.9 499.9,1521.2 500.1,1515.5 500.3,1509.5 500.5,1504.8 500.7,1502.7 500.9,1503.9 501.1,1508.2 501.3,1515.0 501.5,1522.9 501.7,1530.5 501.9,1536.8 502.1,1540.7 502.3,1542.0 502.5,1541.1 502.7,1538.6 502.9,1535.6 503.1,1533.1 503.3,1532.0 503.5,1532.7 503.7,1535.2 503.9,1539.2 504.1,1544.0 504.3,1548.8 504.5,1553.0 504.7,1556.2 504.9,1558.1 505.1,1559.0 505.3,1559.1 505.5,1559.1 505.7,1559.3 505.9,1560.1 506.1,1561.5 506.3,1563.5 506.5,1565.9 506.7,1568.2 506.9,1570.1 507.1,1568.7 507.3,1567.2 507.5,1565.9 507.7,1564.5 507.9,1562.6 508.1,1559.9 508.3,1556.3 508.5,1552.1 508.7,1547.7 508.9,1543.7 509.1,1540.8 509.3,1539.2 509.5,1539.2 509.7,1540.4 509.9,1542.3 510.1,1544.0 510.3,1544.6 510.5,1543.4 510.7,1539.9 510.9,1534.2 511.1,1526.9 511.3,1518.9 511.5,1511.4 511.7,1505.8 511.9,1502.8 512.1,1502.9 512.3,1505.9 512.5,1510.8 512.7,1516.4 512.9,1521.1 513.1,1523.4 513.3,1522.2 513.5,1517.1 513.7,1508.5 513.9,1497.5 514.1,1485.8 514.3,1475.4 514.5,1467.9 514.7,1464.7 514.9,1466.2 515.1,1471.9 515.3,1480.4 515.5,1489.7 515.7,1497.6 515.9,1501.9 516.1,1501.3 516.3,1495.2 516.5,1484.1 516.7,1469.8 516.9,1454.4 517.1,1440.6 517.3,1430.7 517.5,1426.4 517.7,1428.4 517.9,1436.0 518.1,1447.6 518.3,1460.7 518.5,1472.2 518.7,1479.4 518.9,1480.5 519.1,1474.6 519.3,1462.2 519.5,1445.1 519.7,1426.0 519.9,1408.2 520.1,1394.8 520.3,1388.0 520.5,1389.0 520.7,1397.3 520.9,1411.2 521.1,1427.7 521.3,1443.4 521.5,1454.9 521.7,1459.4 521.9,1455.5 522.1,1443.3 522.3,1424.6 522.5,1402.3 522.7,1380.2 522.9,1362.0 523.1,1350.8 523.3,1348.6 523.5,1355.5 523.7,1370.0 523.9,1389.3 524.1,1409.4 524.3,1426.2 524.5,1436.1 524.7,1436.7 524.9,1427.3 525.1,1409.1 525.3,1384.8 525.5,1358.5 525.7,1334.6 525.9,1317.1 526.1,1309.0 526.3,1312.4 526.5,1330.8 526.7,1355.7 526.9,1382.8 527.1,1407.8 527.3,1426.8 527.5,1437.0 527.7,1437.4 527.9,1428.8 528.1,1413.4 528.3,1394.8 528.5,1376.8 528.7,1363.0 528.9,1356.4 529.1,1358.2 529.3,1368.3 529.5,1385.3 529.7,1406.3 529.9,1428.0 530.1,1447.1 530.3,1460.7 530.5,1467.4 530.7,1466.5 530.9,1459.1 531.1,1447.3 531.3,1433.6 531.5,1421.2 531.7,1412.5 531.9,1409.4 532.1,1412.7 532.3,1422.0 532.5,1435.8 532.7,1452.1 532.9,1468.5 533.1,1482.5 533.3,1492.4 533.5,1497.3 533.7,1496.9 533.9,1492.1 534.1,1484.6 534.3,1476.1 534.5,1468.8 534.7,1464.2 534.9,1463.4 535.1,1466.8 535.3,1474.0 535.5,1484.0 535.7,1495.4 535.9,1506.6 536.1,1516.2 536.3,1523.2 536.5,1527.1 536.7,1527.9 536.9,1526.4 537.1,1523.3 537.3,1520.0 537.5,1517.4 537.7,1516.4 537.9,1517.5 538.1,1520.7 538.3,1525.8 538.5,1531.9 538.7,1538.5 538.9,1544.7 539.1,1550.0 539.3,1554.1 539.5,1556.9 539.7,1558.8 539.9,1560.1 540.1,1561.3 540.3,1562.8 540.5,1565.0 540.7,1567.9 540.9,1569.9 541.1,1568.1 541.3,1566.4 541.5,1564.9 541.7,1563.8 541.9,1563.2 542.1,1562.8 542.3,1562.5 542.5,1562.0 542.7,1561.1 542.9,1559.6 543.1,1557.3 543.3,1554.3 543.5,1550.8 543.7,1547.2 543.9,1543.8 544.1,1541.0 544.3,1539.3 544.5,1538.7 544.7,1539.3 544.9,1540.8 545.1,1542.8 545.3,1544.8 545.5,1546.0 545.7,1546.1 545.9,1544.7 546.1,1541.6 546.3,1537.0 546.5,1531.3 546.7,1525.2 546.9,1519.5 547.1,1514.8 547.3,1511.9 547.5,1511.0 547.7,1512.2 547.9,1515.3 548.1,1519.5 548.3,1524.0 548.5,1527.8 548.7,1530.1 548.9,1530.2 549.1,1527.7 549.3,1522.7 549.5,1515.6 549.7,1507.3 549.9,1498.8 550.1,1491.3 550.3,1485.7 550.5,1482.9 550.7,1483.1 550.9,1486.2 551.1,1491.7 551.3,1498.5 551.5,1505.3 551.7,1510.9 551.9,1514.2 552.1,1514.2 552.3,1510.7 552.5,1503.9 552.7,1494.5 552.9,1483.6 553.1,1472.8 553.3,1463.5 553.5,1456.9 553.7,1453.9 553.9,1454.9 554.1,1459.7 554.3,1467.3 554.5,1476.5 554.7,1485.7 554.9,1493.3 555.1,1497.8 555.3,1499.3 555.5,1497.1 555.7,1491.1 555.9,1482.5 556.1,1472.6 556.3,1463.3 556.5,1455.8 556.7,1451.5 556.9,1451.1 557.1,1454.6 557.3,1461.7 557.5,1471.3 557.7,1482.1 557.9,1492.6 558.1,1501.5 558.3,1507.6 558.5,1510.2 558.7,1509.2 558.9,1505.0 559.1,1498.4 559.3,1490.5 559.5,1482.6 559.7,1476.1 559.9,1472.0 560.1,1470.9 560.3,1473.1 560.5,1478.3 560.7,1485.8 560.9,1494.6 561.1,1503.5 561.3,1511.5 561.5,1517.5 561.7,1520.8 561.9,1521.3 562.1,1519.0 562.3,1514.5 562.5,1508.7 562.7,1502.4 562.9,1496.9 563.1,1492.9 563.3,1491.2 563.5,1492.0 563.7,1495.2 563.9,1500.5 564.1,1507.2 564.3,1514.4 564.5,1521.3 564.7,1527.0 564.9,1529.7 565.1,1530.2 565.3,1528.4 565.5,1524.4 565.7,1518.5 565.9,1511.4 566.1,1504.0 566.3,1497.2 566.5,1491.9 566.7,1488.7 566.9,1488.0 567.1,1489.9 567.3,1494.1 567.5,1499.8 567.7,1506.2 567.9,1512.3 568.1,1517.1 568.3,1519.8 568.5,1519.9 568.7,1517.1 568.9,1511.7 569.1,1504.2 569.3,1495.6 569.5,1486.8 569.7,1479.0 569.9,1473.2 570.1,1470.0 570.3,1469.9 570.5,1472.8 570.7,1478.3 570.9,1485.5 571.1,1493.4 571.3,1500.7 571.5,1506.4 571.7,1509.6 571.9,1509.5 572.1,1506.2 572.3,1499.8 572.5,1491.0 572.7,1480.9 572.9,1470.7 573.1,1461.7 573.3,1455.0 573.5,1451.4 573.7,1451.3 573.9,1454.8 574.1,1461.2 574.3,1469.6 574.5,1478.9 574.7,1487.7 574.9,1494.7 575.1,1498.9 575.3,1499.4 575.5,1496.1 575.7,1489.3 575.9,1479.7 576.1,1468.4 576.3,1456.7 576.5,1446.1 576.7,1437.9 576.9,1433.1 577.1,1432.2 577.3,1435.4 577.5,1442.1 577.7,1451.4 577.9,1462.0 578.1,1472.4 578.3,1481.2 578.5,1487.1 578.7,1489.2 578.9,1487.0 579.1,1480.7 579.3,1470.9 579.5,1458.7 579.7,1445.6 579.9,1433.1 580.1,1422.8 580.3,1415.8 580.5,1413.0 580.7,1414.8 580.9,1420.7 581.1,1430.1 581.3,1441.6 581.5,1453.7 581.7,1464.8 581.9,1473.3 582.1,1478.0 582.3,1478.1 582.5,1473.6 582.7,1464.8 582.9,1452.6 583.1,1438.8 583.3,1427.1 583.5,1417.2 583.7,1410.5 583.9,1407.9 584.1,1409.9 584.3,1416.3 584.5,1426.3 584.7,1438.9 584.9,1452.6 585.1,1465.8 585.3,1477.3 585.5,1485.7 585.7,1490.5 585.9,1491.2 586.1,1488.2 586.3,1482.0 586.5,1473.8 586.7,1464.8 586.9,1456.2 587.1,1449.3 587.3,1445.2 587.5,1444.2 587.7,1446.8 587.9,1452.5 588.1,1460.9 588.3,1471.0 588.5,1481.8 588.7,1492.0 588.9,1500.7 589.1,1507.2 589.3,1510.8 589.5,1511.5 589.7,1509.5 589.9,1505.3 590.1,1499.7 590.3,1493.6 590.5,1487.9 590.7,1483.5 590.9,1481.1 591.1,1480.9 591.3,1483.1 591.5,1487.6 591.7,1493.8 591.9,1501.2 592.1,1509.0 592.3,1516.5 592.5,1522.9 592.7,1527.8 592.9,1530.9 593.1,1532.0 593.3,1531.5 593.5,1529.5 593.7,1526.6 593.9,1523.4 594.1,1520.5 594.3,1518.3 594.5,1517.3 594.7,1517.7 594.9,1519.4 595.1,1522.5 595.3,1526.6 595.5,1531.3 595.7,1536.2 595.9,1540.9 596.1,1545.1 596.3,1548.5 596.5,1550.9 596.7,1552.4 596.9,1553.1 597.1,1553.1 597.3,1552.8 597.5,1552.4 597.7,1552.2 597.9,1552.4 598.1,1553.1 598.3,1554.3 598.5,1556.1 598.7,1558.2 598.9,1560.6 599.1,1563.0 599.3,1565.3 599.5,1567.4 599.7,1569.0 599.9,1570.1 600.1,1570.1 600.3,1569.8 600.5,1569.6 600.7,1569.2 600.9,1568.7 601.1,1568.1 601.3,1567.3 601.5,1566.3 601.7,1565.3 601.9,1564.2 602.1,1563.3 602.3,1562.5 602.5,1562.0 602.7,1561.9 602.9,1562.1 603.1,1562.7 603.3,1563.6 603.5,1564.6 603.7,1565.5 603.9,1566.3 604.1,1566.7 604.3,1566.6 604.5,1565.9 604.7,1564.6 604.9,1562.6 605.1,1560.3 605.3,1557.7 605.5,1555.1 605.7,1552.8 605.9,1551.0 606.1,1550.0 606.3,1549.9 606.5,1550.8 606.7,1552.6 606.9,1555.2 607.1,1558.2 607.3,1561.4 607.5,1564.3 607.7,1566.7 607.9,1568.1 608.1,1568.1 608.3,1566.7 608.5,1564.1 608.7,1560.5 608.9,1556.2 609.1,1551.6 609.3,1547.2 609.5,1543.4 609.7,1540.7 609.9,1539.3 610.1,1539.4 610.3,1541.0 610.5,1543.9 610.7,1547.9 610.9,1552.5 611.1,1557.2 611.3,1561.5 611.5,1564.9 611.7,1567.0 611.9,1567.5 612.1,1566.2 612.3,1563.3 612.5,1559.0 612.7,1553.6 612.9,1547.6 613.1,1541.8 613.3,1536.5 613.5,1532.4 613.7,1529.9 613.9,1529.3 614.1,1530.6 614.3,1533.7 614.5,1538.3 614.7,1544.0 614.9,1550.1 615.1,1556.0 615.3,1561.1 615.5,1564.7 615.7,1566.6 615.9,1566.3 616.1,1563.9 616.3,1559.5 616.5,1553.6 616.7,1546.6 616.9,1539.2 617.1,1532.2 617.3,1526.2 617.5,1521.8 617.7,1519.8 617.9,1520.1 618.1,1522.6 618.3,1527.2 618.5,1533.4 618.7,1540.5 618.9,1547.9 619.1,1554.8 619.3,1560.4 619.5,1564.4 619.7,1566.1 619.9,1565.5 620.1,1562.5 620.3,1557.5 620.5,1550.9 620.7,1543.3 620.9,1535.5 621.1,1528.2 621.3,1522.1 621.5,1517.8 621.7,1515.7 621.9,1516.1 622.1,1518.8 622.3,1523.7 622.5,1530.2 622.7,1537.8 622.9,1545.7 623.1,1553.0 623.3,1559.2 623.5,1563.6 623.7,1565.7 623.9,1565.3 624.1,1562.5 624.3,1557.4 624.5,1550.6 624.7,1542.7 624.9,1534.4 625.1,1526.5 625.3,1519.7 625.5,1514.7 625.7,1511.9 625.9,1511.6 626.1,1513.9 626.3,1518.5 626.5,1525.0 626.7,1532.8 626.9,1541.1 627.1,1549.2 627.3,1556.3 627.5,1561.6 627.7,1564.8 627.9,1565.4 628.1,1563.4 628.3,1559.0 628.5,1552.4 628.7,1544.4 628.9,1535.6 629.1,1526.7 629.3,1518.7 629.5,1512.3 629.7,1508.0 629.9,1506.2 630.1,1507.2 630.3,1510.7 630.5,1516.6 630.7,1524.2 630.9,1532.9 631.1,1541.9 631.3,1550.3 631.5,1557.3 631.7,1562.3 631.9,1564.8 632.1,1564.5 632.3,1561.5 632.5,1555.9 632.7,1548.3 632.9,1539.3 633.1,1529.7 633.3,1520.3 633.5,1512.0 633.7,1505.5 633.9,1501.5 634.1,1500.1 634.3,1501.7 634.5,1506.0 634.7,1512.7 634.9,1521.1 635.1,1530.6 635.3,1540.2 635.5,1549.2 635.7,1556.6 635.9,1561.8 636.0,1567.5" fill="none" stroke="#3366cc" stroke-width="3.0" stroke-linejoin="round"/><path d="M636.0,1567.5 636.2,1568.5 636.5,1565.0 636.8,1557.6 637.0,1547.2 637.2,1535.3 637.5,1523.5 637.8,1513.5 638.0,1506.4 638.2,1503.4 638.5,1504.7 638.8,1510.3 639.0,1519.3 639.2,1530.7 639.5,1542.7 639.8,1553.8 640.0,1562.4 640.2,1567.4 640.5,1568.3 640.8,1565.1 641.0,1558.4 641.2,1549.3 641.5,1539.2 641.8,1529.6 642.0,1521.7 642.2,1516.5 642.5,1514.7 642.8,1516.5 643.0,1521.4 643.2,1528.9 643.5,1537.8 643.8,1547.0 644.0,1555.3 644.2,1561.9 644.5,1565.9 644.8,1567.2 645.0,1565.7 645.2,1561.6 645.5,1555.5 645.8,1548.3 646.0,1540.6 646.2,1533.4 646.5,1527.8 646.8,1524.3 647.0,1523.4 647.2,1525.3 647.5,1529.7 647.8,1536.1 648.0,1543.6 648.2,1551.2 648.5,1558.0 648.8,1563.0 649.0,1565.6 649.2,1565.5 649.5,1562.5 649.8,1557.0 650.0,1549.6 650.2,1541.3 650.5,1533.0 650.8,1525.8 651.0,1520.5 651.2,1517.8 651.5,1518.0 651.8,1521.1 652.0,1526.8 652.2,1534.2 652.5,1542.6 652.8,1550.7 653.0,1557.6 653.2,1562.4 653.5,1564.5 653.8,1563.6 654.0,1559.8 654.2,1553.4 654.5,1545.4 654.8,1536.6 655.0,1528.0 655.2,1520.8 655.5,1515.7 655.8,1513.4 656.0,1514.1 656.2,1517.8 656.5,1523.9 656.8,1531.8 657.0,1540.5 657.2,1548.9 657.5,1556.0 657.8,1561.0 658.0,1563.1 658.2,1562.3 658.5,1558.4 658.8,1552.1 659.0,1543.9 659.2,1534.8 659.5,1526.0 659.8,1518.3 660.0,1512.7 660.2,1509.9 660.5,1510.2 660.8,1513.4 661.0,1519.3 661.2,1527.1 661.5,1536.0 661.8,1544.8 662.0,1552.6 662.2,1558.3 662.5,1561.4 662.8,1561.5 663.0,1558.5 663.2,1552.7 663.5,1544.8 663.8,1535.7 664.0,1526.4 664.2,1517.9 664.5,1511.3 664.8,1507.1 665.0,1506.0 665.2,1508.1 665.5,1513.0 665.8,1520.3 666.0,1529.2 666.2,1538.6 666.5,1547.5 666.8,1555.0 667.0,1560.0 667.2,1562.1 667.5,1561.0 667.8,1556.8 668.0,1549.9 668.2,1541.2 668.5,1531.4 668.8,1521.8 669.0,1513.4 669.2,1507.1 669.5,1503.6 669.8,1503.4 670.0,1506.5 670.2,1512.5 670.5,1520.9 670.8,1530.7 671.0,1540.8 671.2,1550.2 671.5,1557.8 671.8,1562.7 672.0,1564.5 672.2,1562.9 672.5,1558.3 672.8,1551.1 673.0,1542.1 673.2,1532.4 673.5,1523.1 673.8,1515.2 674.0,1509.4 674.2,1506.5 674.5,1506.7 674.8,1510.0 675.0,1516.1 675.2,1524.3 675.5,1533.7 675.8,1543.4 676.0,1552.4 676.2,1559.7 676.5,1564.7 676.8,1566.8 677.0,1565.9 677.2,1562.2 677.5,1556.2 677.8,1548.6 678.0,1540.4 678.2,1532.5 678.5,1525.9 678.8,1521.2 679.0,1519.1 679.2,1519.6 679.5,1522.5 679.8,1527.5 680.0,1534.2 680.2,1541.7 680.5,1549.3 680.8,1556.4 681.0,1562.2 681.2,1566.4 681.5,1568.8 681.8,1569.2 682.0,1567.8 682.2,1565.1 682.5,1561.4 682.8,1557.2 683.0,1553.2 683.2,1549.7 683.5,1547.0 683.8,1545.4 684.0,1544.9 684.2,1545.6 684.5,1547.4 684.8,1550.0 685.0,1553.3 685.2,1557.0 685.5,1560.7 685.8,1564.2 686.0,1567.2 686.2,1569.2 686.5,1570.1 686.8,1570.1 687.0,1569.1 687.2,1567.1 687.5,1564.4 687.8,1561.2 688.0,1558.0 688.2,1555.1 688.5,1552.6 688.8,1550.9 689.0,1550.2 689.2,1550.4 689.5,1551.4 689.8,1553.2 690.0,1555.7 690.2,1558.5 690.5,1561.5 690.8,1564.4 691.0,1567.1 691.2,1569.1 691.5,1570.1 691.8,1570.1 692.0,1569.2 692.2,1567.0 692.5,1563.6 692.8,1559.5 693.0,1554.8 693.2,1549.9 693.5,1545.3 693.8,1541.3 694.0,1538.4 694.2,1536.8 694.5,1536.7 694.8,1538.2 695.0,1541.2 695.2,1545.4 695.5,1550.4 695.8,1555.8 696.0,1560.9 696.2,1565.0 696.5,1567.7 696.8,1568.4 697.0,1567.0 697.2,1563.4 697.5,1557.9 697.8,1550.7 698.0,1542.4 698.2,1533.6 698.5,1525.1 698.8,1517.5 699.0,1511.5 699.2,1507.5 699.5,1505.8 699.8,1506.7 700.0,1510.0 700.2,1515.6 700.5,1522.8 700.8,1531.0 701.0,1539.3 701.2,1546.9 701.5,1552.9 701.8,1556.5 702.0,1557.1 702.2,1554.4 702.5,1548.4 702.8,1539.4 703.0,1527.9 703.2,1515.0 703.5,1501.4 703.8,1488.2 704.0,1476.6 704.2,1467.3 704.5,1461.3 704.8,1458.9 705.0,1460.4 705.2,1465.7 705.5,1474.2 705.8,1485.3 706.0,1497.8 706.2,1510.5 706.5,1522.3 706.8,1531.7 707.0,1537.7 707.2,1539.5 707.5,1536.7 707.8,1529.1 708.0,1517.2 708.2,1501.7 708.5,1483.7 708.8,1464.5 709.0,1445.7 709.2,1428.8 709.5,1415.2 709.8,1406.0 710.0,1402.0 710.2,1403.5 710.5,1410.3 710.8,1421.7 711.0,1436.5 711.2,1453.5 711.5,1471.1 711.8,1487.6 712.0,1501.7 712.2,1512.0 712.5,1517.6 712.8,1518.0 713.0,1512.9 713.2,1502.6 713.5,1487.9 713.8,1469.8 714.0,1449.6 714.2,1429.0 714.5,1409.5 714.8,1393.0 715.0,1380.6 715.2,1373.5 715.5,1372.1 715.8,1376.5 716.0,1386.4 716.2,1400.7 716.5,1418.1 716.8,1437.2 717.0,1456.3 717.2,1473.9 717.5,1488.7 717.8,1499.4 718.0,1505.4 718.2,1506.2 718.5,1501.7 718.8,1492.5 719.0,1479.1 719.2,1462.7 719.5,1444.6 719.8,1426.2 720.0,1408.9 720.2,1394.3 720.5,1383.6 720.8,1377.7 721.0,1376.9 721.2,1381.4 721.5,1390.7 721.8,1404.2 722.0,1420.6 722.2,1438.6 722.5,1456.8 722.8,1474.0 723.0,1488.7 723.2,1500.2 723.5,1507.6 723.8,1510.6 724.0,1509.0 724.2,1503.2 724.5,1493.8 724.8,1481.5 725.0,1467.5 725.2,1452.9 725.5,1438.9 725.8,1426.6 726.0,1417.1 726.2,1411.0 726.5,1408.9 726.8,1410.9 727.0,1416.8 727.2,1426.3 727.5,1438.6 727.8,1452.7 728.0,1467.8 728.2,1482.7 728.5,1496.4 728.8,1508.0 729.0,1516.7 729.2,1522.2 729.5,1524.0 729.8,1522.4 730.0,1517.5 730.2,1509.8 730.5,1500.2 730.8,1489.3 731.0,1478.2 731.2,1467.6 731.5,1458.4 731.8,1451.3 732.0,1446.8 732.2,1445.3 732.5,1446.7 732.8,1451.2 733.0,1458.2 733.2,1467.5 733.5,1478.4 733.8,1490.2 734.0,1502.0 734.2,1513.1 734.5,1522.8 734.8,1530.4 735.0,1535.5 735.2,1537.7 735.5,1537.1 735.8,1533.7 736.0,1528.0 736.2,1520.4 736.5,1511.5 736.8,1502.1 737.0,1492.8 737.2,1484.5 737.5,1477.6 737.8,1472.7 738.0,1470.0 738.2,1469.9 738.5,1472.3 738.8,1477.0 739.0,1483.8 739.2,1492.1 739.5,1501.5 739.8,1511.3 740.0,1520.9 740.2,1529.7 740.5,1537.1 740.8,1542.7 741.0,1546.0 741.2,1547.1 741.5,1545.7 741.8,1542.2 742.0,1536.8 742.2,1529.9 742.5,1522.2 742.8,1514.2 743.0,1506.5 743.2,1499.6 743.5,1494.1 743.8,1490.2 744.0,1488.2 744.2,1488.2 744.5,1490.1 744.8,1493.7 745.0,1498.8 745.2,1505.1 745.5,1512.2 745.8,1519.5 746.0,1526.8 746.2,1533.6 746.5,1539.3 746.8,1543.7 747.0,1546.5 747.2,1547.4 747.5,1546.4 747.8,1543.5 748.0,1538.8 748.2,1532.7 748.5,1525.6 748.8,1517.9 749.0,1510.2 749.2,1502.9 749.5,1496.5 749.8,1491.4 750.0,1488.0 750.2,1486.3 750.5,1486.5 750.8,1488.6 751.0,1492.3 751.2,1497.3 751.5,1503.3 751.8,1509.8 752.0,1516.5 752.2,1522.9 752.5,1528.6 752.8,1533.4 753.0,1536.7 753.2,1538.5 753.5,1538.4 753.8,1536.2 754.0,1532.1 754.2,1526.0 754.5,1518.2 754.8,1509.2 755.0,1499.2 755.2,1489.0 755.5,1479.0 755.8,1469.9 756.0,1462.2 756.2,1456.5 756.5,1452.9 756.8,1451.7 757.0,1453.0 757.2,1456.6 757.5,1462.4 757.8,1469.7 758.0,1478.3 758.2,1487.4 758.5,1496.4 758.8,1504.7 759.0,1511.6 759.2,1516.6 759.5,1519.3 759.8,1519.3 760.0,1516.7 760.2,1511.3 760.5,1503.6 760.8,1493.7 761.0,1482.2 761.2,1469.8 761.5,1457.0 761.8,1444.6 762.0,1433.2 762.2,1423.6 762.5,1416.1 762.8,1411.1 763.0,1409.1 763.2,1410.0 763.5,1413.7 763.8,1420.1 764.0,1428.7 764.2,1439.0 764.5,1450.4 764.8,1462.0 765.0,1473.2 765.2,1483.2 765.5,1491.3 765.8,1496.9 766.0,1499.6 766.2,1499.3 766.5,1495.8 766.8,1489.4 767.0,1480.3 767.2,1469.1 767.5,1456.2 767.8,1442.6 768.0,1428.8 768.2,1415.6 768.5,1403.7 768.8,1393.8 769.0,1386.4 769.2,1381.8 769.5,1380.4 769.8,1382.2 770.0,1387.1 770.2,1395.0 770.5,1405.3 770.8,1417.5 771.0,1431.0 771.2,1444.9 771.5,1458.5 771.8,1470.9 772.0,1481.3 772.2,1489.1 772.5,1493.9 772.8,1495.4 773.0,1493.5 773.2,1488.3 773.5,1480.2 773.8,1469.6 774.0,1457.0 774.2,1443.3 774.5,1429.2 774.8,1415.4 775.0,1402.7 775.2,1391.9 775.5,1383.4 775.8,1377.8 776.0,1375.4 776.2,1376.4 776.5,1380.6 776.8,1388.0 777.0,1398.4 777.2,1411.1 777.5,1425.5 777.8,1440.8 778.0,1456.1 778.2,1470.8 778.5,1483.9 778.8,1494.8 779.0,1502.9 779.2,1508.0 779.5,1509.8 779.8,1508.4 780.0,1503.8 780.2,1496.5 780.5,1486.9 780.8,1475.6 781.0,1463.3 781.2,1450.8 781.5,1438.6 781.8,1427.6 782.0,1418.3 782.2,1411.2 782.5,1406.8 782.8,1405.3 783.0,1406.8 783.2,1411.4 783.5,1418.7 783.8,1428.5 784.0,1440.3 784.2,1453.6 784.5,1467.7 784.8,1482.0 785.0,1495.8 785.2,1508.4 785.5,1519.2 785.8,1527.8 786.0,1533.9 786.2,1537.2 786.5,1537.7 786.8,1535.6 787.0,1531.1 787.2,1524.5 787.5,1516.3 787.8,1507.1 788.0,1497.4 788.2,1487.8 788.5,1478.8 788.8,1471.0 789.0,1464.8 789.2,1460.6 789.5,1458.6 789.8,1459.0 790.0,1461.6 790.2,1466.4 790.5,1473.2 790.8,1481.6 791.0,1491.2 791.2,1501.5 791.5,1512.2 791.8,1522.7 792.0,1532.6 792.2,1541.6 792.5,1549.3 792.8,1555.4 793.0,1559.7 793.2,1562.2 793.5,1562.9 793.8,1561.8 794.0,1559.2 794.2,1555.1 794.5,1550.1 794.8,1544.3 795.0,1538.2 795.2,1532.1 795.5,1526.3 795.8,1521.3 796.0,1517.3 796.2,1514.6 796.5,1513.3 796.8,1513.3 797.0,1514.8 797.2,1517.6 797.5,1521.4 797.8,1526.0 798.0,1531.1 798.2,1536.5 798.5,1542.1 798.8,1547.5 799.0,1552.5 799.2,1557.1 799.5,1561.1 799.8,1564.3 800.0,1566.7 800.2,1568.2 800.5,1568.8 800.8,1568.5 801.0,1567.4 801.2,1565.6 801.5,1563.3 801.8,1560.5 802.0,1557.5 802.2,1554.4 802.5,1551.3 802.8,1548.6 803.0,1546.2 803.2,1544.3 803.5,1543.0 803.8,1542.2 804.0,1542.1 804.2,1542.6 804.5,1543.6 804.8,1544.8 805.0,1546.3 805.2,1548.0 805.5,1549.9 805.8,1551.9 806.0,1554.0 806.2,1556.2 806.5,1558.3 806.8,1560.4 807.0,1562.4 807.2,1564.1 807.5,1565.4 807.8,1566.2 808.0,1566.3 808.2,1565.7 808.5,1564.3 808.8,1562.2 809.0,1559.4 809.2,1555.9 809.5,1551.8 809.8,1547.3 810.0,1542.5 810.2,1537.7 810.5,1533.0 810.8,1528.5 811.0,1524.6 811.2,1521.4 811.5,1518.9 811.8,1517.3 812.0,1516.6 812.2,1516.8 812.5,1518.0 812.8,1520.1 813.0,1523.2 813.2,1527.2 813.5,1531.7 813.8,1536.8 814.0,1542.2 814.2,1547.6 814.5,1552.7 814.8,1557.2 815.0,1560.6 815.2,1562.7 815.5,1563.2 815.8,1562.0 816.0,1559.0 816.2,1554.1 816.5,1547.6 816.8,1539.5 817.0,1530.2 817.2,1520.0 817.5,1509.2 817.8,1498.4 818.0,1487.8 818.2,1477.9 818.5,1468.9 818.8,1461.3 819.0,1455.2 819.2,1450.9 819.5,1448.4 819.8,1447.9 820.0,1449.3 820.2,1452.5 820.5,1457.5 820.8,1463.9 821.0,1471.5 821.2,1479.9 821.5,1488.8 821.8,1497.6 822.0,1506.0 822.2,1513.5 822.5,1519.7 822.8,1524.2 823.0,1526.6 823.2,1526.8 823.5,1524.6 823.8,1519.9 824.0,1512.7 824.2,1503.4 824.5,1492.0 824.8,1478.9 825.0,1464.6 825.2,1449.5 825.5,1434.2 825.8,1419.0 826.0,1404.7 826.2,1391.6 826.5,1380.3 826.8,1371.3 827.0,1365.0 827.2,1361.4 827.5,1360.8 827.8,1363.0 828.0,1368.0 828.2,1375.4 828.5,1384.9 828.8,1395.9 829.0,1407.9 829.2,1420.5 829.5,1433.0 829.8,1445.0 830.0,1455.9 830.2,1465.4 830.5,1472.9 830.8,1478.2 831.0,1481.1 831.2,1481.3 831.5,1478.9 831.8,1473.8 832.0,1466.1 832.2,1456.2 832.5,1444.2 832.8,1430.6 833.0,1415.8 833.2,1400.2 833.5,1384.6 833.8,1369.2 834.0,1354.8 834.2,1341.8 834.5,1330.7 834.8,1321.8 835.0,1315.6 835.2,1312.3 835.5,1311.9 835.8,1314.4 836.0,1319.7 836.2,1327.4 836.5,1337.4 836.8,1349.1 837.0,1362.0 837.2,1375.6 837.5,1389.2 837.8,1402.5 838.0,1415.0 838.2,1426.1 838.5,1435.5 838.8,1442.9 839.0,1448.1 839.2,1450.8 839.5,1451.0 839.8,1448.7 840.0,1444.0 840.2,1436.9 840.5,1427.7 840.8,1416.7 841.0,1404.2 841.2,1390.7 841.5,1376.5 841.8,1362.3 842.0,1348.4 842.2,1335.5 842.5,1323.9 842.8,1314.0 843.0,1306.4 843.2,1301.2 843.5,1298.7 843.8,1298.9 844.0,1302.0 844.2,1307.8 844.5,1316.1 844.8,1326.5 845.0,1338.6 845.2,1351.8 845.5,1365.8 845.8,1380.0 846.0,1393.8 846.2,1406.9 846.5,1418.8 846.8,1429.0 847.0,1437.4 847.2,1443.5 847.5,1447.4 847.8,1448.8 848.0,1447.8 848.2,1444.4 848.5,1438.8 848.8,1431.2 849.0,1421.8 849.2,1411.1 849.5,1399.4 849.8,1387.1 850.0,1374.8 850.2,1362.8 850.5,1351.6 850.8,1341.6 851.0,1333.3 851.2,1326.8 851.5,1322.6 851.8,1320.7 852.0,1321.2 852.2,1324.1 852.5,1329.4 852.8,1336.7 853.0,1345.9 853.2,1356.7 853.5,1368.5 853.8,1381.1 854.0,1393.9 854.2,1406.7 854.5,1419.0 854.8,1430.4 855.0,1440.6 855.2,1449.2 855.5,1456.1 855.8,1461.0 856.0,1464.0 856.2,1464.9 856.5,1463.8 856.8,1460.7 857.0,1456.0 857.2,1449.6 857.5,1442.0 857.8,1433.4 858.0,1424.1 858.2,1414.4 858.5,1404.8 858.8,1395.5 859.0,1386.9 859.2,1379.4 859.5,1373.1 859.8,1368.4 860.0,1365.4 860.2,1364.2 860.5,1364.9 860.8,1367.5 861.0,1371.8 861.2,1377.9 861.5,1385.4 861.8,1394.2 862.0,1403.9 862.2,1414.4 862.5,1425.2 862.8,1436.1 863.0,1446.7 863.2,1456.7 863.5,1465.9 863.8,1474.1 864.0,1480.9 864.2,1486.2 864.5,1490.0 864.8,1492.2 865.0,1492.7 865.2,1491.6 865.5,1489.1 865.8,1485.1 866.0,1480.0 866.2,1473.9 866.5,1467.1 866.8,1459.8 867.0,1452.3 867.2,1444.9 867.5,1437.8 867.8,1431.3 868.0,1425.7 868.2,1421.0 868.5,1417.6 868.8,1415.5 869.0,1414.8 869.2,1415.5 869.5,1417.8 869.8,1421.4 870.0,1426.3 870.2,1432.4 870.5,1439.4 870.8,1447.3 871.0,1455.7 871.2,1464.4 871.5,1473.2 871.8,1481.9 872.0,1490.2 872.2,1497.9 872.5,1504.9 872.8,1511.0 873.0,1516.0 873.2,1519.9 873.5,1522.6 873.8,1524.0 874.0,1524.3 874.2,1523.5 874.5,1521.5 874.8,1518.7 875.0,1515.0 875.2,1510.7 875.5,1506.0 875.8,1501.0 876.0,1495.9 876.2,1491.0 876.5,1486.4 876.8,1482.2 877.0,1478.6 877.2,1475.8 877.5,1473.9 877.8,1472.8 878.0,1472.7 878.2,1473.6 878.5,1475.5 878.8,1478.2 879.0,1481.8 879.2,1486.1 879.5,1491.1 879.8,1496.6 880.0,1502.5 880.2,1508.7 880.5,1515.0 880.8,1521.2 881.0,1527.2 881.2,1532.9 881.5,1538.2 881.8,1542.9 882.0,1547.0 882.2,1550.4 882.5,1553.0 882.8,1554.8 883.0,1555.8 883.2,1556.0 883.5,1555.5 883.8,1554.2 884.0,1552.4 884.2,1550.0 884.5,1547.3 884.8,1544.4 885.0,1541.4 885.2,1538.5 885.5,1535.7 885.8,1533.2 886.0,1531.1 886.2,1529.4 886.5,1528.2 886.8,1527.5 887.0,1527.4 887.2,1527.8 887.5,1528.7 887.8,1530.0 888.0,1531.7 888.2,1533.7 888.5,1536.0 888.8,1538.5 889.0,1541.1 889.2,1543.9 889.5,1546.8 889.8,1549.7 890.0,1552.6 890.2,1555.4 890.5,1558.1 890.8,1560.7 891.0,1563.0 891.2,1565.0 891.5,1566.7 891.8,1568.1 892.0,1569.1 892.2,1569.7 892.5,1570.0 892.8,1569.9 893.0,1569.5 893.2,1568.8 893.5,1567.9 893.8,1566.9 894.0,1565.7 894.2,1564.6 894.5,1563.4 894.8,1562.4 895.0,1561.4 895.2,1560.6 895.5,1560.0 895.8,1559.6 896.0,1559.3 896.2,1559.0 896.5,1558.8 896.8,1558.7 897.0,1558.5 897.2,1558.4 897.5,1558.3 897.8,1558.2 898.0,1558.1 898.2,1558.2 898.5,1558.4 898.8,1558.9 899.0,1559.5 899.2,1560.2 899.5,1561.2 899.8,1562.2 900.0,1563.3 900.2,1564.4 900.5,1565.5 900.8,1566.6 901.0,1567.6 901.2,1568.5 901.5,1569.2 901.8,1569.7 902.0,1570.0 902.2,1570.0 902.5,1569.7 902.8,1569.1 903.0,1568.3 903.2,1567.1 903.5,1565.7 903.8,1564.1 904.0,1562.3 904.2,1560.2 904.5,1558.1 904.8,1555.8 905.0,1553.4 905.2,1551.1 905.5,1548.7 905.8,1546.4 906.0,1544.2 906.2,1542.1 906.5,1540.2 906.8,1538.6 907.0,1537.2 907.2,1536.2 907.5,1535.5 907.8,1535.2 908.0,1535.3 908.2,1535.9 908.5,1536.8 908.8,1538.2 909.0,1539.8 909.2,1541.8 909.5,1544.0 909.8,1546.4 910.0,1548.9 910.2,1551.4 910.5,1553.8 910.8,1556.1 911.0,1558.1 911.2,1559.8 911.5,1561.2 911.8,1562.2 912.0,1562.7 912.2,1562.7 912.5,1562.2 912.8,1561.2 913.0,1559.7 913.2,1557.6 913.5,1555.1 913.8,1552.1 914.0,1548.7 914.2,1544.9 914.5,1540.9 914.8,1536.6 915.0,1532.2 915.2,1527.8 915.5,1523.4 915.8,1519.2 916.0,1515.1 916.2,1511.5 916.5,1508.2 916.8,1505.3 917.0,1503.0 917.2,1501.2 917.5,1500.1 917.8,1499.5 918.0,1499.6 918.2,1500.3 918.5,1501.6 918.8,1503.4 919.0,1505.7 919.2,1508.4 919.5,1511.5 919.8,1514.9 920.0,1518.6 920.2,1522.3 920.5,1526.1 920.8,1529.8 921.0,1533.3 921.2,1536.6 921.5,1539.6 921.8,1542.1 922.0,1544.2 922.2,1545.6 922.5,1546.5 922.8,1546.7 923.0,1546.2 923.2,1545.0 923.5,1543.2 923.8,1540.7 924.0,1537.6 924.2,1533.9 924.5,1529.6 924.8,1525.0 925.0,1520.0 925.2,1514.7 925.5,1509.2 925.8,1503.7 926.0,1498.3 926.2,1493.0 926.5,1488.0 926.8,1483.3 927.0,1479.1 927.2,1475.5 927.5,1472.6 927.8,1470.3 928.0,1468.8 928.2,1468.0 928.5,1468.0 928.8,1468.8 929.0,1470.2 929.2,1472.4 929.5,1475.2 929.8,1478.6 930.0,1482.5 930.2,1486.8 930.5,1491.4 930.8,1496.2 931.0,1501.1 931.2,1506.0 931.5,1510.9 931.8,1515.5 932.0,1519.9 932.2,1523.8 932.5,1527.3 932.8,1530.2 933.0,1532.5 933.2,1534.0 933.5,1534.8 933.8,1534.8 934.0,1534.0 934.2,1532.4 934.5,1530.1 934.8,1527.0 935.0,1523.2 935.2,1518.8 935.5,1513.8 935.8,1508.4 936.0,1502.6 936.2,1496.6 936.5,1490.4 936.8,1484.2 937.0,1478.1 937.2,1472.2 937.5,1466.6 937.8,1461.4 938.0,1456.8 938.2,1452.9 938.5,1449.7 938.8,1447.4 939.0,1445.9 939.2,1445.2 939.5,1445.5 939.8,1446.6 940.0,1448.5 940.2,1451.3 940.5,1454.7 940.8,1458.7 941.0,1463.4 941.2,1468.5 941.5,1473.9 941.8,1479.6 942.0,1485.5 942.2,1491.3 942.5,1497.1 942.8,1502.7 943.0,1508.0 943.2,1512.9 943.5,1517.3 943.8,1521.2 944.0,1524.4 944.2,1526.9 944.5,1528.6 944.8,1529.6 945.0,1529.8 945.2,1529.2 945.5,1527.8 945.8,1525.6 946.0,1522.7 946.2,1519.1 946.5,1514.8 946.8,1510.0 947.0,1504.7 947.2,1499.0 947.5,1493.1 947.8,1487.1 948.0,1480.9 948.2,1474.9 948.5,1469.0 948.8,1463.4 949.0,1458.2 949.2,1453.4 949.5,1449.3 949.8,1445.8 950.0,1443.0 950.2,1441.0 950.5,1439.8 950.8,1439.4 951.0,1440.0 951.2,1441.3 951.5,1443.5 951.8,1446.5 952.0,1450.2 952.2,1454.6 952.5,1459.5 952.8,1464.9 953.0,1470.7 953.2,1476.7 953.5,1482.8 953.8,1489.1 954.0,1495.2 954.2,1501.2 954.5,1506.9 954.8,1512.2 955.0,1517.1 955.2,1521.3 955.5,1525.0 955.8,1527.9 956.0,1530.2 956.2,1531.7 956.5,1532.4 956.8,1532.3 957.0,1531.4 957.2,1529.8 957.5,1527.5 957.8,1524.4 958.0,1520.7 958.2,1516.4 958.5,1511.6 958.8,1506.4 959.0,1500.8 959.2,1494.9 959.5,1489.0 959.8,1483.0 960.0,1477.0 960.2,1471.3 960.5,1465.9 960.8,1460.8 961.0,1456.2 961.2,1452.2 961.5,1448.8 961.8,1446.2 962.0,1444.3 962.2,1443.2 962.5,1443.0 962.8,1443.7 963.0,1445.2 963.2,1447.6 963.5,1450.7 963.8,1454.6 964.0,1459.2 964.2,1464.4 964.5,1470.0 964.8,1476.0 965.0,1482.4 965.2,1488.8 965.5,1495.4 965.8,1502.0 966.0,1508.4 966.2,1514.6 966.5,1520.4 966.8,1525.9 967.0,1530.9 967.2,1535.3 967.5,1539.0 967.8,1542.1 968.0,1544.5 968.2,1546.2 968.5,1547.1 968.8,1547.2 969.0,1546.6 969.2,1545.3 969.5,1543.2 969.8,1540.6 970.0,1537.3 970.2,1533.4 970.5,1529.1 970.8,1524.4 971.0,1519.4 971.2,1514.1 971.5,1508.7 971.8,1503.3 972.0,1498.0 972.2,1492.7 972.5,1487.8 972.8,1483.1 973.0,1478.9 973.2,1475.1 973.5,1471.9 973.8,1469.3 974.0,1467.3 974.2,1466.1 974.5,1465.5 974.8,1465.8 975.0,1466.8 975.2,1468.5 975.5,1470.9 975.8,1474.0 976.0,1477.8 976.2,1482.1 976.5,1486.9 976.8,1492.1 977.0,1497.7 977.2,1503.5 977.5,1509.5 977.8,1515.5 978.0,1521.6 978.2,1527.6 978.5,1533.4 978.8,1539.0 979.0,1544.2 979.2,1549.1 979.5,1553.5 979.8,1557.4 980.0,1560.7 980.2,1563.3 980.5,1565.4 980.8,1566.7 981.0,1567.3 981.2,1567.3 981.5,1566.6 981.8,1565.3 982.0,1563.4 982.2,1561.1 982.5,1558.2 982.8,1555.0 983.0,1551.4 983.2,1547.6 983.5,1543.6 983.8,1539.4 984.0,1535.2 984.2,1531.0 984.5,1526.9 984.8,1522.9 985.0,1519.2 985.2,1515.7 985.5,1512.5 985.8,1509.7 986.0,1507.3 986.2,1505.4 986.5,1503.9 986.8,1502.9 987.0,1502.4 987.2,1502.4 987.5,1502.9 987.8,1503.8 988.0,1505.2 988.2,1507.1 988.5,1509.3 988.8,1511.9 989.0,1514.8 989.2,1518.1 989.5,1521.5 989.8,1525.1 990.0,1528.9 990.2,1532.7 990.5,1536.6 990.8,1540.4 991.0,1544.2 991.2,1547.8 991.5,1551.3 991.8,1554.6 992.0,1557.6 992.2,1560.4 992.5,1562.8 992.8,1564.9 993.0,1566.7 993.2,1568.1 993.5,1569.2 993.8,1569.9 994.0,1570.1 994.2,1570.1 994.5,1569.9 994.8,1569.3 995.0,1568.4 995.2,1567.2 995.5,1565.8 995.8,1564.2 996.0,1562.4 996.2,1560.6 996.5,1558.6 996.8,1556.6 997.0,1554.6 997.2,1552.7 997.5,1550.7 997.8,1548.9 998.0,1547.2 998.2,1545.7 998.5,1544.3 998.8,1543.1 999.0,1542.1 999.2,1541.3 999.5,1540.7 999.8,1540.4 1000.0,1540.1 1000.2,1540.0 1000.5,1540.1 1000.8,1540.2 1001.0,1540.4 1001.2,1540.8 1001.5,1541.2 1001.8,1541.8 1002.0,1542.5 1002.2,1543.3 1002.5,1544.3 1002.8,1545.5 1003.0,1546.8 1003.2,1548.2 1003.5,1549.8 1003.8,1551.4 1004.0,1553.0 1004.2,1554.7 1004.5,1556.4 1004.8,1558.1 1005.0,1559.8 1005.2,1561.4 1005.5,1563.0 1005.8,1564.4 1006.0,1565.7 1006.2,1566.9 1006.5,1567.9 1006.8,1568.8 1007.0,1569.5 1007.2,1570.0 1007.5,1570.1 1007.8,1570.1 1008.0,1570.1 1008.2,1570.0 1008.5,1569.5 1008.8,1568.7 1009.0,1567.8 1009.2,1566.7 1009.5,1565.5 1009.8,1564.1 1010.0,1562.5 1010.2,1560.8 1010.5,1559.1 1010.8,1557.2 1011.0,1555.3 1011.2,1553.3 1011.5,1551.3 1011.8,1549.2 1012.0,1547.1 1012.2,1545.0 1012.5,1542.9 1012.8,1540.8 1013.0,1538.7 1013.2,1536.7 1013.5,1534.9 1013.8,1533.2 1014.0,1531.6 1014.2,1530.3 1014.5,1529.2 1014.8,1528.4 1015.0,1527.8 1015.2,1527.4 1015.5,1527.3 1015.8,1527.6 1016.0,1528.0 1016.2,1528.8 1016.5,1529.8 1016.8,1531.1 1017.0,1532.6 1017.2,1534.3 1017.5,1536.2 1017.8,1538.3 1018.0,1540.6 1018.2,1543.0 1018.5,1545.5 1018.8,1548.0 1019.0,1550.5 1019.2,1553.0 1019.5,1555.5 1019.8,1557.8 1020.0,1560.0 1020.2,1562.1 1020.5,1563.9 1020.8,1565.5 1021.0,1566.8 1021.2,1567.9 1021.5,1568.6 1021.8,1569.1 1022.0,1569.2 1022.2,1568.9 1022.5,1568.3 1022.8,1567.3 1023.0,1566.0 1023.2,1564.3 1023.5,1562.3 1023.8,1560.0 1024.0,1557.3 1024.2,1554.4 1024.5,1551.2 1024.8,1547.7 1025.0,1544.1 1025.2,1540.3 1025.5,1536.4 1025.8,1532.4 1026.0,1528.3 1026.2,1524.2 1026.5,1520.2 1026.8,1516.2 1027.0,1512.4 1027.2,1508.7 1027.5,1505.3 1027.8,1502.0 1028.0,1499.1 1028.2,1496.4 1028.5,1494.1 1028.8,1492.2 1029.0,1490.6 1029.2,1489.4 1029.5,1488.7 1029.8,1488.4 1030.0,1488.5 1030.2,1489.0 1030.5,1489.9 1030.8,1491.3 1031.0,1493.0 1031.2,1495.1 1031.5,1497.6 1031.8,1500.4 1032.0,1503.5 1032.2,1506.8 1032.5,1510.4 1032.8,1514.1 1033.0,1518.0 1033.2,1521.9 1033.5,1525.9 1033.8,1529.9 1034.0,1533.8 1034.2,1537.6 1034.5,1541.2 1034.8,1544.6 1035.0,1547.8 1035.2,1550.8 1035.5,1553.4 1035.8,1555.6 1036.0,1557.5 1036.2,1558.9 1036.5,1559.9 1036.8,1560.5 1037.0,1560.6 1037.2,1560.2 1037.5,1559.3 1037.8,1558.0 1038.0,1556.2 1038.2,1553.9 1038.5,1551.2 1038.8,1548.1 1039.0,1544.6 1039.2,1540.7 1039.5,1536.4 1039.8,1531.9 1040.0,1527.1 1040.2,1522.1 1040.5,1516.9 1040.8,1511.6 1041.0,1506.2 1041.2,1500.9 1041.5,1495.5 1041.8,1490.3 1042.0,1485.2 1042.2,1480.3 1042.5,1475.7 1042.8,1471.4 1043.0,1467.4 1043.2,1463.8 1043.5,1460.6 1043.8,1457.8 1044.0,1455.5 1044.2,1453.7 1044.5,1452.4 1044.8,1451.5 1045.0,1451.2 1045.2,1451.4 1045.5,1452.1 1045.8,1453.2 1046.0,1454.9 1046.2,1457.0 1046.5,1459.6 1046.8,1462.6 1047.0,1465.9 1047.2,1469.6 1047.5,1473.6 1047.8,1477.9 1048.0,1482.4 1048.2,1487.1 1048.5,1491.9 1048.8,1496.7 1049.0,1501.7 1049.2,1506.5 1049.5,1511.4 1049.8,1516.0 1050.0,1520.6 1050.2,1524.9 1050.5,1529.0 1050.8,1532.7 1051.0,1536.2 1051.2,1539.2 1051.5,1541.9 1051.8,1544.1 1052.0,1545.9 1052.2,1547.1 1052.5,1547.9 1052.8,1548.2 1053.0,1547.9 1053.2,1547.1 1053.5,1545.8 1053.8,1544.0 1054.0,1541.8 1054.2,1539.0 1054.5,1535.8 1054.8,1532.1 1055.0,1528.1 1055.2,1523.6 1055.5,1518.9 1055.8,1513.9 1056.0,1508.6 1056.2,1503.1 1056.5,1497.5 1056.8,1491.7 1057.0,1486.0 1057.2,1480.2 1057.5,1474.4 1057.8,1468.8 1058.0,1463.3 1058.2,1458.0 1058.5,1453.0 1058.8,1448.2 1059.0,1443.9 1059.2,1439.9 1059.5,1436.4 1059.8,1433.3 1060.0,1430.8 1060.2,1428.7 1060.5,1427.2 1060.8,1426.2 1061.0,1425.7 1061.2,1425.7 1061.5,1426.3 1061.8,1427.4 1062.0,1428.9 1062.2,1431.0 1062.5,1433.5 1062.8,1436.4 1063.0,1439.8 1063.2,1443.5 1063.5,1447.6 1063.8,1451.9 1064.0,1456.6 1064.2,1461.4 1064.5,1466.5 1064.8,1471.6 1065.0,1476.9 1065.2,1482.2 1065.5,1487.5 1065.8,1492.7 1066.0,1497.8 1066.2,1502.8 1066.5,1507.6 1066.8,1512.2 1067.0,1516.5 1067.2,1520.4 1067.5,1524.1 1067.8,1527.4 1068.0,1530.3 1068.2,1532.8 1068.5,1534.8 1068.8,1536.4 1069.0,1537.6 1069.2,1538.3 1069.5,1538.6 1069.8,1538.3 1070.0,1537.6 1070.2,1536.4 1070.5,1534.7 1070.8,1532.5 1071.0,1529.9 1071.2,1526.9 1071.5,1523.5 1071.8,1519.7 1072.0,1515.6 1072.2,1511.1 1072.5,1506.4 1072.8,1501.5 1073.0,1496.3 1073.2,1491.1 1073.5,1485.7 1073.8,1480.2 1074.0,1474.7 1074.2,1469.3 1074.5,1463.9 1074.8,1458.6 1075.0,1453.5 1075.2,1448.6 1075.5,1443.9 1075.8,1439.5 1076.0,1435.4 1076.2,1431.6 1076.5,1428.3 1076.8,1425.3 1077.0,1422.9 1077.2,1420.9 1077.5,1419.4 1077.8,1418.4 1078.0,1418.0 1078.2,1418.1 1078.5,1418.7 1078.8,1419.7 1079.0,1421.3 1079.2,1423.3 1079.5,1425.7 1079.8,1428.5 1080.0,1431.7 1080.2,1435.3 1080.5,1439.2 1080.8,1443.4 1081.0,1447.9 1081.2,1452.6 1081.5,1457.5 1081.8,1462.5 1082.0,1467.7 1082.2,1472.9 1082.5,1478.2 1082.8,1483.5 1083.0,1488.7 1083.2,1493.8 1083.5,1498.8 1083.8,1503.7 1084.0,1508.4 1084.2,1512.8 1084.5,1517.0 1084.8,1520.9 1085.0,1524.5 1085.2,1527.8 1085.5,1530.7 1085.8,1533.3 1086.0,1535.5 1086.2,1537.2 1086.5,1538.6 1086.8,1539.6 1087.0,1540.2 1087.2,1540.4 1087.5,1540.1 1087.8,1539.5 1088.0,1538.4 1088.2,1536.9 1088.5,1535.1 1088.8,1532.8 1089.0,1530.3 1089.2,1527.4 1089.5,1524.2 1089.8,1520.7 1090.0,1517.0 1090.2,1513.1 1090.5,1509.0 1090.8,1504.7 1091.0,1500.3 1091.2,1495.8 1091.5,1491.3 1091.8,1486.7 1092.0,1482.2 1092.2,1477.7 1092.5,1473.3 1092.8,1469.1 1093.0,1464.9 1093.2,1461.0 1093.5,1457.2 1093.8,1453.7 1094.0,1450.5 1094.2,1447.5 1094.5,1444.9 1094.8,1442.5 1095.0,1440.6 1095.2,1439.0 1095.5,1437.9 1095.8,1437.1 1096.0,1436.8 1096.2,1436.9 1096.5,1437.4 1096.8,1438.3 1097.0,1439.6 1097.2,1441.3 1097.5,1443.3 1097.8,1445.6 1098.0,1448.3 1098.2,1451.2 1098.5,1454.4 1098.8,1457.9 1099.0,1461.6 1099.2,1465.5 1099.5,1469.6 1099.8,1473.8 1100.0,1478.2 1100.2,1482.6 1100.5,1487.1 1100.8,1491.7 1101.0,1496.2 1101.2,1500.7 1101.5,1505.2 1101.8,1509.6 1102.0,1513.8 1102.2,1518.0 1102.5,1522.0 1102.8,1525.8 1103.0,1529.3 1103.2,1532.6 1103.5,1535.7 1103.8,1538.5 1104.8,1537.3" fill="none" stroke="#3366cc" stroke-width="2.5" stroke-linejoin="round"/><path d="M1104.8,1537.3 1105.9,1533.7 1107.0,1528.1 1108.1,1520.9 1109.1,1512.6 1110.2,1504.0 1111.3,1495.8 1112.4,1488.6 1113.4,1483.0 1114.5,1479.4 1115.6,1478.2 1116.6,1480.0 1117.7,1485.2 1118.7,1493.4 1119.8,1504.0 1120.8,1516.1 1121.9,1528.7 1122.9,1540.8 1124.0,1551.4 1125.0,1559.6 1126.1,1564.8 1127.1,1566.6 1128.1,1565.7 1129.2,1563.1 1130.2,1559.0 1131.2,1553.6 1132.2,1547.6 1133.2,1541.2 1134.2,1535.1 1135.2,1529.8 1136.2,1525.7 1137.2,1523.0 1138.2,1522.1 1139.3,1522.8 1140.3,1524.9 1141.4,1528.2 1142.5,1532.5 1143.5,1537.6 1144.6,1543.1 1145.6,1548.9 1146.7,1554.5 1147.8,1559.6 1148.8,1563.9 1149.9,1567.2 1151.0,1569.2 1152.0,1569.9 1153.1,1569.5 1154.1,1568.2 1155.1,1566.2 1156.2,1563.5 1157.2,1560.3 1158.3,1556.7 1159.3,1552.9 1160.4,1549.2 1161.4,1545.6 1162.4,1542.4 1163.5,1539.7 1164.5,1537.6 1165.6,1536.4 1166.6,1536.0 1167.6,1536.3 1168.6,1537.4 1169.6,1539.2 1170.6,1541.6 1171.6,1544.5 1172.6,1547.7 1173.6,1551.2 1174.6,1554.7 1175.6,1558.2 1176.7,1561.4 1177.7,1564.3 1178.7,1566.7 1179.7,1568.4 1180.7,1569.5 1181.7,1569.9 1182.7,1569.4 1183.7,1567.9 1184.7,1565.5 1185.7,1562.3 1186.7,1558.5 1187.7,1554.1 1188.7,1549.4 1189.7,1544.6 1190.7,1540.0 1191.7,1535.6 1192.7,1531.7 1193.7,1528.5 1194.7,1526.1 1195.8,1524.7 1196.8,1524.2 1197.8,1524.5 1198.8,1525.7 1199.8,1527.5 1200.8,1529.9 1201.8,1532.9 1202.8,1536.2 1203.8,1539.8 1204.8,1543.4 1205.8,1547.0 1206.8,1550.4 1207.8,1553.3 1208.8,1555.8 1209.8,1557.6 1210.8,1558.7 1211.8,1559.1 1212.8,1558.5 1213.8,1556.8 1214.9,1554.1 1215.9,1550.4 1216.9,1545.8 1217.9,1540.4 1218.9,1534.5 1219.9,1528.3 1220.9,1521.8 1221.9,1515.3 1222.9,1509.0 1223.9,1503.1 1224.9,1497.8 1225.9,1493.2 1226.9,1489.4 1227.9,1486.7 1228.9,1485.0 1229.9,1484.4 1231.0,1485.2 1232.1,1487.5 1233.1,1491.1 1234.2,1495.8 1235.2,1501.5 1236.3,1507.7 1237.4,1514.0 1238.4,1520.2 1239.5,1525.8 1240.6,1530.6 1241.6,1534.2 1242.7,1536.5 1243.8,1537.2 1244.8,1536.4 1245.8,1534.1 1246.8,1530.3 1247.9,1525.0 1248.9,1518.6 1249.9,1511.0 1251.0,1502.6 1252.0,1493.6 1253.0,1484.2 1254.1,1474.6 1255.1,1465.2 1256.1,1456.2 1257.2,1447.8 1258.2,1440.3 1259.2,1433.8 1260.3,1428.6 1261.3,1424.8 1262.3,1422.4 1263.4,1421.6 1264.4,1422.6 1265.5,1425.3 1266.5,1429.9 1267.6,1435.9 1268.6,1443.2 1269.7,1451.4 1270.7,1460.2 1271.8,1469.2 1272.9,1478.0 1273.9,1486.3 1275.0,1493.6 1276.0,1499.6 1277.1,1504.1 1278.1,1506.9 1279.2,1507.8 1280.2,1507.0 1281.2,1504.5 1282.2,1500.3 1283.2,1494.7 1284.2,1487.7 1285.2,1479.5 1286.2,1470.4 1287.2,1460.4 1288.2,1449.9 1289.2,1439.2 1290.2,1428.5 1291.3,1418.0 1292.3,1408.1 1293.3,1398.9 1294.3,1390.7 1295.3,1383.7 1296.3,1378.1 1297.3,1374.0 1298.3,1371.4 1299.3,1370.6 1300.3,1371.5 1301.4,1374.1 1302.4,1378.4 1303.5,1384.3 1304.5,1391.5 1305.6,1399.9 1306.6,1409.1 1307.7,1419.0 1308.7,1429.2 1309.8,1439.3 1310.8,1449.2 1311.9,1458.4 1312.9,1466.8 1314.0,1474.0 1315.0,1479.9 1316.1,1484.2 1317.1,1486.8 1318.1,1487.7 1319.2,1486.9 1320.2,1484.3 1321.2,1480.1 1322.3,1474.4 1323.3,1467.3 1324.3,1459.0 1325.4,1449.6 1326.4,1439.5 1327.4,1428.9 1328.4,1418.0 1329.5,1407.1 1330.5,1396.4 1331.5,1386.3 1332.6,1377.0 1333.6,1368.7 1334.6,1361.6 1335.7,1355.8 1336.7,1351.6 1337.7,1349.1 1338.8,1348.2 1339.8,1348.9 1340.8,1350.8 1341.9,1354.0 1342.9,1358.4 1343.9,1363.9 1345.0,1370.4 1346.0,1377.8 1347.1,1385.9 1348.1,1394.6 1349.1,1403.8 1350.2,1413.2 1351.2,1422.7 1352.2,1432.2 1353.3,1441.3 1354.3,1450.1 1355.4,1458.2 1356.4,1465.6 1357.4,1472.1 1358.5,1477.6 1359.5,1481.9 1360.6,1485.1 1361.6,1487.1 1362.6,1487.7 1363.7,1487.1 1364.7,1485.3 1365.7,1482.4 1366.8,1478.4 1367.8,1473.4 1368.9,1467.5 1369.9,1460.7 1370.9,1453.2 1372.0,1445.3 1373.0,1436.9 1374.0,1428.2 1375.1,1419.5 1376.1,1410.9 1377.2,1402.5 1378.2,1394.5 1379.2,1387.1 1380.3,1380.3 1381.3,1374.4 1382.4,1369.3 1383.4,1365.3 1384.4,1362.4 1385.5,1360.6 1386.5,1360.0 1387.5,1360.5 1388.5,1361.7 1389.6,1363.9 1390.6,1366.8 1391.6,1370.5 1392.6,1374.9 1393.7,1380.0 1394.7,1385.7 1395.7,1392.0 1396.7,1398.8 1397.8,1406.0 1398.8,1413.4 1399.8,1421.1 1400.8,1429.0 1401.8,1436.9 1402.9,1444.7 1403.9,1452.4 1404.9,1459.9 1405.9,1467.1 1407.0,1473.8 1408.0,1480.1 1409.0,1485.8 1410.0,1490.9 1411.0,1495.4 1412.1,1499.1 1413.1,1502.0 1414.1,1504.1 1415.1,1505.4 1416.2,1505.8 1417.2,1505.4 1418.2,1504.2 1419.3,1502.2 1420.3,1499.5 1421.3,1496.1 1422.4,1492.0 1423.4,1487.3 1424.4,1482.0 1425.5,1476.3 1426.5,1470.3 1427.5,1463.9 1428.6,1457.4 1429.6,1450.8 1430.6,1444.1 1431.7,1437.6 1432.7,1431.3 1433.7,1425.2 1434.8,1419.5 1435.8,1414.3 1436.8,1409.6 1437.9,1405.5 1438.9,1402.0 1439.9,1399.3 1441.0,1397.3 1442.0,1396.1 1443.1,1395.7 1444.1,1396.0 1445.1,1396.7 1446.1,1397.9 1447.1,1399.5 1448.1,1401.6 1449.2,1404.2 1450.2,1407.1 1451.2,1410.5 1452.2,1414.2 1453.2,1418.2 1454.3,1422.6 1455.3,1427.3 1456.3,1432.2 1457.3,1437.3 1458.3,1442.7 1459.4,1448.1 1460.4,1453.7 1461.4,1459.3 1462.4,1464.9 1463.4,1470.5 1464.4,1476.1 1465.5,1481.5 1466.5,1486.8 1467.5,1492.0 1468.5,1496.9 1469.5,1501.5 1470.6,1505.9 1471.6,1510.0 1472.6,1513.7 1473.6,1517.1 1474.6,1520.0 1475.7,1522.5 1476.7,1524.6 1477.7,1526.3 1478.7,1527.5 1479.7,1528.2 1480.7,1528.4 1481.8,1528.2 1482.8,1527.6 1483.8,1526.6 1484.8,1525.3 1485.8,1523.5 1486.8,1521.4 1487.8,1518.9 1488.8,1516.1 1489.9,1513.0 1490.9,1509.7 1491.9,1506.0 1492.9,1502.2 1493.9,1498.1 1494.9,1493.9 1495.9,1489.5 1496.9,1485.0 1498.0,1480.5 1499.0,1475.9 1500.0,1471.3 1501.0,1466.8 1502.0,1462.3 1503.0,1457.9 1504.0,1453.7 1505.0,1449.6 1506.1,1445.8 1507.1,1442.1 1508.1,1438.8 1509.1,1435.7 1510.1,1432.9 1511.1,1430.4 1512.1,1428.3 1513.1,1426.5 1514.2,1425.2 1515.2,1424.2 1516.2,1423.6 1517.2,1423.4 1518.2,1423.5 1519.2,1423.9 1520.2,1424.6 1521.2,1425.5 1522.2,1426.8 1523.2,1428.2 1524.2,1429.9 1525.2,1431.9 1526.2,1434.1 1527.2,1436.5 1528.2,1439.1 1529.3,1442.0 1530.3,1445.0 1531.3,1448.2 1532.3,1451.5 1533.3,1455.0 1534.3,1458.7 1535.3,1462.4 1536.3,1466.3 1537.3,1470.2 1538.3,1474.2 1539.3,1478.2 1540.3,1482.3 1541.3,1486.4 1542.3,1490.4 1543.3,1494.5 1544.3,1498.5 1545.3,1502.4 1546.3,1506.2 1547.3,1510.0 1548.4,1513.6 1549.4,1517.1 1550.4,1520.5 1551.4,1523.7 1552.4,1526.7 1553.4,1529.5 1554.4,1532.2 1555.4,1534.6 1556.4,1536.8 1557.4,1538.7 1558.4,1540.4 1559.4,1541.9 1560.4,1543.1 1561.4,1544.0 1562.4,1544.7 1563.4,1545.1 1564.4,1545.3 1565.4,1545.8 1566.9,1545.8 1568.4,1544.4 1569.9,1541.8 1571.4,1538.3 1572.9,1533.9 1574.4,1528.9 1575.9,1523.5 1577.4,1517.9 1578.9,1512.3 1580.4,1506.8 1581.9,1501.7 1583.4,1496.7 1584.9,1491.2 1586.4,1485.3 1587.9,1479.2 1589.4,1473.1 1590.9,1467.1 1592.4,1461.3 1593.9,1455.9 1595.4,1451.0 1596.9,1446.8 1598.4,1443.0 1599.9,1439.2 1601.4,1435.7 1602.9,1432.5 1604.4,1429.9 1605.9,1427.9 1607.4,1426.7 1608.9,1425.8 1610.4,1424.9 1611.9,1424.3 1613.4,1423.9 1614.9,1423.8 1616.4,1424.1 1617.9,1424.7 1619.4,1425.6 1620.9,1426.7 1622.4,1428.1 1623.9,1429.5 1625.4,1431.1 1626.9,1432.7 1628.4,1434.9 1629.9,1437.5 1631.4,1440.7 1632.9,1444.1 1634.4,1447.9 1635.9,1451.8 1637.4,1455.8 1638.9,1459.8 1640.4,1464.0 1641.9,1468.6 1643.4,1473.6 1644.9,1478.7 1646.4,1484.0 1647.9,1489.4 1649.4,1494.7 1650.9,1500.0 1652.4,1505.0 1653.9,1509.8 1655.4,1514.8 1656.9,1519.9 1658.4,1525.0 1659.9,1530.0 1661.4,1534.7 1662.9,1538.9 1664.4,1542.6 1665.9,1545.6 1667.4,1548.2 1668.9,1550.9 1670.4,1553.4 1671.9,1555.6 1673.4,1557.6 1674.9,1559.1 1676.4,1560.1 1677.9,1560.6 1679.4,1560.4 1680.9,1560.0 1682.4,1559.3 1683.9,1558.4 1685.4,1557.3 1686.9,1556.0 1688.4,1554.6 1689.9,1553.1 1691.4,1551.4 1692.9,1548.9 1694.4,1545.7 1695.9,1541.9 1697.4,1537.6 1698.9,1533.0 1700.4,1528.2 1701.9,1523.2 1703.4,1518.1 1704.9,1512.0 1706.4,1505.2 1707.9,1497.9 1709.4,1490.3 1710.9,1482.6 1712.4,1475.3 1713.9,1468.5 1715.4,1462.3 1716.9,1456.2 1718.4,1450.0 1719.9,1443.8 1721.4,1438.0 1722.9,1432.7 1724.4,1428.1 1725.9,1424.5 1727.4,1422.1 1728.9,1420.3 1730.4,1418.6 1731.9,1417.0 1733.4,1415.5 1734.9,1414.2 1736.4,1413.2 1737.9,1412.3 1739.4,1411.7 1740.9,1411.3 1742.4,1411.2 1743.9,1411.3 1745.4,1411.5 1746.9,1411.8 1748.4,1412.2 1749.9,1412.6 1751.4,1413.1 1752.9,1413.6 1754.4,1414.1 1755.9,1414.6 1757.4,1415.1 1758.9,1415.7 1760.4,1416.3 1761.9,1416.9 1763.4,1417.6 1764.9,1418.3 1766.4,1419.1 1767.9,1420.0 1769.4,1420.9 1770.9,1421.8 1772.4,1422.9 1773.9,1424.0 1775.4,1425.1 1776.9,1426.4 1778.4,1427.9 1779.9,1429.6 1781.4,1431.6 1782.9,1433.9 1784.4,1436.3 1785.9,1438.8 1787.4,1441.6 1788.9,1444.8 1790.4,1448.3 1791.9,1452.2 1793.4,1456.3 1794.9,1460.5 1796.4,1464.9 1797.9,1469.7 1799.4,1474.9 1800.9,1480.4 1802.4,1486.2 1803.9,1492.0 1805.4,1497.7 1806.9,1503.1 1808.4,1508.3 1809.9,1513.3 1811.4,1518.4 1812.9,1523.5 1814.4,1528.4 1815.9,1533.1 1817.4,1537.5 1818.9,1541.4 1820.4,1544.7 1821.9,1547.5 1823.4,1550.1 1824.9,1552.7 1826.4,1555.1 1827.9,1557.3 1829.4,1559.3 1830.9,1561.1 1832.4,1562.7 1833.9,1564.0 1835.4,1564.9 1836.9,1565.7 1838.4,1566.5 1839.9,1567.2 1841.4,1567.9 1842.9,1568.4 1844.4,1568.9 1845.9,1569.4 1847.4,1569.7 1848.9,1569.9 1850.4,1569.9 1851.9,1569.9 1853.4,1569.9 1854.9,1569.9 1856.4,1569.9 1857.9,1569.9 1859.4,1569.9 1860.9,1569.9 1862.4,1569.9 1863.9,1569.9 1865.4,1569.9 1866.9,1569.9 1868.4,1569.9 1869.9,1569.9 1871.4,1569.9 1872.9,1569.9 1874.4,1569.9 1875.9,1569.9 1877.4,1569.9 1878.9,1569.9 1880.4,1569.9 1881.9,1569.7 1883.4,1569.4 1884.9,1568.9 1886.4,1568.2 1887.9,1567.5 1889.4,1566.6 1890.9,1565.7 1892.4,1564.8 1893.9,1563.5 1895.4,1561.7 1896.9,1559.6 1898.4,1557.2 1899.9,1554.4 1901.4,1551.5 1902.9,1548.4 1904.4,1545.3 1905.9,1541.8 1907.4,1537.8 1908.9,1533.5 1910.4,1528.7 1911.9,1523.6 1913.4,1518.3 1914.9,1512.7 1916.4,1507.0 1917.9,1501.0 1919.4,1494.1 1920.9,1486.7 1922.4,1479.0 1923.9,1471.1 1925.4,1463.4 1926.9,1456.1 1928.4,1449.3 1929.9,1443.1 1931.4,1436.8 1932.9,1430.4 1934.4,1424.5 1935.9,1419.2 1937.4,1415.1 1938.9,1412.4 1940.4,1410.4 1941.9,1408.6 1943.4,1407.0 1944.9,1405.6 1946.4,1404.4 1947.9,1403.5 1949.4,1402.9 1950.9,1402.6 1952.4,1402.7 1953.9,1403.0 1955.4,1403.4 1956.9,1404.0 1958.4,1404.6 1959.9,1405.4 1961.4,1406.2 1962.9,1407.1 1964.4,1407.9 1965.9,1408.8 1967.4,1409.7 1968.9,1410.7 1970.4,1411.8 1971.9,1413.0 1973.4,1414.3 1974.9,1415.6 1976.4,1417.0 1977.9,1418.3 1979.4,1419.5 1980.9,1420.7 1982.4,1421.8 1983.9,1422.8 1985.4,1423.8 1986.9,1424.8 1988.4,1425.7 1989.9,1426.6 1991.4,1427.5 1992.9,1428.4 1994.4,1429.3 1995.9,1430.1 1997.4,1430.9 1998.9,1431.6 2000.4,1432.3 2001.9,1433.0 2003.4,1433.6 2004.9,1434.3 2006.4,1435.0 2007.9,1435.6 2009.4,1436.3 2010.9,1436.9 2012.4,1437.4 2013.9,1437.8 2015.4,1438.1 2016.9,1438.3 2018.4,1438.3 2019.9,1438.3 2021.4,1438.3 2022.9,1438.3 2024.4,1438.3 2025.9,1438.3 2027.4,1438.3 2028.9,1438.3 2030.4,1438.3 2031.9,1438.3 2033.4,1438.3 2034.9,1438.3 2036.4,1438.3 2037.9,1438.3 2039.4,1438.3 2040.9,1438.3 2042.4,1438.3 2043.9,1438.3 2045.4,1438.3 2046.9,1438.3 2048.4,1438.3 2049.9,1438.3 2051.4,1438.3 2052.9,1438.3 2054.4,1438.1 2055.9,1437.8 2057.4,1437.5 2058.9,1437.1" fill="none" stroke="#3366cc" stroke-width="2.0" stroke-linejoin="round"/>
<path d="M152.5 1112.2H2060.3" stroke="#404040" stroke-width="2.4" fill="none"/>
<path d="M152.5 1181.4H2060.3" stroke="#000" stroke-width="2.8" fill="none"/>
<path d="M152.5 1246.5H2060.3" stroke="#808080" stroke-width="2.2" fill="none"/>
<rect x="152.5" y="1061.4" width="1907.8" height="509.0" fill="none" stroke="#000" stroke-width="2.9"/>
<path d="M152.5 1536.5h10.3M152.5 1502.5h10.3M152.5 1468.6h10.3M152.5 1434.7h10.3M152.5 1400.7h21.5M152.5 1366.8h10.3M152.5 1332.9h10.3M152.5 1298.9h10.3M152.5 1265.0h10.3M152.5 1231.1h21.5M152.5 1197.1h10.3M152.5 1163.2h10.3M152.5 1129.3h10.3M152.5 1095.3h10.3M160.4 1570.4v-10.3M227.5 1570.4v-10.3M282.4 1570.4v-10.3M328.7 1570.4v-10.3M368.9 1570.4v-10.3M404.4 1570.4v-10.3M436.1 1570.4v-23M644.6 1570.4v-10.3M766.6 1570.4v-10.3M853.1 1570.4v-10.3M920.2 1570.4v-10.3M975.1 1570.4v-10.3M1021.4 1570.4v-10.3M1061.6 1570.4v-10.3M1097.1 1570.4v-10.3M1128.8 1570.4v-23M1337.3 1570.4v-10.3M1459.3 1570.4v-10.3M1545.8 1570.4v-10.3M1612.9 1570.4v-10.3M1667.8 1570.4v-10.3M1714.1 1570.4v-10.3M1754.3 1570.4v-10.3M1789.8 1570.4v-10.3M1821.5 1570.4v-23M2030.0 1570.4v-10.3" stroke="#000" stroke-width="2.6" fill="none"/>
<g class="tb" font-size="31" style="font-family:'DejaVu Sans','Liberation Sans',sans-serif;font-size:32px" text-anchor="end">
<text x="129.4" y="1072.6">0.6</text>
<text x="129.4" y="1242.3">0.4</text>
<text x="129.4" y="1411.9">0.2</text>
</g>
<g style="font-family:'DejaVu Sans','Liberation Sans',sans-serif;font-size:32px" text-anchor="middle">
<text x="436.1" y="1620.3">1</text>
<text x="1128.8" y="1620.3">10</text>
<text x="1821.5" y="1620.3">100</text>
</g>
<text class="tb" text-anchor="middle" x="1107.3" y="1668" textLength="154" lengthAdjust="spacingAndGlyphs">Period [d]</text>
<text class="tb" text-anchor="middle" transform="translate(28.5 1316.2) rotate(-90)" textLength="274.5" lengthAdjust="spacingAndGlyphs">Normalized Power</text>
<text class="bd" x="1979.6" y="1161">b</text>
<rect x="6.0" y="1689" width="26.4" height="26.3" fill="#000000"/>
<text class="tb" x="54.4" y="1714" textLength="108" lengthAdjust="spacingAndGlyphs">FAP:1%</text>
<rect x="414.6" y="1689" width="26.4" height="26.3" fill="#808080"/>
<text class="tb" x="461.0" y="1714" textLength="129" lengthAdjust="spacingAndGlyphs">FAP:10%</text>
<rect x="822.6" y="1689" width="26.4" height="26.3" fill="#404040"/>
<text class="tb" x="868.6" y="1714" textLength="141" lengthAdjust="spacingAndGlyphs">FAP:0.1%</text>
</svg></body></html>
